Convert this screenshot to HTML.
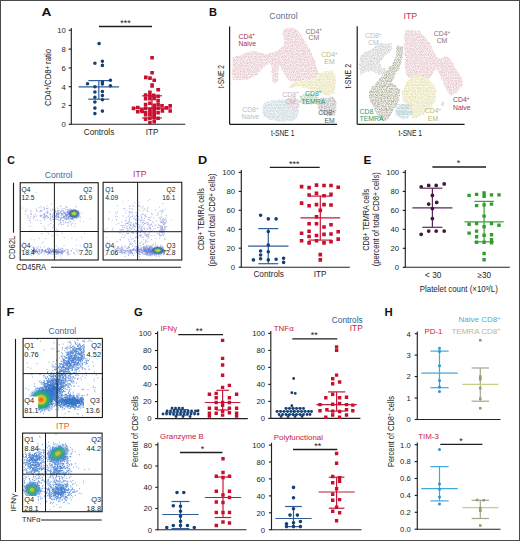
<!DOCTYPE html>
<html><head><meta charset="utf-8"><style>
html,body{margin:0;padding:0;background:#fff;}
svg{display:block;font-family:"Liberation Sans", sans-serif;}
</style></head><body>
<svg width="520" height="541" viewBox="0 0 520 541">
<defs><clipPath id="cc"><rect x="20.2" y="182.7" width="78.0" height="77.30000000000001"/></clipPath><filter id="bfcc" x="-5%" y="-5%" width="110%" height="110%"><feGaussianBlur stdDeviation="0.3"/></filter><radialGradient id="g2"><stop offset="0" stop-color="#e8b42c" stop-opacity="1"/><stop offset="0.25" stop-color="#c8c83e" stop-opacity="1"/><stop offset="0.45" stop-color="#2fa272" stop-opacity="1"/><stop offset="0.7" stop-color="#3a66b6" stop-opacity="0.85"/><stop offset="0.88" stop-color="#9a86dc" stop-opacity="0.5"/><stop offset="1" stop-color="#9a86dc" stop-opacity="0"/></radialGradient><clipPath id="ci"><rect x="103.1" y="182.3" width="78.70000000000002" height="77.69999999999999"/></clipPath><filter id="bfci" x="-5%" y="-5%" width="110%" height="110%"><feGaussianBlur stdDeviation="0.3"/></filter><radialGradient id="g5"><stop offset="0" stop-color="#e8b42c" stop-opacity="1"/><stop offset="0.25" stop-color="#c8c83e" stop-opacity="1"/><stop offset="0.45" stop-color="#2fa272" stop-opacity="1"/><stop offset="0.7" stop-color="#3a66b6" stop-opacity="0.85"/><stop offset="0.88" stop-color="#9a86dc" stop-opacity="0.5"/><stop offset="1" stop-color="#9a86dc" stop-opacity="0"/></radialGradient><clipPath id="fc"><rect x="23.1" y="338.4" width="79.30000000000001" height="79.10000000000002"/></clipPath><filter id="bffc" x="-5%" y="-5%" width="110%" height="110%"><feGaussianBlur stdDeviation="0.3"/></filter><radialGradient id="g8"><stop offset="0" stop-color="#e8581e" stop-opacity="1"/><stop offset="0.17" stop-color="#ee8a20" stop-opacity="1"/><stop offset="0.3" stop-color="#d9cf3e" stop-opacity="1"/><stop offset="0.46" stop-color="#3fb04a" stop-opacity="1"/><stop offset="0.66" stop-color="#1e9fa6" stop-opacity="0.85"/><stop offset="0.85" stop-color="#3a80c8" stop-opacity="0.35"/><stop offset="1" stop-color="#3a80c8" stop-opacity="0"/></radialGradient><clipPath id="fi"><rect x="22.6" y="433.1" width="79.5" height="78.59999999999997"/></clipPath><filter id="bffi" x="-5%" y="-5%" width="110%" height="110%"><feGaussianBlur stdDeviation="0.3"/></filter><radialGradient id="g11"><stop offset="0" stop-color="#e39a2c" stop-opacity="1"/><stop offset="0.12" stop-color="#d8c43c" stop-opacity="1"/><stop offset="0.28" stop-color="#5ab44a" stop-opacity="0.95"/><stop offset="0.5" stop-color="#2aa596" stop-opacity="0.8"/><stop offset="0.75" stop-color="#4a8ac8" stop-opacity="0.35"/><stop offset="1" stop-color="#4a86c8" stop-opacity="0"/></radialGradient><radialGradient id="g12"><stop offset="0" stop-color="#e39a2c" stop-opacity="1"/><stop offset="0.12" stop-color="#d8c43c" stop-opacity="1"/><stop offset="0.28" stop-color="#5ab44a" stop-opacity="0.95"/><stop offset="0.5" stop-color="#2aa596" stop-opacity="0.8"/><stop offset="0.75" stop-color="#4a8ac8" stop-opacity="0.35"/><stop offset="1" stop-color="#4a86c8" stop-opacity="0"/></radialGradient><pattern id="pk" width="2.0" height="2.0" patternUnits="userSpaceOnUse" patternTransform="rotate(30)"><rect width="2.0" height="2.0" fill="#f7eaec"/><circle cx="1.0" cy="1.0" r="0.55" fill="#dcb6bd"/></pattern><pattern id="yl" width="2.0" height="2.0" patternUnits="userSpaceOnUse" patternTransform="rotate(30)"><rect width="2.0" height="2.0" fill="#f7f5dc"/><circle cx="1.0" cy="1.0" r="0.55" fill="#ddd8a6"/></pattern><pattern id="gn" width="2.0" height="2.0" patternUnits="userSpaceOnUse" patternTransform="rotate(30)"><rect width="2.0" height="2.0" fill="#e9f1ea"/><circle cx="1.0" cy="1.0" r="0.55" fill="#a9c8b5"/></pattern><pattern id="gy" width="2.0" height="2.0" patternUnits="userSpaceOnUse" patternTransform="rotate(30)"><rect width="2.0" height="2.0" fill="#ececec"/><circle cx="1.0" cy="1.0" r="0.55" fill="#acacac"/></pattern><pattern id="bl" width="2.0" height="2.0" patternUnits="userSpaceOnUse" patternTransform="rotate(30)"><rect width="2.0" height="2.0" fill="#eaf1f3"/><circle cx="1.0" cy="1.0" r="0.55" fill="#bccfd4"/></pattern><pattern id="lv" width="2.0" height="2.0" patternUnits="userSpaceOnUse" patternTransform="rotate(30)"><rect width="2.0" height="2.0" fill="#f1eaef"/><circle cx="1.0" cy="1.0" r="0.55" fill="#cdb9c6"/></pattern><pattern id="ol" width="2.0" height="2.0" patternUnits="userSpaceOnUse" patternTransform="rotate(30)"><rect width="2.0" height="2.0" fill="#efefe9"/><circle cx="1.0" cy="1.0" r="0.55" fill="#a4a492"/></pattern><pattern id="lg" width="2.0" height="2.0" patternUnits="userSpaceOnUse" patternTransform="rotate(30)"><rect width="2.0" height="2.0" fill="#f2f2f2"/><circle cx="1.0" cy="1.0" r="0.55" fill="#c4c4c4"/></pattern></defs>
<rect x="0" y="0" width="520" height="541" fill="#fff"/>
<text x="41.5" y="16" font-size="10.8" fill="#111" font-weight="bold" textLength="9.9" lengthAdjust="spacingAndGlyphs" >A</text>
<text x="209.1" y="16.2" font-size="10.8" fill="#111" font-weight="bold" textLength="8.0" lengthAdjust="spacingAndGlyphs" >B</text>
<text x="7.2" y="164.4" font-size="10.8" fill="#111" font-weight="bold" textLength="7.6000000000000005" lengthAdjust="spacingAndGlyphs" >C</text>
<text x="197.9" y="164.1" font-size="10.8" fill="#111" font-weight="bold" textLength="9.200000000000001" lengthAdjust="spacingAndGlyphs" >D</text>
<text x="363.6" y="164.2" font-size="10.8" fill="#111" font-weight="bold" textLength="7.9" lengthAdjust="spacingAndGlyphs" >E</text>
<text x="6.5" y="316.3" font-size="10.8" fill="#111" font-weight="bold" textLength="7.9" lengthAdjust="spacingAndGlyphs" >F</text>
<text x="134" y="316.4" font-size="10.8" fill="#111" font-weight="bold" textLength="8.7" lengthAdjust="spacingAndGlyphs" >G</text>
<text x="384.4" y="315.6" font-size="10.8" fill="#111" font-weight="bold" textLength="8.2" lengthAdjust="spacingAndGlyphs" >H</text>
<line x1="71.3" y1="28" x2="71.3" y2="124.8" stroke="#222" stroke-width="1.15"/>
<line x1="68.7" y1="124.3" x2="71.3" y2="124.3" stroke="#222" stroke-width="1.15"/>
<text x="65.7" y="127.1" font-size="7.7" fill="#1e1e1e" text-anchor="end" >0</text>
<line x1="68.7" y1="105.5" x2="71.3" y2="105.5" stroke="#222" stroke-width="1.15"/>
<text x="65.7" y="108.3" font-size="7.7" fill="#1e1e1e" text-anchor="end" >2</text>
<line x1="68.7" y1="86.7" x2="71.3" y2="86.7" stroke="#222" stroke-width="1.15"/>
<text x="65.7" y="89.5" font-size="7.7" fill="#1e1e1e" text-anchor="end" >4</text>
<line x1="68.7" y1="67.9" x2="71.3" y2="67.9" stroke="#222" stroke-width="1.15"/>
<text x="65.7" y="70.7" font-size="7.7" fill="#1e1e1e" text-anchor="end" >6</text>
<line x1="68.7" y1="49.1" x2="71.3" y2="49.1" stroke="#222" stroke-width="1.15"/>
<text x="65.7" y="51.9" font-size="7.7" fill="#1e1e1e" text-anchor="end" >8</text>
<line x1="68.7" y1="30.3" x2="71.3" y2="30.3" stroke="#222" stroke-width="1.15"/>
<text x="65.7" y="33.1" font-size="7.7" fill="#1e1e1e" text-anchor="end" >10</text>
<line x1="71.3" y1="124.3" x2="185.2" y2="124.3" stroke="#222" stroke-width="1.1"/>
<text x="99" y="135" font-size="8.2" fill="#1e1e1e" text-anchor="middle" >Controls</text>
<text x="152" y="135" font-size="8.2" fill="#1e1e1e" text-anchor="middle" >ITP</text>
<text transform="translate(51.3,77.4) rotate(-90)" x="0" y="0" font-size="9.2" fill="#222" text-anchor="middle" textLength="57" lengthAdjust="spacingAndGlyphs" >CD4<tspan font-size="7" dy="-1.2">+</tspan><tspan dy="1.2">/CD8</tspan><tspan font-size="7" dy="-1.2">+</tspan><tspan dy="1.2"> ratio</tspan></text>
<line x1="99" y1="26.5" x2="152" y2="26.5" stroke="#1e1e1e" stroke-width="1.3"/>
<text x="125.5" y="25.9" font-size="9" fill="#222" text-anchor="middle" >***</text>
<line x1="88.3" y1="80.6" x2="109.3" y2="80.6" stroke="#2f5f97" stroke-width="1.2"/>
<line x1="88.3" y1="99.2" x2="109.3" y2="99.2" stroke="#2f5f97" stroke-width="1.2"/>
<line x1="98.8" y1="80.6" x2="98.8" y2="99.2" stroke="#2f5f97" stroke-width="1.2"/>
<line x1="78.6" y1="86.8" x2="119" y2="86.8" stroke="#2f5f97" stroke-width="1.2"/>
<path fill="#163f74" d="M97.3 43.6a1.8 1.8 0 1 0 3.6 0a1.8 1.8 0 1 0 -3.6 0M93.1 63.2a1.8 1.8 0 1 0 3.6 0a1.8 1.8 0 1 0 -3.6 0M100.6 61.2a1.8 1.8 0 1 0 3.6 0a1.8 1.8 0 1 0 -3.6 0M100.6 65.4a1.8 1.8 0 1 0 3.6 0a1.8 1.8 0 1 0 -3.6 0M85.7 83.7a1.8 1.8 0 1 0 3.6 0a1.8 1.8 0 1 0 -3.6 0M108.6 80.2a1.8 1.8 0 1 0 3.6 0a1.8 1.8 0 1 0 -3.6 0M108.6 85.7a1.8 1.8 0 1 0 3.6 0a1.8 1.8 0 1 0 -3.6 0M100.6 82a1.8 1.8 0 1 0 3.6 0a1.8 1.8 0 1 0 -3.6 0M100.6 84a1.8 1.8 0 1 0 3.6 0a1.8 1.8 0 1 0 -3.6 0M93.1 86.8a1.8 1.8 0 1 0 3.6 0a1.8 1.8 0 1 0 -3.6 0M93.1 92a1.8 1.8 0 1 0 3.6 0a1.8 1.8 0 1 0 -3.6 0M100.6 91.5a1.8 1.8 0 1 0 3.6 0a1.8 1.8 0 1 0 -3.6 0M100.6 95.6a1.8 1.8 0 1 0 3.6 0a1.8 1.8 0 1 0 -3.6 0M93.1 97.3a1.8 1.8 0 1 0 3.6 0a1.8 1.8 0 1 0 -3.6 0M93.1 102a1.8 1.8 0 1 0 3.6 0a1.8 1.8 0 1 0 -3.6 0M100.6 99.8a1.8 1.8 0 1 0 3.6 0a1.8 1.8 0 1 0 -3.6 0M93.1 108.1a1.8 1.8 0 1 0 3.6 0a1.8 1.8 0 1 0 -3.6 0M93.1 113.6a1.8 1.8 0 1 0 3.6 0a1.8 1.8 0 1 0 -3.6 0M100.6 111.1a1.8 1.8 0 1 0 3.6 0a1.8 1.8 0 1 0 -3.6 0"/>
<line x1="142" y1="95.8" x2="162" y2="95.8" stroke="#c41a3a" stroke-width="1.2"/>
<line x1="142" y1="118" x2="162" y2="118" stroke="#c41a3a" stroke-width="1.2"/>
<line x1="152" y1="95.8" x2="152" y2="118" stroke="#c41a3a" stroke-width="1.2"/>
<line x1="132.4" y1="108.2" x2="171.6" y2="108.2" stroke="#c41a3a" stroke-width="1.2"/>
<path fill="#c8102e" d="M150.3 55.9h3.6v3.6h-3.6zM150.3 71h3.6v3.6h-3.6zM144 75.6h3.6v3.6h-3.6zM148.2 76.3h3.6v3.6h-3.6zM152.4 78.4h3.6v3.6h-3.6zM150.3 83.3h3.6v3.6h-3.6zM156.5 88h3.6v3.6h-3.6zM150.3 84.1h3.6v3.6h-3.6zM156.3 88h3.6v3.6h-3.6zM148.1 90.6h3.6v3.6h-3.6zM143.8 93.2h3.6v3.6h-3.6zM148.1 94h3.6v3.6h-3.6zM152 93.6h3.6v3.6h-3.6zM156.3 94.4h3.6v3.6h-3.6zM143.8 97h3.6v3.6h-3.6zM148.1 97h3.6v3.6h-3.6zM152.4 96.6h3.6v3.6h-3.6zM156.3 98.8h3.6v3.6h-3.6zM143.8 102.7h3.6v3.6h-3.6zM148.1 101.4h3.6v3.6h-3.6zM152.4 103.5h3.6v3.6h-3.6zM156.3 102.7h3.6v3.6h-3.6zM160.2 104h3.6v3.6h-3.6zM168.4 104h3.6v3.6h-3.6zM131.7 106.6h3.6v3.6h-3.6zM136 105.7h3.6v3.6h-3.6zM139.9 108.3h3.6v3.6h-3.6zM143.8 106.6h3.6v3.6h-3.6zM148.1 107.4h3.6v3.6h-3.6zM152.4 107h3.6v3.6h-3.6zM156.3 106.6h3.6v3.6h-3.6zM160.6 108.3h3.6v3.6h-3.6zM164.5 106.1h3.6v3.6h-3.6zM168.4 109.2h3.6v3.6h-3.6zM136 110h3.6v3.6h-3.6zM140.3 109.6h3.6v3.6h-3.6zM143.8 110.9h3.6v3.6h-3.6zM148.1 110h3.6v3.6h-3.6zM152.4 110.5h3.6v3.6h-3.6zM156.3 110.9h3.6v3.6h-3.6zM160.6 109.2h3.6v3.6h-3.6zM143.8 113h3.6v3.6h-3.6zM148.1 112.6h3.6v3.6h-3.6zM152.4 113.5h3.6v3.6h-3.6zM143.8 117.4h3.6v3.6h-3.6zM148.1 116.5h3.6v3.6h-3.6zM152.4 116.1h3.6v3.6h-3.6zM156.3 116.5h3.6v3.6h-3.6zM148.1 120.8h3.6v3.6h-3.6zM152.4 120h3.6v3.6h-3.6z"/>
<line x1="241.3" y1="170.1" x2="241.3" y2="267.7" stroke="#222" stroke-width="1.15"/>
<line x1="238.7" y1="267.2" x2="241.3" y2="267.2" stroke="#222" stroke-width="1.15"/>
<text x="235.1" y="270" font-size="7.7" fill="#1e1e1e" text-anchor="end" >0</text>
<line x1="238.7" y1="248.2" x2="241.3" y2="248.2" stroke="#222" stroke-width="1.15"/>
<text x="235.1" y="251" font-size="7.7" fill="#1e1e1e" text-anchor="end" >20</text>
<line x1="238.7" y1="229.3" x2="241.3" y2="229.3" stroke="#222" stroke-width="1.15"/>
<text x="235.1" y="232.1" font-size="7.7" fill="#1e1e1e" text-anchor="end" >40</text>
<line x1="238.7" y1="210.3" x2="241.3" y2="210.3" stroke="#222" stroke-width="1.15"/>
<text x="235.1" y="213.1" font-size="7.7" fill="#1e1e1e" text-anchor="end" >60</text>
<line x1="238.7" y1="191.4" x2="241.3" y2="191.4" stroke="#222" stroke-width="1.15"/>
<text x="235.1" y="194.1" font-size="7.7" fill="#1e1e1e" text-anchor="end" >80</text>
<line x1="238.7" y1="172.4" x2="241.3" y2="172.4" stroke="#222" stroke-width="1.15"/>
<text x="235.1" y="175.2" font-size="7.7" fill="#1e1e1e" text-anchor="end" >100</text>
<line x1="241.3" y1="267.2" x2="349.8" y2="267.2" stroke="#222" stroke-width="1.1"/>
<text x="268.7" y="277.2" font-size="8.2" fill="#1e1e1e" text-anchor="middle" >Controls</text>
<text x="320" y="277.2" font-size="8.2" fill="#1e1e1e" text-anchor="middle" >ITP</text>
<text transform="translate(204.2,219.2) rotate(-90)" x="0" y="0" font-size="8.8" fill="#222" text-anchor="middle" textLength="62" lengthAdjust="spacingAndGlyphs" >CD8<tspan font-size="7.6" dy="-1">+</tspan><tspan dy="1"> TEMRA cells</tspan></text>
<text transform="translate(214.8,219.9) rotate(-90)" x="0" y="0" font-size="8.8" fill="#222" text-anchor="middle" textLength="93" lengthAdjust="spacingAndGlyphs" >(percent of total CD8<tspan font-size="7.6" dy="-1">+</tspan><tspan dy="1"> cells)</tspan></text>
<line x1="269.8" y1="167.4" x2="319.7" y2="167.4" stroke="#1e1e1e" stroke-width="1.3"/>
<text x="294.2" y="166.8" font-size="9" fill="#222" text-anchor="middle" >***</text>
<line x1="258.3" y1="228.6" x2="278.3" y2="228.6" stroke="#2f5f97" stroke-width="1.2"/>
<line x1="258.3" y1="263.7" x2="278.3" y2="263.7" stroke="#2f5f97" stroke-width="1.2"/>
<line x1="268.3" y1="228.6" x2="268.3" y2="263.7" stroke="#2f5f97" stroke-width="1.2"/>
<line x1="248.1" y1="246.1" x2="288.5" y2="246.1" stroke="#2f5f97" stroke-width="1.2"/>
<path fill="#163f74" d="M258.8 215.3a1.8 1.8 0 1 0 3.6 0a1.8 1.8 0 1 0 -3.6 0M266.5 218.9a1.8 1.8 0 1 0 3.6 0a1.8 1.8 0 1 0 -3.6 0M274.3 218.9a1.8 1.8 0 1 0 3.6 0a1.8 1.8 0 1 0 -3.6 0M266.5 231.6a1.8 1.8 0 1 0 3.6 0a1.8 1.8 0 1 0 -3.6 0M266.5 245a1.8 1.8 0 1 0 3.6 0a1.8 1.8 0 1 0 -3.6 0M258.8 251a1.8 1.8 0 1 0 3.6 0a1.8 1.8 0 1 0 -3.6 0M266.5 251.8a1.8 1.8 0 1 0 3.6 0a1.8 1.8 0 1 0 -3.6 0M258.8 255a1.8 1.8 0 1 0 3.6 0a1.8 1.8 0 1 0 -3.6 0M258.8 258.8a1.8 1.8 0 1 0 3.6 0a1.8 1.8 0 1 0 -3.6 0M251.6 259.9a1.8 1.8 0 1 0 3.6 0a1.8 1.8 0 1 0 -3.6 0M266.5 259.9a1.8 1.8 0 1 0 3.6 0a1.8 1.8 0 1 0 -3.6 0M274.3 259.3a1.8 1.8 0 1 0 3.6 0a1.8 1.8 0 1 0 -3.6 0M281.8 258.2a1.8 1.8 0 1 0 3.6 0a1.8 1.8 0 1 0 -3.6 0M281.8 262.4a1.8 1.8 0 1 0 3.6 0a1.8 1.8 0 1 0 -3.6 0"/>
<line x1="308.6" y1="196.1" x2="332" y2="196.1" stroke="#c41a3a" stroke-width="1.2"/>
<line x1="308.6" y1="240.1" x2="332" y2="240.1" stroke="#c41a3a" stroke-width="1.2"/>
<line x1="320.3" y1="196.1" x2="320.3" y2="240.1" stroke="#c41a3a" stroke-width="1.2"/>
<line x1="300.4" y1="217.8" x2="340.2" y2="217.8" stroke="#c41a3a" stroke-width="1.2"/>
<path fill="#c8102e" d="M299.8 184.8h3.6v3.6h-3.6zM307.3 185.8h3.6v3.6h-3.6zM314.7 183.3h3.6v3.6h-3.6zM322.2 183.7h3.6v3.6h-3.6zM329.2 183.7h3.6v3.6h-3.6zM336.4 185.4h3.6v3.6h-3.6zM307.3 193.2h3.6v3.6h-3.6zM314.7 191.6h3.6v3.6h-3.6zM322.2 193.9h3.6v3.6h-3.6zM329.2 192.6h3.6v3.6h-3.6zM299.8 201.3h3.6v3.6h-3.6zM307.3 203.9h3.6v3.6h-3.6zM314.7 202.8h3.6v3.6h-3.6zM322.2 202.8h3.6v3.6h-3.6zM329.2 203.2h3.6v3.6h-3.6zM318.5 208.6h3.6v3.6h-3.6zM314.7 214.9h3.6v3.6h-3.6zM307.3 222h3.6v3.6h-3.6zM314.7 222h3.6v3.6h-3.6zM322.2 225.2h3.6v3.6h-3.6zM329.2 223h3.6v3.6h-3.6zM299.8 231.5h3.6v3.6h-3.6zM307.3 229.4h3.6v3.6h-3.6zM307.3 234.7h3.6v3.6h-3.6zM314.7 233.7h3.6v3.6h-3.6zM322.2 232.6h3.6v3.6h-3.6zM329.2 232.2h3.6v3.6h-3.6zM336.4 230h3.6v3.6h-3.6zM299.8 239h3.6v3.6h-3.6zM307.3 241.1h3.6v3.6h-3.6zM314.7 239h3.6v3.6h-3.6zM322.2 241.1h3.6v3.6h-3.6zM329.2 240h3.6v3.6h-3.6zM336.4 237.3h3.6v3.6h-3.6zM318.5 252.8h3.6v3.6h-3.6zM318.5 258.1h3.6v3.6h-3.6z"/>
<line x1="405.3" y1="170.1" x2="405.3" y2="267.8" stroke="#222" stroke-width="1.15"/>
<line x1="402.7" y1="267.3" x2="405.3" y2="267.3" stroke="#222" stroke-width="1.15"/>
<text x="399" y="270.1" font-size="7.7" fill="#1e1e1e" text-anchor="end" >0</text>
<line x1="402.7" y1="248.3" x2="405.3" y2="248.3" stroke="#222" stroke-width="1.15"/>
<text x="399" y="251.1" font-size="7.7" fill="#1e1e1e" text-anchor="end" >20</text>
<line x1="402.7" y1="229.3" x2="405.3" y2="229.3" stroke="#222" stroke-width="1.15"/>
<text x="399" y="232.1" font-size="7.7" fill="#1e1e1e" text-anchor="end" >40</text>
<line x1="402.7" y1="210.4" x2="405.3" y2="210.4" stroke="#222" stroke-width="1.15"/>
<text x="399" y="213.1" font-size="7.7" fill="#1e1e1e" text-anchor="end" >60</text>
<line x1="402.7" y1="191.4" x2="405.3" y2="191.4" stroke="#222" stroke-width="1.15"/>
<text x="399" y="194.2" font-size="7.7" fill="#1e1e1e" text-anchor="end" >80</text>
<line x1="402.7" y1="172.4" x2="405.3" y2="172.4" stroke="#222" stroke-width="1.15"/>
<text x="399" y="175.2" font-size="7.7" fill="#1e1e1e" text-anchor="end" >100</text>
<line x1="405.3" y1="267.3" x2="509.8" y2="267.3" stroke="#222" stroke-width="1.1"/>
<text transform="translate(368.6,219.8) rotate(-90)" x="0" y="0" font-size="8.8" fill="#222" text-anchor="middle" textLength="62" lengthAdjust="spacingAndGlyphs" >CD8<tspan font-size="7.6" dy="-1">+</tspan><tspan dy="1"> TEMRA cells</tspan></text>
<text transform="translate(379.3,219.2) rotate(-90)" x="0" y="0" font-size="8.8" fill="#222" text-anchor="middle" textLength="94" lengthAdjust="spacingAndGlyphs" >(percent of total CD8<tspan font-size="7.6" dy="-1">+</tspan><tspan dy="1"> cells)</tspan></text>
<text x="433.2" y="277.6" font-size="8.2" fill="#1e1e1e" text-anchor="middle" >&lt; 30</text>
<text x="484.2" y="277.6" font-size="8.2" fill="#1e1e1e" text-anchor="middle" >&#8805;30</text>
<text x="458.8" y="292.4" font-size="8.4" fill="#1e1e1e" text-anchor="middle" textLength="78" lengthAdjust="spacingAndGlyphs" >Platelet count (&#215;10<tspan font-size="5.5" dy="-2.6">9</tspan><tspan dy="2.6">/L)</tspan></text>
<line x1="432.4" y1="167" x2="486" y2="167" stroke="#1e1e1e" stroke-width="1.3"/>
<text x="458.6" y="166.4" font-size="9" fill="#222" text-anchor="middle" >*</text>
<line x1="422.4" y1="188.2" x2="442.4" y2="188.2" stroke="#5b2a5c" stroke-width="1.2"/>
<line x1="422.4" y1="227.3" x2="442.4" y2="227.3" stroke="#5b2a5c" stroke-width="1.2"/>
<line x1="432.4" y1="188.2" x2="432.4" y2="227.3" stroke="#5b2a5c" stroke-width="1.2"/>
<line x1="412.4" y1="207.9" x2="452.4" y2="207.9" stroke="#5b2a5c" stroke-width="1.2"/>
<path fill="#40173f" d="M419.3 186.9a1.9 1.9 0 1 0 3.8 0a1.9 1.9 0 1 0 -3.8 0M426.8 185.4a1.9 1.9 0 1 0 3.8 0a1.9 1.9 0 1 0 -3.8 0M434.3 185.4a1.9 1.9 0 1 0 3.8 0a1.9 1.9 0 1 0 -3.8 0M442.3 183.9a1.9 1.9 0 1 0 3.8 0a1.9 1.9 0 1 0 -3.8 0M430.5 195.4a1.9 1.9 0 1 0 3.8 0a1.9 1.9 0 1 0 -3.8 0M426.8 204.1a1.9 1.9 0 1 0 3.8 0a1.9 1.9 0 1 0 -3.8 0M434.8 202.4a1.9 1.9 0 1 0 3.8 0a1.9 1.9 0 1 0 -3.8 0M430.5 208.6a1.9 1.9 0 1 0 3.8 0a1.9 1.9 0 1 0 -3.8 0M430.5 218.6a1.9 1.9 0 1 0 3.8 0a1.9 1.9 0 1 0 -3.8 0M419.3 234.3a1.9 1.9 0 1 0 3.8 0a1.9 1.9 0 1 0 -3.8 0M426.8 231.1a1.9 1.9 0 1 0 3.8 0a1.9 1.9 0 1 0 -3.8 0M434.3 231.1a1.9 1.9 0 1 0 3.8 0a1.9 1.9 0 1 0 -3.8 0M442.3 231.1a1.9 1.9 0 1 0 3.8 0a1.9 1.9 0 1 0 -3.8 0"/>
<line x1="474.3" y1="201.4" x2="493.9" y2="201.4" stroke="#3aa23a" stroke-width="1.2"/>
<line x1="474.3" y1="241.8" x2="493.9" y2="241.8" stroke="#3aa23a" stroke-width="1.2"/>
<line x1="484.1" y1="201.4" x2="484.1" y2="241.8" stroke="#3aa23a" stroke-width="1.2"/>
<line x1="464.5" y1="221.9" x2="503.7" y2="221.9" stroke="#3aa23a" stroke-width="1.2"/>
<path fill="#2f9e2f" d="M467.4 193.7h3.4v3.4h-3.4zM474.9 192.7h3.4v3.4h-3.4zM482.4 191.2h3.4v3.4h-3.4zM482.4 194.5h3.4v3.4h-3.4zM489.8 193.2h3.4v3.4h-3.4zM497.3 193.2h3.4v3.4h-3.4zM474.9 203.9h3.4v3.4h-3.4zM482.4 203.2h3.4v3.4h-3.4zM489.8 202.4h3.4v3.4h-3.4zM482.4 214.4h3.4v3.4h-3.4zM467.4 222.6h3.4v3.4h-3.4zM474.9 221.9h3.4v3.4h-3.4zM482.4 225.1h3.4v3.4h-3.4zM489.8 221.9h3.4v3.4h-3.4zM497.3 223.6h3.4v3.4h-3.4zM467.4 231.4h3.4v3.4h-3.4zM474.9 229.4h3.4v3.4h-3.4zM482.4 233.6h3.4v3.4h-3.4zM489.8 233.1h3.4v3.4h-3.4zM474.9 235.1h3.4v3.4h-3.4zM474.9 240.6h3.4v3.4h-3.4zM482.4 240.6h3.4v3.4h-3.4zM489.8 238.1h3.4v3.4h-3.4zM489.8 241.1h3.4v3.4h-3.4zM482.4 251.8h3.4v3.4h-3.4zM482.4 258.1h3.4v3.4h-3.4z"/>
<line x1="157.6" y1="331.2" x2="157.6" y2="419.1" stroke="#222" stroke-width="1.15"/>
<line x1="155" y1="418.6" x2="157.6" y2="418.6" stroke="#222" stroke-width="1.15"/>
<text x="151.5" y="421.4" font-size="7.7" fill="#1e1e1e" text-anchor="end" >0</text>
<line x1="155" y1="401.6" x2="157.6" y2="401.6" stroke="#222" stroke-width="1.15"/>
<text x="151.5" y="404.4" font-size="7.7" fill="#1e1e1e" text-anchor="end" >20</text>
<line x1="155" y1="384.6" x2="157.6" y2="384.6" stroke="#222" stroke-width="1.15"/>
<text x="151.5" y="387.3" font-size="7.7" fill="#1e1e1e" text-anchor="end" >40</text>
<line x1="155" y1="367.5" x2="157.6" y2="367.5" stroke="#222" stroke-width="1.15"/>
<text x="151.5" y="370.3" font-size="7.7" fill="#1e1e1e" text-anchor="end" >60</text>
<line x1="155" y1="350.5" x2="157.6" y2="350.5" stroke="#222" stroke-width="1.15"/>
<text x="151.5" y="353.3" font-size="7.7" fill="#1e1e1e" text-anchor="end" >80</text>
<line x1="155" y1="333.5" x2="157.6" y2="333.5" stroke="#222" stroke-width="1.15"/>
<text x="151.5" y="336.3" font-size="7.7" fill="#1e1e1e" text-anchor="end" >100</text>
<line x1="157.6" y1="418.6" x2="247.8" y2="418.6" stroke="#222" stroke-width="1.1"/>
<text x="160.6" y="330.6" font-size="7.9" fill="#c8203f" >IFN&#947;</text>
<line x1="178.3" y1="334.6" x2="223" y2="334.6" stroke="#1e1e1e" stroke-width="1.3"/>
<text x="199.2" y="334" font-size="9" fill="#222" text-anchor="middle" >**</text>
<line x1="172.5" y1="409.6" x2="188.5" y2="409.6" stroke="#2f5f97" stroke-width="1.0"/>
<line x1="172.5" y1="415.2" x2="188.5" y2="415.2" stroke="#2f5f97" stroke-width="1.0"/>
<line x1="180.5" y1="409.6" x2="180.5" y2="415.2" stroke="#2f5f97" stroke-width="1.0"/>
<line x1="165" y1="412.3" x2="196" y2="412.3" stroke="#2f5f97" stroke-width="1.0"/>
<path fill="#163f74" d="M170.6 408.3a1.45 1.45 0 1 0 2.9 0a1.45 1.45 0 1 0 -2.9 0M174.1 408.3a1.45 1.45 0 1 0 2.9 0a1.45 1.45 0 1 0 -2.9 0M177.6 408.3a1.45 1.45 0 1 0 2.9 0a1.45 1.45 0 1 0 -2.9 0M181.1 408.3a1.45 1.45 0 1 0 2.9 0a1.45 1.45 0 1 0 -2.9 0M165.6 411a1.45 1.45 0 1 0 2.9 0a1.45 1.45 0 1 0 -2.9 0M169.1 411a1.45 1.45 0 1 0 2.9 0a1.45 1.45 0 1 0 -2.9 0M172.6 411a1.45 1.45 0 1 0 2.9 0a1.45 1.45 0 1 0 -2.9 0M176.1 411a1.45 1.45 0 1 0 2.9 0a1.45 1.45 0 1 0 -2.9 0M179.6 411a1.45 1.45 0 1 0 2.9 0a1.45 1.45 0 1 0 -2.9 0M183.1 411a1.45 1.45 0 1 0 2.9 0a1.45 1.45 0 1 0 -2.9 0M186.6 411a1.45 1.45 0 1 0 2.9 0a1.45 1.45 0 1 0 -2.9 0M190.1 411a1.45 1.45 0 1 0 2.9 0a1.45 1.45 0 1 0 -2.9 0M194.1 411a1.45 1.45 0 1 0 2.9 0a1.45 1.45 0 1 0 -2.9 0M161.6 414a1.45 1.45 0 1 0 2.9 0a1.45 1.45 0 1 0 -2.9 0M165.1 414a1.45 1.45 0 1 0 2.9 0a1.45 1.45 0 1 0 -2.9 0M168.6 414a1.45 1.45 0 1 0 2.9 0a1.45 1.45 0 1 0 -2.9 0M172.1 414a1.45 1.45 0 1 0 2.9 0a1.45 1.45 0 1 0 -2.9 0M175.6 414a1.45 1.45 0 1 0 2.9 0a1.45 1.45 0 1 0 -2.9 0M179.1 414a1.45 1.45 0 1 0 2.9 0a1.45 1.45 0 1 0 -2.9 0M182.6 414a1.45 1.45 0 1 0 2.9 0a1.45 1.45 0 1 0 -2.9 0M186.1 414a1.45 1.45 0 1 0 2.9 0a1.45 1.45 0 1 0 -2.9 0M189.6 414a1.45 1.45 0 1 0 2.9 0a1.45 1.45 0 1 0 -2.9 0M193.1 414a1.45 1.45 0 1 0 2.9 0a1.45 1.45 0 1 0 -2.9 0M196.6 414a1.45 1.45 0 1 0 2.9 0a1.45 1.45 0 1 0 -2.9 0M174.6 416.6a1.45 1.45 0 1 0 2.9 0a1.45 1.45 0 1 0 -2.9 0M181.6 416.6a1.45 1.45 0 1 0 2.9 0a1.45 1.45 0 1 0 -2.9 0M188.6 416.6a1.45 1.45 0 1 0 2.9 0a1.45 1.45 0 1 0 -2.9 0M196.6 410.8a1.45 1.45 0 1 0 2.9 0a1.45 1.45 0 1 0 -2.9 0"/>
<line x1="216.3" y1="390.3" x2="228.9" y2="390.3" stroke="#c41a3a" stroke-width="1.2"/>
<line x1="216.3" y1="410" x2="228.9" y2="410" stroke="#c41a3a" stroke-width="1.2"/>
<line x1="222.6" y1="390.3" x2="222.6" y2="410" stroke="#c41a3a" stroke-width="1.2"/>
<line x1="204.8" y1="402.5" x2="240.4" y2="402.5" stroke="#c41a3a" stroke-width="1.2"/>
<path fill="#c8102e" d="M220.9 338.7h3.4v3.4h-3.4zM220.9 356.7h3.4v3.4h-3.4zM220.9 363.3h3.4v3.4h-3.4zM220.9 373.6h3.4v3.4h-3.4zM220.9 385.7h3.4v3.4h-3.4zM227.7 383.7h3.4v3.4h-3.4zM207.7 392.5h3.4v3.4h-3.4zM214.5 391.7h3.4v3.4h-3.4zM234.9 392.5h3.4v3.4h-3.4zM214.5 396h3.4v3.4h-3.4zM227.7 396h3.4v3.4h-3.4zM214.5 400.8h3.4v3.4h-3.4zM220.9 400.8h3.4v3.4h-3.4zM227.7 400.8h3.4v3.4h-3.4zM207.7 406.6h3.4v3.4h-3.4zM214.5 406.6h3.4v3.4h-3.4zM220.9 403.7h3.4v3.4h-3.4zM227.7 406.6h3.4v3.4h-3.4zM234.9 406.6h3.4v3.4h-3.4zM207.7 411.5h3.4v3.4h-3.4zM214.5 411.5h3.4v3.4h-3.4zM220.9 409.6h3.4v3.4h-3.4zM220.9 413.4h3.4v3.4h-3.4zM227.7 411.1h3.4v3.4h-3.4zM234.9 411.5h3.4v3.4h-3.4zM234.9 414.4h3.4v3.4h-3.4zM207.7 414.4h3.4v3.4h-3.4z"/>
<line x1="270.8" y1="331.1" x2="270.8" y2="418.9" stroke="#222" stroke-width="1.15"/>
<line x1="268.2" y1="418.4" x2="270.8" y2="418.4" stroke="#222" stroke-width="1.15"/>
<text x="265" y="421.2" font-size="7.7" fill="#1e1e1e" text-anchor="end" >0</text>
<line x1="268.2" y1="401.4" x2="270.8" y2="401.4" stroke="#222" stroke-width="1.15"/>
<text x="265" y="404.2" font-size="7.7" fill="#1e1e1e" text-anchor="end" >20</text>
<line x1="268.2" y1="384.4" x2="270.8" y2="384.4" stroke="#222" stroke-width="1.15"/>
<text x="265" y="387.2" font-size="7.7" fill="#1e1e1e" text-anchor="end" >40</text>
<line x1="268.2" y1="367.4" x2="270.8" y2="367.4" stroke="#222" stroke-width="1.15"/>
<text x="265" y="370.2" font-size="7.7" fill="#1e1e1e" text-anchor="end" >60</text>
<line x1="268.2" y1="350.4" x2="270.8" y2="350.4" stroke="#222" stroke-width="1.15"/>
<text x="265" y="353.2" font-size="7.7" fill="#1e1e1e" text-anchor="end" >80</text>
<line x1="268.2" y1="333.4" x2="270.8" y2="333.4" stroke="#222" stroke-width="1.15"/>
<text x="265" y="336.2" font-size="7.7" fill="#1e1e1e" text-anchor="end" >100</text>
<line x1="270.8" y1="418.4" x2="360.4" y2="418.4" stroke="#222" stroke-width="1.1"/>
<text x="273.8" y="330.8" font-size="7.9" fill="#c8203f" >TNF&#945;</text>
<text x="362.7" y="322.7" font-size="8.3" fill="#2a5a98" text-anchor="end" >Controls</text>
<text x="362.7" y="330.8" font-size="8.3" fill="#c8203f" text-anchor="end" >ITP</text>
<line x1="292.3" y1="338.8" x2="337.3" y2="338.8" stroke="#1e1e1e" stroke-width="1.3"/>
<text x="314.2" y="338.2" font-size="9" fill="#222" text-anchor="middle" >**</text>
<line x1="284.5" y1="408.2" x2="302.5" y2="408.2" stroke="#2f5f97" stroke-width="1.0"/>
<line x1="284.5" y1="414.6" x2="302.5" y2="414.6" stroke="#2f5f97" stroke-width="1.0"/>
<line x1="293.5" y1="408.2" x2="293.5" y2="414.6" stroke="#2f5f97" stroke-width="1.0"/>
<line x1="275.5" y1="411.3" x2="311.5" y2="411.3" stroke="#2f5f97" stroke-width="1.0"/>
<path fill="#163f74" d="M292.2 378.5a1.45 1.45 0 1 0 2.9 0a1.45 1.45 0 1 0 -2.9 0M290.4 392.8a1.45 1.45 0 1 0 2.9 0a1.45 1.45 0 1 0 -2.9 0M293.8 393.4a1.45 1.45 0 1 0 2.9 0a1.45 1.45 0 1 0 -2.9 0M290.4 405.8a1.45 1.45 0 1 0 2.9 0a1.45 1.45 0 1 0 -2.9 0M284.6 408.5a1.45 1.45 0 1 0 2.9 0a1.45 1.45 0 1 0 -2.9 0M288.1 408.5a1.45 1.45 0 1 0 2.9 0a1.45 1.45 0 1 0 -2.9 0M291.6 408.5a1.45 1.45 0 1 0 2.9 0a1.45 1.45 0 1 0 -2.9 0M295.1 408.5a1.45 1.45 0 1 0 2.9 0a1.45 1.45 0 1 0 -2.9 0M298.6 408.5a1.45 1.45 0 1 0 2.9 0a1.45 1.45 0 1 0 -2.9 0M302.1 408.5a1.45 1.45 0 1 0 2.9 0a1.45 1.45 0 1 0 -2.9 0M275.6 411.5a1.45 1.45 0 1 0 2.9 0a1.45 1.45 0 1 0 -2.9 0M279.1 411.5a1.45 1.45 0 1 0 2.9 0a1.45 1.45 0 1 0 -2.9 0M282.6 411.5a1.45 1.45 0 1 0 2.9 0a1.45 1.45 0 1 0 -2.9 0M286.1 411.5a1.45 1.45 0 1 0 2.9 0a1.45 1.45 0 1 0 -2.9 0M289.6 411.5a1.45 1.45 0 1 0 2.9 0a1.45 1.45 0 1 0 -2.9 0M293.1 411.5a1.45 1.45 0 1 0 2.9 0a1.45 1.45 0 1 0 -2.9 0M296.6 411.5a1.45 1.45 0 1 0 2.9 0a1.45 1.45 0 1 0 -2.9 0M300.1 411.5a1.45 1.45 0 1 0 2.9 0a1.45 1.45 0 1 0 -2.9 0M303.6 411.5a1.45 1.45 0 1 0 2.9 0a1.45 1.45 0 1 0 -2.9 0M307.1 411.5a1.45 1.45 0 1 0 2.9 0a1.45 1.45 0 1 0 -2.9 0M310.1 411.5a1.45 1.45 0 1 0 2.9 0a1.45 1.45 0 1 0 -2.9 0M277.6 414.5a1.45 1.45 0 1 0 2.9 0a1.45 1.45 0 1 0 -2.9 0M281.1 414.5a1.45 1.45 0 1 0 2.9 0a1.45 1.45 0 1 0 -2.9 0M284.6 414.5a1.45 1.45 0 1 0 2.9 0a1.45 1.45 0 1 0 -2.9 0M288.1 414.5a1.45 1.45 0 1 0 2.9 0a1.45 1.45 0 1 0 -2.9 0M291.6 414.5a1.45 1.45 0 1 0 2.9 0a1.45 1.45 0 1 0 -2.9 0M295.1 414.5a1.45 1.45 0 1 0 2.9 0a1.45 1.45 0 1 0 -2.9 0M298.6 414.5a1.45 1.45 0 1 0 2.9 0a1.45 1.45 0 1 0 -2.9 0M302.1 414.5a1.45 1.45 0 1 0 2.9 0a1.45 1.45 0 1 0 -2.9 0M305.6 414.5a1.45 1.45 0 1 0 2.9 0a1.45 1.45 0 1 0 -2.9 0M308.6 414.5a1.45 1.45 0 1 0 2.9 0a1.45 1.45 0 1 0 -2.9 0M279.6 416.6a1.45 1.45 0 1 0 2.9 0a1.45 1.45 0 1 0 -2.9 0M286.6 416.6a1.45 1.45 0 1 0 2.9 0a1.45 1.45 0 1 0 -2.9 0M293.6 416.6a1.45 1.45 0 1 0 2.9 0a1.45 1.45 0 1 0 -2.9 0M300.6 416.6a1.45 1.45 0 1 0 2.9 0a1.45 1.45 0 1 0 -2.9 0"/>
<line x1="327.9" y1="391.9" x2="345.3" y2="391.9" stroke="#c41a3a" stroke-width="1.2"/>
<line x1="327.9" y1="411.1" x2="345.3" y2="411.1" stroke="#c41a3a" stroke-width="1.2"/>
<line x1="336.6" y1="391.9" x2="336.6" y2="411.1" stroke="#c41a3a" stroke-width="1.2"/>
<line x1="316.4" y1="404.6" x2="356.8" y2="404.6" stroke="#c41a3a" stroke-width="1.2"/>
<path fill="#c8102e" d="M334.9 345.2h3.4v3.4h-3.4zM334.9 348.7h3.4v3.4h-3.4zM334.9 373.4h3.4v3.4h-3.4zM331 377.1h3.4v3.4h-3.4zM337.9 380.3h3.4v3.4h-3.4zM331 382.1h3.4v3.4h-3.4zM331 392.5h3.4v3.4h-3.4zM337.9 396h3.4v3.4h-3.4zM324.1 396h3.4v3.4h-3.4zM344.8 395.5h3.4v3.4h-3.4zM318.3 402.9h3.4v3.4h-3.4zM331 402.5h3.4v3.4h-3.4zM337.9 401.8h3.4v3.4h-3.4zM344.8 402.9h3.4v3.4h-3.4zM351.1 403.4h3.4v3.4h-3.4zM318.3 409.1h3.4v3.4h-3.4zM325.2 408h3.4v3.4h-3.4zM331 409.4h3.4v3.4h-3.4zM337.9 409.8h3.4v3.4h-3.4zM344.8 408h3.4v3.4h-3.4zM351.1 409.1h3.4v3.4h-3.4zM324.1 415.6h3.4v3.4h-3.4zM331 413.3h3.4v3.4h-3.4zM337.9 415.6h3.4v3.4h-3.4zM344.8 413.3h3.4v3.4h-3.4z"/>
<line x1="157.9" y1="442.5" x2="157.9" y2="530.2" stroke="#222" stroke-width="1.15"/>
<line x1="155.3" y1="529.7" x2="157.9" y2="529.7" stroke="#222" stroke-width="1.15"/>
<text x="152.1" y="532.5" font-size="7.7" fill="#1e1e1e" text-anchor="end" >0</text>
<line x1="155.3" y1="508.5" x2="157.9" y2="508.5" stroke="#222" stroke-width="1.15"/>
<text x="152.1" y="511.3" font-size="7.7" fill="#1e1e1e" text-anchor="end" >20</text>
<line x1="155.3" y1="487.3" x2="157.9" y2="487.3" stroke="#222" stroke-width="1.15"/>
<text x="152.1" y="490" font-size="7.7" fill="#1e1e1e" text-anchor="end" >40</text>
<line x1="155.3" y1="466" x2="157.9" y2="466" stroke="#222" stroke-width="1.15"/>
<text x="152.1" y="468.8" font-size="7.7" fill="#1e1e1e" text-anchor="end" >60</text>
<line x1="155.3" y1="444.8" x2="157.9" y2="444.8" stroke="#222" stroke-width="1.15"/>
<text x="152.1" y="447.6" font-size="7.7" fill="#1e1e1e" text-anchor="end" >80</text>
<line x1="157.9" y1="529.7" x2="246.5" y2="529.7" stroke="#222" stroke-width="1.1"/>
<text x="160" y="438.8" font-size="7.9" fill="#c8203f" >Granzyme B</text>
<line x1="180" y1="452.5" x2="222.5" y2="452.5" stroke="#1e1e1e" stroke-width="1.3"/>
<text x="202.5" y="451.9" font-size="9" fill="#222" text-anchor="middle" >*</text>
<line x1="171.5" y1="501.5" x2="189.5" y2="501.5" stroke="#2f5f97" stroke-width="1.2"/>
<line x1="171.5" y1="528.6" x2="189.5" y2="528.6" stroke="#2f5f97" stroke-width="1.2"/>
<line x1="180.5" y1="501.5" x2="180.5" y2="528.6" stroke="#2f5f97" stroke-width="1.2"/>
<line x1="162.3" y1="514.5" x2="198.7" y2="514.5" stroke="#2f5f97" stroke-width="1.2"/>
<path fill="#163f74" d="M175.2 492.5a1.8 1.8 0 1 0 3.6 0a1.8 1.8 0 1 0 -3.6 0M182 492.5a1.8 1.8 0 1 0 3.6 0a1.8 1.8 0 1 0 -3.6 0M171.5 505.8a1.8 1.8 0 1 0 3.6 0a1.8 1.8 0 1 0 -3.6 0M178.7 506.3a1.8 1.8 0 1 0 3.6 0a1.8 1.8 0 1 0 -3.6 0M178.7 511.3a1.8 1.8 0 1 0 3.6 0a1.8 1.8 0 1 0 -3.6 0M178.7 516.3a1.8 1.8 0 1 0 3.6 0a1.8 1.8 0 1 0 -3.6 0M178.7 521.3a1.8 1.8 0 1 0 3.6 0a1.8 1.8 0 1 0 -3.6 0M165 527.5a1.8 1.8 0 1 0 3.6 0a1.8 1.8 0 1 0 -3.6 0M171.5 525.5a1.8 1.8 0 1 0 3.6 0a1.8 1.8 0 1 0 -3.6 0M178.7 525.5a1.8 1.8 0 1 0 3.6 0a1.8 1.8 0 1 0 -3.6 0M185.7 525.5a1.8 1.8 0 1 0 3.6 0a1.8 1.8 0 1 0 -3.6 0M192.5 527.5a1.8 1.8 0 1 0 3.6 0a1.8 1.8 0 1 0 -3.6 0"/>
<line x1="214.8" y1="477" x2="231.2" y2="477" stroke="#c41a3a" stroke-width="1.2"/>
<line x1="214.8" y1="517.5" x2="231.2" y2="517.5" stroke="#c41a3a" stroke-width="1.2"/>
<line x1="223" y1="477" x2="223" y2="517.5" stroke="#c41a3a" stroke-width="1.2"/>
<line x1="204.8" y1="497.5" x2="241.2" y2="497.5" stroke="#c41a3a" stroke-width="1.2"/>
<path fill="#c8102e" d="M221.3 457.1h3.4v3.4h-3.4zM221.3 470.8h3.4v3.4h-3.4zM214.6 474.6h3.4v3.4h-3.4zM227.8 474.6h3.4v3.4h-3.4zM221.3 475.8h3.4v3.4h-3.4zM214.6 489.6h3.4v3.4h-3.4zM227.8 489.6h3.4v3.4h-3.4zM221.3 493.3h3.4v3.4h-3.4zM227.8 495.8h3.4v3.4h-3.4zM214.6 500.3h3.4v3.4h-3.4zM221.3 500.8h3.4v3.4h-3.4zM214.6 510.8h3.4v3.4h-3.4zM227.8 510.8h3.4v3.4h-3.4zM221.3 510.8h3.4v3.4h-3.4zM221.3 520.3h3.4v3.4h-3.4zM227.8 521.3h3.4v3.4h-3.4zM214.6 523.8h3.4v3.4h-3.4z"/>
<line x1="271.5" y1="442.8" x2="271.5" y2="530.2" stroke="#222" stroke-width="1.15"/>
<line x1="268.9" y1="529.7" x2="271.5" y2="529.7" stroke="#222" stroke-width="1.15"/>
<text x="265" y="532.5" font-size="7.7" fill="#1e1e1e" text-anchor="end" >0</text>
<line x1="268.9" y1="512.8" x2="271.5" y2="512.8" stroke="#222" stroke-width="1.15"/>
<text x="265" y="515.6" font-size="7.7" fill="#1e1e1e" text-anchor="end" >20</text>
<line x1="268.9" y1="495.9" x2="271.5" y2="495.9" stroke="#222" stroke-width="1.15"/>
<text x="265" y="498.6" font-size="7.7" fill="#1e1e1e" text-anchor="end" >40</text>
<line x1="268.9" y1="478.9" x2="271.5" y2="478.9" stroke="#222" stroke-width="1.15"/>
<text x="265" y="481.7" font-size="7.7" fill="#1e1e1e" text-anchor="end" >60</text>
<line x1="268.9" y1="462" x2="271.5" y2="462" stroke="#222" stroke-width="1.15"/>
<text x="265" y="464.8" font-size="7.7" fill="#1e1e1e" text-anchor="end" >80</text>
<line x1="268.9" y1="445.1" x2="271.5" y2="445.1" stroke="#222" stroke-width="1.15"/>
<text x="265" y="447.9" font-size="7.7" fill="#1e1e1e" text-anchor="end" >100</text>
<line x1="271.5" y1="529.7" x2="361.5" y2="529.7" stroke="#222" stroke-width="1.1"/>
<text x="273.8" y="439.6" font-size="7.9" fill="#c8203f" >Polyfunctional</text>
<line x1="293" y1="449.5" x2="337.3" y2="449.5" stroke="#1e1e1e" stroke-width="1.3"/>
<text x="317.7" y="448.9" font-size="9" fill="#222" text-anchor="middle" >**</text>
<line x1="285.1" y1="506.5" x2="301.9" y2="506.5" stroke="#2f5f97" stroke-width="1.2"/>
<line x1="285.1" y1="526.6" x2="301.9" y2="526.6" stroke="#2f5f97" stroke-width="1.2"/>
<line x1="293.5" y1="506.5" x2="293.5" y2="526.6" stroke="#2f5f97" stroke-width="1.2"/>
<line x1="275.4" y1="518.5" x2="311.6" y2="518.5" stroke="#2f5f97" stroke-width="1.2"/>
<path fill="#163f74" d="M291.7 487.4a1.8 1.8 0 1 0 3.6 0a1.8 1.8 0 1 0 -3.6 0M291.7 497.8a1.8 1.8 0 1 0 3.6 0a1.8 1.8 0 1 0 -3.6 0M291.7 508.8a1.8 1.8 0 1 0 3.6 0a1.8 1.8 0 1 0 -3.6 0M288.2 515.1a1.8 1.8 0 1 0 3.6 0a1.8 1.8 0 1 0 -3.6 0M295.6 515.1a1.8 1.8 0 1 0 3.6 0a1.8 1.8 0 1 0 -3.6 0M284.7 523.8a1.8 1.8 0 1 0 3.6 0a1.8 1.8 0 1 0 -3.6 0M291.7 522.7a1.8 1.8 0 1 0 3.6 0a1.8 1.8 0 1 0 -3.6 0M298.6 521.5a1.8 1.8 0 1 0 3.6 0a1.8 1.8 0 1 0 -3.6 0M284.7 526.6a1.8 1.8 0 1 0 3.6 0a1.8 1.8 0 1 0 -3.6 0M291.7 526.6a1.8 1.8 0 1 0 3.6 0a1.8 1.8 0 1 0 -3.6 0M298.6 526.6a1.8 1.8 0 1 0 3.6 0a1.8 1.8 0 1 0 -3.6 0"/>
<line x1="328.8" y1="477.2" x2="344.4" y2="477.2" stroke="#c41a3a" stroke-width="1.2"/>
<line x1="328.8" y1="508.2" x2="344.4" y2="508.2" stroke="#c41a3a" stroke-width="1.2"/>
<line x1="336.6" y1="477.2" x2="336.6" y2="508.2" stroke="#c41a3a" stroke-width="1.2"/>
<line x1="318.5" y1="492" x2="354.7" y2="492" stroke="#c41a3a" stroke-width="1.2"/>
<path fill="#c8102e" d="M334.9 451.8h3.4v3.4h-3.4zM334.9 461.5h3.4v3.4h-3.4zM331 474.8h3.4v3.4h-3.4zM337.9 476h3.4v3.4h-3.4zM331 481.1h3.4v3.4h-3.4zM337.9 479.5h3.4v3.4h-3.4zM334.9 487.1h3.4v3.4h-3.4zM331 492.6h3.4v3.4h-3.4zM331 498.6h3.4v3.4h-3.4zM337.9 497.9h3.4v3.4h-3.4zM334.9 505.5h3.4v3.4h-3.4zM331 509.5h3.4v3.4h-3.4zM337.9 511.1h3.4v3.4h-3.4zM334.9 519.1h3.4v3.4h-3.4z"/>
<text transform="translate(138,431.4) rotate(-90)" x="0" y="0" font-size="9.4" fill="#222" text-anchor="middle" textLength="71" lengthAdjust="spacingAndGlyphs" >Percent of CD8<tspan font-size="6.2" dy="-2.8">+</tspan><tspan dy="2.8"> cells</tspan></text>
<line x1="417.3" y1="331.4" x2="417.3" y2="420" stroke="#222" stroke-width="1.15"/>
<line x1="414.7" y1="419.5" x2="417.3" y2="419.5" stroke="#222" stroke-width="1.15"/>
<text x="410.7" y="422.3" font-size="7.7" fill="#1e1e1e" text-anchor="end" >0</text>
<line x1="414.7" y1="398.1" x2="417.3" y2="398.1" stroke="#222" stroke-width="1.15"/>
<text x="410.7" y="400.8" font-size="7.7" fill="#1e1e1e" text-anchor="end" >1</text>
<line x1="414.7" y1="376.6" x2="417.3" y2="376.6" stroke="#222" stroke-width="1.15"/>
<text x="410.7" y="379.4" font-size="7.7" fill="#1e1e1e" text-anchor="end" >2</text>
<line x1="414.7" y1="355.1" x2="417.3" y2="355.1" stroke="#222" stroke-width="1.15"/>
<text x="410.7" y="357.9" font-size="7.7" fill="#1e1e1e" text-anchor="end" >3</text>
<line x1="414.7" y1="333.7" x2="417.3" y2="333.7" stroke="#222" stroke-width="1.15"/>
<text x="410.7" y="336.5" font-size="7.7" fill="#1e1e1e" text-anchor="end" >4</text>
<line x1="417.3" y1="419.5" x2="500.5" y2="419.5" stroke="#222" stroke-width="1.1"/>
<text x="424.5" y="333.7" font-size="7.9" fill="#c8203f" >PD-1</text>
<text x="500.5" y="322.1" font-size="8.0" fill="#46aee0" text-anchor="end" >Naive CD8<tspan font-size="5.5" dy="-2.6">+</tspan></text>
<text x="500.5" y="333.7" font-size="8.0" fill="#b9b98a" text-anchor="end" >TEMRA CD8<tspan font-size="5.5" dy="-2.6">+</tspan></text>
<line x1="430.4" y1="351.1" x2="448.6" y2="351.1" stroke="#40a8df" stroke-width="1.2"/>
<line x1="430.4" y1="387.7" x2="448.6" y2="387.7" stroke="#40a8df" stroke-width="1.2"/>
<line x1="439.5" y1="351.1" x2="439.5" y2="387.7" stroke="#40a8df" stroke-width="1.2"/>
<line x1="421.3" y1="373.2" x2="457.7" y2="373.2" stroke="#40a8df" stroke-width="1.2"/>
<path fill="#2b93cf" d="M438 348.3a1.5 1.5 0 1 0 3 0a1.5 1.5 0 1 0 -3 0M438 351.4a1.5 1.5 0 1 0 3 0a1.5 1.5 0 1 0 -3 0M438 365.7a1.5 1.5 0 1 0 3 0a1.5 1.5 0 1 0 -3 0M438 380.5a1.5 1.5 0 1 0 3 0a1.5 1.5 0 1 0 -3 0M438 387a1.5 1.5 0 1 0 3 0a1.5 1.5 0 1 0 -3 0M438 391.4a1.5 1.5 0 1 0 3 0a1.5 1.5 0 1 0 -3 0"/>
<line x1="471.6" y1="368" x2="489" y2="368" stroke="#a6a68a" stroke-width="1.2"/>
<line x1="471.6" y1="401.2" x2="489" y2="401.2" stroke="#a6a68a" stroke-width="1.2"/>
<line x1="480.3" y1="368" x2="480.3" y2="401.2" stroke="#a6a68a" stroke-width="1.2"/>
<line x1="462.3" y1="384.4" x2="498.3" y2="384.4" stroke="#c6cd86" stroke-width="1.2"/>
<path fill="#979a76" d="M479 338.9h2.6v2.6h-2.6zM479 375.3h2.6v2.6h-2.6zM479 377.9h2.6v2.6h-2.6zM479 387h2.6v2.6h-2.6zM479 397.4h2.6v2.6h-2.6zM479 407h2.6v2.6h-2.6z"/>
<line x1="417.3" y1="442.4" x2="417.3" y2="529.7" stroke="#222" stroke-width="1.15"/>
<line x1="414.7" y1="529.2" x2="417.3" y2="529.2" stroke="#222" stroke-width="1.15"/>
<text x="410.8" y="532" font-size="7.7" fill="#1e1e1e" text-anchor="end" >0.0</text>
<line x1="414.7" y1="512.3" x2="417.3" y2="512.3" stroke="#222" stroke-width="1.15"/>
<text x="410.8" y="515.1" font-size="7.7" fill="#1e1e1e" text-anchor="end" >0.2</text>
<line x1="414.7" y1="495.4" x2="417.3" y2="495.4" stroke="#222" stroke-width="1.15"/>
<text x="410.8" y="498.2" font-size="7.7" fill="#1e1e1e" text-anchor="end" >0.4</text>
<line x1="414.7" y1="478.5" x2="417.3" y2="478.5" stroke="#222" stroke-width="1.15"/>
<text x="410.8" y="481.3" font-size="7.7" fill="#1e1e1e" text-anchor="end" >0.6</text>
<line x1="414.7" y1="461.6" x2="417.3" y2="461.6" stroke="#222" stroke-width="1.15"/>
<text x="410.8" y="464.4" font-size="7.7" fill="#1e1e1e" text-anchor="end" >0.8</text>
<line x1="414.7" y1="444.7" x2="417.3" y2="444.7" stroke="#222" stroke-width="1.15"/>
<text x="410.8" y="447.5" font-size="7.7" fill="#1e1e1e" text-anchor="end" >1.0</text>
<line x1="417.3" y1="529.2" x2="500.5" y2="529.2" stroke="#222" stroke-width="1.1"/>
<text x="418.2" y="438.6" font-size="7.9" fill="#c8203f" >TIM-3</text>
<line x1="440.3" y1="444.3" x2="482.4" y2="444.3" stroke="#1e1e1e" stroke-width="1.3"/>
<text x="461" y="443.7" font-size="9" fill="#222" text-anchor="middle" >*</text>
<line x1="430.4" y1="466.6" x2="448.6" y2="466.6" stroke="#40a8df" stroke-width="1.2"/>
<line x1="430.4" y1="500.9" x2="448.6" y2="500.9" stroke="#40a8df" stroke-width="1.2"/>
<line x1="439.5" y1="466.6" x2="439.5" y2="500.9" stroke="#40a8df" stroke-width="1.2"/>
<line x1="421.3" y1="488.7" x2="457.7" y2="488.7" stroke="#40a8df" stroke-width="1.2"/>
<path fill="#2b93cf" d="M438 449.5a1.5 1.5 0 1 0 3 0a1.5 1.5 0 1 0 -3 0M438 484a1.5 1.5 0 1 0 3 0a1.5 1.5 0 1 0 -3 0M438 489.2a1.5 1.5 0 1 0 3 0a1.5 1.5 0 1 0 -3 0M438 497a1.5 1.5 0 1 0 3 0a1.5 1.5 0 1 0 -3 0M438 504a1.5 1.5 0 1 0 3 0a1.5 1.5 0 1 0 -3 0"/>
<line x1="471.6" y1="500.3" x2="489" y2="500.3" stroke="#a6a68a" stroke-width="1.2"/>
<line x1="471.6" y1="518.5" x2="489" y2="518.5" stroke="#a6a68a" stroke-width="1.2"/>
<line x1="480.3" y1="500.3" x2="480.3" y2="518.5" stroke="#a6a68a" stroke-width="1.2"/>
<line x1="462.3" y1="507.6" x2="498.3" y2="507.6" stroke="#c6cd86" stroke-width="1.2"/>
<path fill="#979a76" d="M475.9 498.7h2.6v2.6h-2.6zM482.4 499h2.6v2.6h-2.6zM479 506.8h2.6v2.6h-2.6zM479 509.4h2.6v2.6h-2.6zM479 524.2h2.6v2.6h-2.6z"/>
<text transform="translate(394.2,431.6) rotate(-90)" x="0" y="0" font-size="9.4" fill="#222" text-anchor="middle" textLength="71" lengthAdjust="spacingAndGlyphs" >Percent of CD8<tspan font-size="6.2" dy="-2.8">+</tspan><tspan dy="2.8"> cells</tspan></text>
<g clip-path="url(#cc)" opacity="1.0">
<g filter="url(#bfcc)">
<path stroke="rgb(185, 192, 234)" stroke-width="1" d="M35.4 192.7h1M61.0 258.8h1M89.9 218.8h1M79.7 245.7h1M21.0 245.2h1M84.2 233.4h1M75.9 245.3h1M81.4 237.3h1M23.5 242.7h1M75.8 239.9h1M31.3 245.6h1M29.9 246.7h1M22.2 208.0h1M83.1 221.6h1M76.3 206.5h1M71.4 238.2h1M63.6 245.5h1M30.1 238.8h1M79.4 254.3h1M33.8 239.9h1M55.3 256.7h1M41.6 242.9h1M28.7 226.1h1M30.0 230.2h1M73.9 226.6h1M43.0 242.1h1M68.7 231.3h1M63.7 237.6h1M31.4 226.9h1M38.9 238.5h1"/>
<path stroke="rgb(175, 184, 231)" stroke-width="1" d="M21.3 250.9h1M51.2 204.1h1M74.8 207.1h1M38.2 246.7h1M31.1 255.4h1M55.8 246.1h1M44.8 238.4h1M61.6 233.0h1M74.7 254.7h1M41.5 233.6h1M56.9 234.9h1M51.5 235.7h1M54.2 234.9h1M26.4 209.3h1M29.8 222.6h1M57.4 230.5h1M55.9 231.9h1M48.2 233.8h1M55.2 230.8h1M47.3 232.1h1M44.7 228.7h1M44.7 228.7h1M79.8 221.0h1M55.9 229.0h1M71.0 225.3h1M74.9 223.9h1M25.0 210.8h1M67.2 226.1h1M43.7 226.6h1M78.3 249.6h1M52.3 227.6h1M40.1 247.1h1M59.8 256.0h1M25.3 211.4h1M53.5 227.3h1M28.8 220.7h1M40.5 206.2h1M29.5 220.5h1M68.0 225.2h1M75.7 249.1h1M43.6 247.0h1M65.0 206.6h1M79.0 250.7h1M46.6 205.9h1M53.5 226.1h1M25.0 214.2h1M47.7 225.2h1M59.7 206.2h1M81.2 213.0h1M77.4 253.0h1M78.8 251.7h1M40.6 223.5h1M60.4 206.4h1M70.7 224.0h1M28.1 249.5h1M72.3 248.7h1M67.3 255.0h1M66.9 207.3h1M65.9 207.2h1M30.3 210.3h1M27.9 217.5h1M27.0 216.1h1M53.2 224.9h1M72.3 223.3h1M27.2 252.8h1M29.5 218.5h1M38.7 207.7h1M33.4 246.8h1M27.5 215.1h1M36.0 247.7h1M61.3 224.7h1M80.4 218.0h1M58.3 224.7h1M43.3 207.4h1M30.5 211.4h1M50.1 223.8h1M77.0 251.0h1M63.0 224.3h1M40.9 207.9h1M35.8 209.1h1M34.5 220.0h1M60.6 224.2h1M75.6 250.3h1M30.2 216.7h1"/>
<path stroke="rgb(165, 176, 229)" stroke-width="1" d="M36.9 248.2h1M32.7 218.5h1M73.5 253.4h1M36.9 220.2h1M44.0 208.0h1M69.3 254.3h1M30.5 213.8h1M30.8 213.5h1M30.6 214.7h1M28.7 252.4h1M59.6 223.6h1M67.7 223.0h1M39.7 220.6h1M47.5 208.0h1M57.1 208.0h1M29.1 250.8h1M36.1 210.7h1M33.6 217.1h1M62.4 208.5h1M77.7 210.8h1M46.1 208.6h1M64.3 208.7h1M33.4 216.0h1M33.9 216.6h1M64.9 222.8h1M70.1 208.9h1M36.3 211.3h1M47.1 208.7h1M43.9 209.1h1M66.4 222.6h1M61.2 248.1h1M67.8 254.1h1M59.8 222.7h1M73.3 252.5h1M70.4 221.9h1M43.7 209.4h1M73.0 209.2h1M32.5 247.6h1M40.0 210.4h1M69.5 221.9h1M34.8 214.5h1M58.0 248.0h1M33.0 247.4h1M43.7 219.9h1M67.7 253.9h1M35.8 216.1h1M47.9 248.0h1M62.8 222.3h1M67.9 222.0h1M37.5 254.1h1M79.7 216.3h1M41.4 210.7h1M40.1 211.2h1M54.5 209.2h1M39.3 211.6h1M52.0 209.3h1M60.7 222.0h1M67.0 209.5h1M53.2 221.3h1M40.9 211.2h1M38.0 253.9h1M50.4 220.6h1M73.6 220.5h1M64.7 221.7h1M61.4 209.9h1M39.0 254.0h1M65.4 209.9h1M47.1 248.3h1"/>
<path stroke="rgb(155, 168, 226)" stroke-width="1" d="M52.5 209.9h1M44.4 218.8h1M61.9 248.7h1M39.7 215.9h1M42.5 217.7h1M69.5 209.6h1M70.7 250.5h1M50.2 210.3h1M40.3 216.2h1M40.5 216.2h1M71.1 250.9h1M31.0 249.6h1M40.3 215.8h1M47.3 210.8h1M78.7 217.3h1M40.4 215.7h1M58.2 210.3h1M43.3 217.6h1M40.3 215.1h1M38.2 249.3h1M47.3 254.5h1M74.3 210.0h1M49.7 219.4h1M41.3 215.7h1M51.4 248.4h1M44.6 217.6h1M62.9 210.6h1M54.5 210.6h1M59.5 220.8h1M43.9 217.3h1M57.4 210.6h1M48.9 248.5h1M67.6 249.8h1M60.6 210.7h1M57.8 210.8h1M38.4 249.4h1M46.7 218.0h1M62.7 220.7h1M61.7 210.8h1M61.9 254.0h1M46.1 212.1h1M43.6 216.2h1M62.4 249.0h1M54.4 210.9h1M42.9 214.1h1M66.6 249.7h1M52.5 219.4h1M47.4 212.0h1M67.8 210.3h1M43.7 215.8h1M57.9 220.2h1M52.9 219.4h1M67.8 252.9h1M45.1 216.6h1M44.2 213.8h1M59.8 220.3h1M44.1 213.9h1M50.3 218.6h1M44.5 216.0h1M44.4 215.9h1M56.9 211.2h1M62.2 220.4h1M44.3 214.4h1M36.5 253.1h1M48.0 217.6h1M46.5 212.9h1M50.0 218.3h1M66.4 253.1h1M66.7 249.9h1M47.7 217.3h1M68.3 210.3h1M47.1 212.8h1M69.8 210.1h1M55.1 211.5h1M47.3 212.9h1M71.0 210.0h1M58.2 254.1h1M52.8 254.3h1M46.3 216.0h1M46.9 216.4h1M57.5 211.6h1M46.0 215.4h1M53.9 219.0h1M40.5 249.4h1M53.8 211.9h1M69.4 220.1h1M68.9 210.3h1M60.4 211.7h1M56.2 219.2h1M33.8 248.0h1M36.1 249.6h1M55.0 219.0h1M54.8 212.0h1M60.3 211.8h1M78.8 215.7h1M57.1 219.2h1M56.5 254.1h1M67.4 210.8h1M60.2 219.5h1M63.3 211.7h1M69.4 210.3h1M50.2 217.1h1M56.4 212.2h1M39.1 249.8h1M61.6 253.7h1M55.2 254.1h1M49.8 213.6h1M60.5 253.8h1M43.8 253.8h1"/>
<path stroke="rgb(143, 159, 222)" stroke-width="1" d="M60.3 212.2h1M49.5 214.3h1M67.1 252.4h1M37.0 252.6h1M53.3 213.0h1M57.8 212.6h1M49.9 215.1h1M51.9 217.0h1M60.1 249.2h1M57.8 249.1h1M66.0 219.6h1M67.7 251.4h1M53.4 217.4h1M42.1 249.5h1M39.8 253.1h1M51.9 216.5h1M37.1 252.4h1M60.5 218.8h1M51.5 254.0h1M67.4 219.5h1M60.1 218.6h1M64.4 219.2h1M52.2 214.7h1M53.8 216.9h1M63.8 212.4h1M63.4 212.5h1M66.9 211.4h1M78.0 216.8h1M59.3 213.1h1M54.4 213.9h1M52.6 215.3h1M56.1 213.6h1M54.0 214.1h1M37.3 250.8h1M64.6 212.3h1M55.9 217.3h1M57.5 213.5h1M37.0 252.0h1M77.8 213.0h1M58.4 217.9h1M58.3 213.5h1M74.7 210.8h1M55.9 253.8h1M54.1 214.9h1M55.0 216.6h1M56.0 214.1h1M41.7 249.8h1M64.6 218.9h1M63.6 212.7h1M54.5 215.6h1M57.5 214.0h1M56.0 214.3h1M37.0 251.5h1M48.6 249.2h1M61.4 213.3h1M55.5 216.3h1M57.8 214.0h1M64.6 250.3h1M58.8 213.9h1M56.5 214.4h1M57.6 214.1h1M58.0 217.2h1M57.4 214.2h1M56.5 214.5h1M61.5 253.3h1M60.7 213.6h1M57.3 216.9h1M57.5 216.9h1M61.7 213.5h1M60.8 217.8h1M56.0 215.4h1M56.1 215.7h1M58.5 217.1h1M65.9 212.2h1M72.6 219.1h1M57.2 216.1h1M49.1 253.7h1M65.9 218.7h1M58.7 249.5h1M31.3 251.6h1M58.2 216.3h1M69.5 219.0h1M76.2 218.1h1M70.8 219.1h1M61.0 217.4h1M58.1 215.8h1M36.2 251.9h1M63.4 218.1h1M62.2 217.7h1M40.9 252.8h1M38.6 251.9h1M47.2 249.4h1M64.8 218.2h1M61.7 214.4h1M64.0 213.4h1M38.6 251.4h1M61.1 214.8h1M63.0 217.5h1M68.3 211.3h1M60.6 215.9h1M72.0 218.9h1M72.2 218.9h1M32.9 253.6h1M38.9 251.4h1M75.4 211.3h1M60.3 249.8h1M63.2 214.0h1M39.1 251.1h1M50.2 249.4h1M45.3 249.7h1M39.2 251.2h1M63.5 250.5h1M64.9 213.3h1M59.7 253.2h1M68.1 218.5h1M62.3 215.2h1M72.0 218.8h1M75.8 218.0h1M67.1 212.1h1M67.9 218.4h1M65.0 213.5h1M35.7 250.3h1M64.1 217.2h1M36.0 251.2h1"/>
<path stroke="rgb(129, 148, 218)" stroke-width="1" d="M64.3 251.3h1M67.2 218.2h1M49.4 249.5h1M71.0 210.8h1M63.4 216.3h1M56.1 249.6h1M63.5 216.3h1M63.6 216.4h1M41.9 250.4h1M77.6 216.4h1M52.3 249.5h1M71.0 210.8h1M33.4 248.6h1M56.8 253.3h1M47.9 253.3h1M68.0 218.2h1M65.8 217.5h1M63.8 216.2h1M55.4 249.6h1M41.2 250.7h1M71.2 218.6h1M71.2 218.6h1M64.5 216.4h1M61.3 252.6h1M40.9 251.9h1M63.4 251.6h1M71.4 218.6h1M67.0 212.7h1M57.5 253.1h1M76.7 217.2h1M62.6 252.0h1M67.3 212.5h1M45.2 250.1h1M44.2 250.2h1M77.3 213.1h1M53.4 249.7h1M72.9 210.9h1M61.6 250.7h1M65.5 214.3h1M70.6 218.4h1M65.5 214.5h1M33.5 248.7h1M49.1 253.2h1M62.2 251.9h1M60.2 252.6h1M65.3 215.2h1M68.2 212.0h1M50.1 253.2h1M72.4 218.5h1M65.8 214.4h1M57.6 252.9h1M61.4 252.2h1M65.5 215.6h1M65.7 216.0h1M69.1 211.6h1M57.0 253.0h1M65.6 215.0h1M35.6 251.5h1M70.4 218.3h1M60.0 252.5h1M75.8 217.6h1M56.2 250.0h1M42.4 251.8h1M61.6 251.8h1M61.1 251.0h1M42.6 251.1h1M72.3 211.0h1M69.9 218.1h1M53.8 250.0h1M44.7 250.5h1M47.7 252.9h1M61.2 251.2h1M61.2 251.2h1M66.3 216.1h1M70.6 211.2h1M56.7 250.2h1M67.3 216.9h1M66.3 215.7h1M66.3 215.1h1M49.9 250.1h1M66.4 215.4h1M67.8 217.1h1M46.2 252.6h1M66.5 215.6h1M34.8 252.7h1M35.4 250.7h1M55.8 252.8h1M58.4 252.4h1M58.8 252.3h1M60.3 251.3h1M35.4 251.5h1M67.9 212.7h1M54.3 252.8h1M67.3 213.3h1M43.7 251.6h1M35.4 251.5h1M48.2 252.7h1"/>
<path stroke="rgb(115, 137, 214)" stroke-width="1" d="M68.4 217.2h1M45.0 250.8h1M75.5 217.6h1M48.1 250.3h1M32.6 252.8h1M54.5 250.3h1M75.5 217.5h1M46.7 252.4h1M73.3 218.1h1M45.4 252.1h1M45.2 250.9h1M59.6 251.6h1M56.2 252.5h1M44.8 251.8h1M77.4 214.8h1M58.5 252.1h1M75.3 217.6h1M49.3 252.6h1M48.0 250.5h1M52.9 252.7h1M71.3 211.3h1M48.1 252.4h1M52.6 250.4h1M56.6 250.7h1M67.1 214.7h1M58.5 251.7h1M56.8 252.2h1M55.9 252.4h1M58.3 251.2h1M71.3 211.3h1M45.7 251.6h1M58.0 251.2h1M68.8 217.0h1M75.9 217.2h1M72.8 211.3h1M57.6 251.8h1M57.8 251.3h1M57.8 251.3h1M32.9 252.9h1M75.8 212.4h1M72.0 211.3h1M75.2 212.0h1M55.3 252.2h1M53.4 252.4h1M46.9 251.8h1M48.9 252.2h1M54.5 250.7h1M53.1 250.7h1M67.7 213.7h1M54.3 250.8h1M56.4 251.3h1M48.5 252.0h1M49.1 252.0h1M56.4 251.6h1M54.5 250.9h1M56.2 251.7h1M48.2 251.2h1M54.9 252.0h1M48.9 251.9h1M50.9 252.1h1M54.8 251.0h1M71.2 211.5h1M71.1 211.5h1M50.1 251.1h1M50.6 251.0h1M50.5 251.9h1M54.4 251.2h1M54.8 251.5h1M54.3 251.5h1M51.7 251.1h1M53.0 251.2h1M50.2 251.3h1M75.9 216.8h1M52.2 251.3h1M52.9 251.4h1M53.0 251.4h1M52.2 251.7h1M51.5 251.4h1M69.2 212.4h1M76.4 213.3h1M33.7 252.8h1M68.8 216.4h1M68.7 216.3h1"/>
<path stroke="rgb(101, 126, 210)" stroke-width="1" d="M76.4 216.2h1M33.3 249.5h1M71.9 217.6h1M76.7 214.0h1M68.7 213.2h1M69.7 216.7h1M69.5 216.6h1M34.5 252.1h1M34.8 250.9h1M34.2 249.8h1M32.4 250.4h1M76.7 215.0h1M73.8 211.9h1M68.5 213.9h1M32.4 250.7h1M33.2 252.4h1M73.4 211.9h1M75.1 217.0h1M68.8 213.5h1M33.3 249.7h1M71.1 211.9h1M34.7 251.1h1M68.5 214.7h1M33.5 249.7h1M71.6 211.9h1M73.0 217.4h1M33.3 249.7h1M75.3 212.7h1M72.2 217.3h1M73.0 211.9h1M75.9 216.1h1M69.4 216.0h1M75.9 213.4h1M71.3 212.1h1"/>
<path stroke="rgb(86, 119, 204)" stroke-width="1" d="M71.1 212.1h1M68.9 214.6h1M72.9 212.0h1M75.6 213.2h1M34.3 251.5h1M75.6 216.2h1M74.0 217.0h1M69.8 216.1h1M74.2 216.9h1M69.9 216.0h1M34.0 250.3h1M70.5 216.4h1M72.9 217.0h1M72.5 212.2h1M32.9 250.8h1M71.7 216.8h1M70.5 212.7h1M69.4 215.1h1M73.0 216.9h1M70.3 216.1h1M73.5 216.8h1M33.3 250.5h1M72.6 212.3h1M70.6 216.2h1M73.1 216.8h1M33.4 251.5h1M33.2 250.8h1M75.8 214.6h1"/>
<path stroke="rgb(72, 113, 198)" stroke-width="1" d="M71.6 216.6h1M74.1 216.6h1M75.5 213.9h1M73.8 212.7h1M75.7 214.7h1M73.3 216.7h1M72.7 212.5h1M71.2 216.3h1M72.0 212.5h1M73.9 212.8h1M74.7 216.2h1M74.4 213.0h1M70.3 213.4h1M73.5 212.7h1M75.1 213.8h1M75.4 215.1h1M75.0 213.7h1M70.4 213.6h1M75.2 213.9h1M75.3 214.9h1M75.2 215.1h1"/>
<path stroke="rgb(59, 118, 185)" stroke-width="1" d="M70.4 214.1h1M73.2 216.3h1M70.8 213.5h1M71.0 215.6h1M75.1 214.6h1M75.1 214.5h1M70.5 214.3h1M74.9 214.2h1M72.9 216.1h1M71.6 215.8h1M74.1 213.5h1M71.2 213.6h1M72.9 216.0h1M70.8 214.4h1M74.7 214.7h1M70.9 214.4h1M71.6 215.6h1M72.2 213.3h1M70.9 214.5h1M73.1 213.3h1M73.7 215.8h1M71.9 213.5h1"/>
<path stroke="rgb(49, 135, 166)" stroke-width="1" d="M72.7 213.4h1M74.2 215.3h1M74.3 215.1h1M73.6 213.6h1M73.4 215.6h1M71.4 214.9h1M72.9 215.6h1M72.3 215.5h1M73.8 213.9h1M71.6 214.9h1M73.2 215.4h1M72.6 213.7h1M72.5 213.7h1M71.8 214.1h1M72.0 214.0h1M71.7 214.6h1M72.1 214.0h1M72.0 214.9h1M72.1 214.9h1M72.3 215.0h1M72.2 214.1h1M72.5 215.1h1M72.9 214.1h1M72.8 214.2h1"/>
<path stroke="rgb(40, 150, 147)" stroke-width="1" d="M72.5 214.4h1"/>
</g>
<ellipse cx="74" cy="213.6" rx="6.5" ry="4.8" fill="url(#g2)" transform="rotate(0 74 213.6)"/>
</g>
<text x="21.5" y="192" font-size="6.7" fill="#1e1e1e" >Q4</text>
<text x="21.5" y="199.6" font-size="6.7" fill="#1e1e1e" >12.5</text>
<text x="92.2" y="192" font-size="6.7" fill="#1e1e1e" text-anchor="end" >Q2</text>
<text x="92.2" y="199.6" font-size="6.7" fill="#1e1e1e" text-anchor="end" >61.9</text>
<text x="21.5" y="248" font-size="6.7" fill="#1e1e1e" >Q4</text>
<text x="21.5" y="254.8" font-size="6.7" fill="#1e1e1e" >18.4</text>
<text x="92.2" y="248" font-size="6.7" fill="#1e1e1e" text-anchor="end" >Q3</text>
<text x="92.2" y="254.8" font-size="6.7" fill="#1e1e1e" text-anchor="end" >7.20</text>
<line x1="54.4" y1="182.7" x2="54.4" y2="260" stroke="#1a1a1a" stroke-width="1.0"/>
<line x1="20.2" y1="231.5" x2="98.2" y2="231.5" stroke="#1a1a1a" stroke-width="1.0"/>
<rect x="20.2" y="182.7" width="78" height="77.3" fill="none" stroke="#1a1a1a" stroke-width="1.1"/>
<text x="58.6" y="177.9" font-size="8.6" fill="#4a6a96" text-anchor="middle" >Control</text>
<g clip-path="url(#ci)" opacity="1.0">
<g filter="url(#bfci)">
<path stroke="rgb(185, 192, 234)" stroke-width="1" d="M174.2 244.1h1M168.8 255.8h1M139.6 258.6h1M107.1 242.4h1M104.8 255.3h1M171.0 219.7h1M149.2 199.7h1M106.1 237.2h1M104.1 229.9h1M109.2 241.1h1M122.5 201.8h1M127.7 200.3h1M109.5 212.3h1M147.2 200.9h1M117.0 205.8h1M110.6 245.0h1M108.0 218.4h1M106.6 228.6h1M124.6 256.5h1M108.6 219.4h1M138.9 202.3h1M134.3 202.7h1M168.4 251.1h1M159.0 256.8h1M115.7 241.7h1M115.2 212.6h1M165.2 209.1h1M116.5 241.3h1"/>
<path stroke="rgb(175, 184, 231)" stroke-width="1" d="M138.8 256.4h1M155.0 210.1h1M117.1 211.8h1M111.7 220.2h1M159.1 207.1h1M115.7 214.0h1M131.9 205.3h1M129.2 205.9h1M111.8 230.0h1M162.4 203.5h1M123.3 208.6h1M137.9 205.2h1M147.5 207.2h1M112.2 228.1h1M129.4 206.5h1M124.0 208.7h1M155.0 243.0h1M115.4 216.7h1M138.1 205.8h1M114.8 246.0h1M133.3 206.3h1M156.8 214.0h1M166.4 226.3h1M142.5 206.7h1M139.2 206.3h1M139.5 206.5h1M165.6 215.5h1M158.0 213.2h1M120.0 239.9h1M116.8 216.8h1M128.1 255.5h1M156.7 215.5h1M147.0 208.9h1M119.6 239.2h1M155.2 238.1h1M129.2 208.5h1M133.0 255.5h1M116.0 219.6h1M115.9 219.8h1M141.8 208.0h1M125.7 210.3h1M165.9 221.3h1M114.6 254.3h1M143.9 208.8h1M110.9 253.6h1M131.4 209.0h1M132.1 209.0h1M144.8 209.9h1M156.7 234.2h1M146.7 210.7h1M151.1 213.3h1M116.2 224.3h1M129.6 244.1h1M156.4 256.4h1M129.4 243.2h1M121.4 245.8h1M151.0 239.3h1M147.3 211.5h1M147.4 241.9h1M165.4 218.0h1M130.1 243.0h1M129.7 244.7h1M121.0 237.1h1M151.6 214.5h1M132.1 243.3h1M131.2 244.5h1M157.5 233.3h1M156.0 221.0h1M145.2 242.5h1M125.2 213.0h1M165.5 219.8h1M160.7 255.7h1M135.2 243.3h1M143.2 243.1h1M129.1 241.6h1M118.9 232.7h1M153.5 235.3h1M142.8 210.8h1M139.3 210.2h1M139.5 243.3h1M159.5 211.5h1M118.0 246.5h1M140.1 243.0h1M145.6 241.2h1M118.2 223.3h1M153.2 218.0h1M106.6 250.7h1M128.8 212.0h1M157.0 227.3h1M129.9 211.6h1M122.8 216.0h1M145.2 241.0h1M123.6 237.6h1M164.6 239.3h1M123.7 237.6h1M141.1 242.0h1M160.2 245.1h1M129.1 212.5h1M155.3 224.9h1M128.1 240.0h1M113.9 247.4h1M120.5 233.0h1M133.8 241.6h1M145.4 240.0h1M158.6 217.5h1M127.8 254.8h1M119.4 229.7h1M153.0 244.3h1M142.9 244.3h1M131.2 212.1h1M165.4 223.2h1M151.3 235.6h1M154.7 228.2h1M122.2 234.6h1M133.7 241.2h1M150.6 217.0h1M130.3 212.9h1M154.4 225.3h1M134.4 241.0h1M147.2 238.3h1M148.2 237.7h1M128.3 239.2h1M125.2 246.0h1M132.1 212.6h1M159.2 238.1h1M142.8 244.6h1M120.6 230.3h1M134.4 240.7h1M120.5 229.6h1M148.5 236.9h1M158.1 224.9h1M143.1 239.7h1M136.3 212.4h1M139.4 245.3h1M121.2 222.0h1M142.9 244.7h1M120.5 225.5h1M160.5 210.6h1M110.5 252.2h1M124.5 235.5h1M152.8 222.7h1M145.0 214.5h1M152.2 221.7h1M153.0 229.0h1M135.3 213.0h1M128.2 254.6h1M128.7 214.9h1M163.0 210.2h1M131.1 239.1h1M164.9 219.6h1"/>
<path stroke="rgb(165, 176, 229)" stroke-width="1" d="M142.3 213.9h1M149.1 217.9h1M121.9 230.1h1M158.3 227.4h1M148.2 235.8h1M164.2 238.8h1M131.9 245.9h1M121.7 229.1h1M159.0 235.5h1M142.5 214.2h1M147.2 236.3h1M165.2 227.4h1M128.6 246.1h1M160.4 245.9h1M121.7 225.9h1M158.9 234.1h1M151.5 230.7h1M148.2 217.7h1M158.4 225.1h1M146.3 236.7h1M127.7 216.3h1M132.4 238.7h1M148.5 234.8h1M152.0 226.3h1M117.3 247.4h1M126.0 217.9h1M150.7 231.5h1M155.2 245.2h1M144.2 215.5h1M122.2 227.2h1M145.3 216.2h1M138.8 254.7h1M140.4 245.6h1M149.7 220.5h1M146.7 235.7h1M157.2 245.6h1M149.3 220.0h1M110.5 251.5h1M140.4 214.7h1M162.2 210.2h1M165.6 251.3h1M151.0 224.1h1M132.2 215.1h1M145.4 216.8h1M149.0 233.0h1M152.4 244.8h1M144.8 216.5h1M123.3 229.5h1M142.8 237.4h1M129.8 236.7h1M147.5 234.5h1M124.7 220.8h1M127.9 254.3h1M145.7 235.6h1M161.8 246.4h1M149.7 256.1h1M150.6 224.5h1M124.5 231.4h1M147.3 234.2h1M123.3 225.6h1M141.5 237.4h1M136.9 238.0h1M136.2 215.0h1M159.0 233.4h1M146.6 234.5h1M147.7 219.6h1M126.4 233.4h1M137.6 237.7h1M130.5 216.7h1M125.8 220.5h1M135.0 237.6h1M150.0 228.7h1M123.9 227.6h1M149.7 229.7h1M129.3 217.4h1M115.1 252.8h1M141.5 236.9h1M135.6 237.5h1M136.5 215.5h1M125.5 231.5h1M127.4 233.8h1M149.9 227.4h1M149.8 228.0h1M145.6 234.5h1M140.9 216.2h1M144.7 235.1h1M131.9 216.6h1M149.7 225.5h1M135.9 215.8h1M164.7 231.4h1M149.4 225.1h1M135.9 246.3h1M122.1 247.1h1M134.4 216.3h1M125.0 225.1h1M125.5 223.3h1M149.0 227.9h1M137.8 216.3h1M128.9 219.0h1M128.1 233.3h1M164.8 229.0h1M164.7 222.5h1M144.0 218.4h1M125.7 223.4h1M164.8 226.7h1M139.7 236.2h1M148.6 228.1h1M141.0 217.1h1M137.7 216.6h1M135.9 236.3h1M125.8 228.8h1M147.9 223.4h1M160.4 246.4h1M144.5 233.7h1M145.9 245.1h1M148.2 226.2h1M127.5 231.5h1M113.4 249.0h1M139.9 235.6h1M141.2 235.2h1M117.0 248.0h1M144.7 233.2h1M147.1 222.5h1M164.6 222.4h1M127.0 230.5h1M129.1 220.0h1M154.4 255.7h1M140.0 254.5h1M139.0 235.5h1M147.6 224.5h1M141.4 218.2h1M126.9 223.3h1M162.1 211.9h1M123.7 247.1h1M161.5 212.1h1M128.5 221.1h1M127.0 223.5h1M126.4 227.1h1M159.2 231.3h1M127.2 223.1h1M147.2 224.4h1M112.0 250.7h1M147.0 229.0h1M126.9 228.8h1M126.6 226.4h1M133.8 218.2h1M143.6 233.1h1M125.4 253.8h1M133.3 218.5h1M121.0 247.5h1M127.9 222.9h1M127.9 246.8h1M128.0 230.0h1M118.2 247.9h1M162.8 247.4h1M136.2 218.2h1M139.8 234.4h1M131.1 233.0h1M159.2 230.4h1M129.1 221.8h1M143.6 220.5h1M145.6 222.7h1M146.2 228.8h1M139.4 218.7h1M144.8 231.1h1M138.2 246.5h1M135.8 246.6h1M132.7 233.4h1M142.3 220.2h1M117.2 248.2h1M159.7 218.9h1M116.0 248.5h1M159.2 225.8h1M159.5 232.1h1M159.8 235.0h1M136.4 233.9h1M137.3 219.1h1M143.5 231.4h1M135.3 219.3h1M129.6 230.2h1M128.7 224.5h1M144.6 223.3h1M129.6 223.0h1M132.5 232.6h1M141.0 220.2h1M134.8 219.7h1M132.2 232.2h1M121.6 253.3h1M144.5 223.6h1M146.4 255.4h1M129.1 228.2h1M159.7 219.7h1M132.5 232.1h1M144.1 223.4h1M136.2 233.2h1M160.9 214.2h1M130.8 222.5h1M129.2 226.2h1M135.3 220.0h1M141.8 231.7h1M140.4 220.6h1M139.9 232.5h1M142.5 222.1h1M132.1 231.3h1M137.0 220.2h1M143.8 228.9h1M139.5 220.6h1M129.7 227.4h1M142.6 222.5h1M143.6 229.1h1M134.5 246.9h1M136.2 220.5h1M136.7 220.5h1M130.2 224.8h1M160.1 246.6h1M130.1 225.3h1M142.0 230.6h1M130.4 228.2h1M143.6 227.9h1M141.2 231.0h1M131.1 229.2h1M130.5 225.2h1M140.7 231.1h1M137.4 232.0h1M136.7 232.0h1M141.0 230.7h1M141.9 223.1h1M119.6 248.1h1M142.8 224.6h1M137.2 231.7h1M131.5 228.8h1M140.3 222.2h1M164.4 227.2h1M141.2 230.0h1M151.4 245.4h1M141.1 229.9h1M122.2 253.2h1M149.9 255.5h1M140.2 230.4h1M136.4 231.0h1M132.9 223.8h1M142.1 227.2h1M132.0 253.8h1M114.3 249.9h1M164.3 228.3h1M128.3 247.2h1M141.7 225.8h1M140.5 229.3h1M132.2 226.8h1M132.9 224.4h1M135.3 222.7h1M135.6 230.3h1M132.7 224.9h1M134.0 229.5h1M163.9 233.2h1M137.9 230.3h1M132.7 227.7h1M140.9 228.3h1M115.1 249.5h1M140.4 228.7h1M119.8 252.8h1M133.0 225.3h1M136.6 223.1h1M135.3 223.5h1M135.2 223.5h1M133.5 225.2h1M130.5 253.7h1M124.1 253.3h1M140.8 226.8h1M135.1 223.8h1M133.5 225.6h1M136.3 223.7h1M136.7 223.6h1M139.8 225.1h1M136.2 223.8h1M132.1 253.7h1M134.2 226.6h1M134.2 226.4h1M138.3 224.5h1M160.4 235.8h1M139.4 226.5h1M138.3 227.8h1M136.5 225.0h1M135.2 227.0h1M138.7 227.0h1M164.1 223.4h1M136.8 227.0h1M149.1 255.4h1M164.0 231.2h1M135.7 247.1h1M160.5 217.4h1M137.9 253.7h1M164.1 223.9h1M163.7 219.8h1M118.9 252.3h1M116.0 251.3h1M131.6 253.5h1"/>
<path stroke="rgb(155, 168, 226)" stroke-width="1" d="M164.0 226.1h1M118.5 248.9h1M124.2 253.0h1M128.9 247.5h1M160.9 235.5h1M161.0 217.1h1M120.7 252.4h1M122.3 252.7h1M163.8 229.7h1M163.5 220.4h1M128.8 253.2h1M163.2 218.6h1M162.1 247.7h1M129.7 253.2h1M137.4 247.4h1M163.0 235.0h1M123.7 252.7h1M154.5 255.1h1M151.5 255.1h1M160.3 222.0h1M124.1 252.7h1M138.7 253.4h1M117.4 250.0h1M146.9 254.9h1M144.2 254.4h1M128.8 247.8h1M143.1 254.2h1M160.4 231.4h1M162.9 234.6h1M160.4 221.8h1M119.5 251.8h1M127.5 247.9h1M147.0 246.0h1M148.0 255.0h1M134.2 253.2h1M137.3 253.2h1M145.7 246.2h1M120.6 249.0h1M160.3 226.6h1M143.9 246.6h1M160.4 230.3h1M121.6 252.1h1M143.0 246.8h1M118.1 250.3h1M163.5 224.1h1M126.1 248.2h1M149.9 245.9h1M145.9 246.3h1M148.3 246.0h1M160.7 231.9h1M160.4 225.6h1M129.9 252.9h1M120.7 251.8h1M158.0 254.9h1M118.7 250.0h1M163.1 232.2h1M160.5 229.0h1M160.5 229.3h1M137.7 247.8h1M160.4 227.7h1M144.5 254.3h1M121.2 249.1h1M121.4 251.9h1M161.9 247.9h1M161.0 232.3h1M131.9 252.9h1M122.3 248.9h1M146.6 254.6h1M164.2 251.0h1M122.7 252.1h1M159.1 254.7h1M162.4 219.3h1M160.8 222.5h1M156.8 246.7h1M163.0 221.8h1M162.0 234.0h1M163.0 221.9h1M151.4 254.9h1M121.4 251.7h1M160.6 228.3h1M146.4 254.5h1M156.9 246.8h1M119.9 249.9h1M148.4 254.7h1M163.2 252.8h1M161.5 220.0h1M137.9 248.0h1M141.9 253.6h1M163.2 224.6h1M128.2 252.6h1M120.1 250.9h1M122.5 249.1h1M137.5 248.0h1M162.2 248.2h1M120.0 250.5h1M163.1 229.3h1M154.3 254.9h1M121.4 249.5h1M120.3 250.7h1M121.4 251.4h1M135.9 248.2h1M121.5 249.6h1M161.7 232.5h1M162.8 230.7h1M127.2 248.5h1M126.7 252.3h1M145.3 246.7h1M161.6 221.0h1M161.3 230.7h1M161.3 222.3h1M130.8 252.5h1M143.6 247.1h1M161.1 229.4h1M161.8 231.5h1M136.0 252.6h1M121.4 250.6h1M146.1 254.3h1M162.2 222.0h1M159.6 247.4h1M139.7 248.1h1M161.5 230.4h1M161.1 227.0h1M141.1 247.8h1M142.9 247.3h1M136.9 252.5h1M124.7 251.8h1M142.9 247.4h1M161.6 229.9h1M162.4 223.6h1"/>
<path stroke="rgb(143, 159, 222)" stroke-width="1" d="M130.7 252.3h1M155.9 254.8h1M141.6 247.8h1M162.2 229.2h1M149.7 254.5h1M161.7 228.2h1M149.2 246.5h1M161.7 227.7h1M161.8 227.8h1M136.1 248.6h1M123.1 250.4h1M161.8 227.8h1M162.2 226.3h1M162.0 227.7h1M136.0 252.2h1M129.4 252.0h1M125.5 251.6h1M152.3 254.5h1M133.2 248.8h1M154.4 246.8h1M123.8 250.5h1M125.0 251.2h1M133.4 248.9h1M160.1 254.2h1M147.0 254.2h1M139.0 252.3h1M124.8 250.2h1M145.9 253.9h1M137.6 248.9h1M157.8 247.2h1M128.1 251.6h1M145.3 253.8h1M133.4 249.0h1M130.5 251.8h1M143.2 247.7h1M156.8 247.1h1M151.1 254.3h1M149.8 254.3h1M141.4 252.7h1M146.2 253.9h1M132.5 249.3h1M148.7 254.2h1M142.0 252.8h1M126.3 250.5h1M160.0 247.7h1M127.1 250.8h1M126.8 250.5h1M130.9 251.5h1M129.4 249.7h1M130.4 251.4h1M140.2 252.2h1M162.9 252.3h1M129.8 251.2h1M151.5 246.9h1M160.0 247.8h1M128.4 250.1h1M141.6 252.5h1M130.4 249.8h1M128.6 250.8h1M160.7 253.8h1M138.9 251.7h1M138.3 251.6h1M160.6 248.0h1M134.4 249.7h1M132.2 249.8h1M149.5 254.1h1M138.8 249.3h1M139.5 249.1h1M129.7 250.8h1M136.6 249.6h1M130.0 250.8h1M150.2 246.9h1M135.7 251.1h1M151.4 254.1h1M131.6 250.9h1M132.6 249.9h1M133.3 250.0h1M130.9 250.5h1M158.1 254.3h1M135.1 250.0h1M136.6 249.9h1M137.6 249.8h1M150.9 247.0h1M137.4 249.8h1M132.6 250.5h1M163.2 250.5h1M136.0 250.8h1M136.1 250.8h1M134.7 250.6h1M135.1 250.3h1M137.3 250.9h1M136.4 250.2h1M139.7 249.4h1M163.2 250.4h1M141.1 248.9h1M136.8 250.4h1M137.6 250.8h1M138.2 251.0h1M137.9 250.8h1M153.9 254.2h1M138.8 250.0h1M162.6 252.4h1M144.7 247.8h1M145.0 253.2h1M139.6 251.2h1M146.7 247.4h1M144.5 253.0h1M144.5 247.9h1"/>
<path stroke="rgb(129, 148, 218)" stroke-width="1" d="M161.0 253.5h1M139.3 250.2h1M148.4 253.7h1M157.5 254.3h1M158.9 247.8h1M157.4 247.5h1M148.8 247.3h1M139.6 250.4h1M140.8 249.5h1M144.8 247.9h1M162.9 250.1h1M143.3 248.5h1M153.9 254.1h1M140.9 249.6h1M143.1 248.7h1M162.2 252.5h1M140.8 251.0h1M151.6 247.4h1M161.4 248.8h1M160.8 248.5h1M141.6 251.3h1M146.8 253.2h1M150.1 247.5h1M150.8 253.6h1M156.2 247.6h1M145.4 248.1h1M151.2 253.6h1M153.2 253.8h1M161.9 252.7h1M141.8 249.9h1M162.6 250.2h1M145.7 252.8h1M141.6 250.6h1M147.5 253.2h1M159.7 248.2h1M156.6 247.7h1M143.0 251.8h1M156.6 254.1h1M143.2 249.1h1M155.7 247.7h1M156.0 254.1h1M154.4 253.9h1M143.5 249.2h1M162.5 251.5h1M146.4 248.1h1M146.7 248.1h1M151.3 247.8h1M161.7 252.6h1M142.6 250.7h1M147.7 253.0h1M145.0 248.7h1M162.3 251.9h1M160.3 253.4h1M143.9 249.2h1M142.7 250.3h1M145.1 252.2h1M143.8 251.6h1M158.7 253.8h1"/>
<path stroke="rgb(115, 137, 214)" stroke-width="1" d="M143.5 251.3h1M144.0 249.3h1M147.9 248.1h1M161.2 249.1h1M154.8 247.9h1M143.4 251.0h1M145.0 249.0h1M162.0 252.1h1M158.4 253.8h1M149.3 248.1h1M144.0 251.3h1M145.1 252.0h1M152.1 253.3h1M151.2 253.1h1M147.2 252.6h1M148.9 252.8h1M152.9 253.4h1M149.2 248.2h1M145.0 249.2h1M143.8 250.7h1M144.9 251.7h1M144.2 251.2h1M159.4 253.5h1M160.1 253.3h1M153.5 253.5h1M149.5 252.8h1M144.0 250.6h1M144.1 250.3h1M157.3 248.1h1M149.6 248.3h1M144.7 249.8h1M151.1 252.9h1M149.2 252.6h1M159.2 248.5h1M150.4 252.7h1M146.2 251.9h1M158.9 253.5h1M155.9 253.7h1M147.7 248.7h1M147.0 252.1h1M149.3 248.5h1M147.1 248.9h1M146.1 249.3h1M161.8 251.7h1M145.3 251.2h1M147.0 252.0h1M145.0 250.6h1M145.4 251.2h1M146.7 251.9h1M156.2 248.2h1M151.5 252.8h1M146.1 251.5h1M161.5 249.9h1M159.1 248.5h1M148.2 252.2h1M145.6 250.0h1M148.1 248.9h1M161.9 251.0h1M160.2 252.9h1M145.7 250.1h1M145.6 250.5h1"/>
<path stroke="rgb(101, 126, 210)" stroke-width="1" d="M147.1 251.7h1M145.9 250.9h1M159.1 248.6h1M147.2 251.7h1M151.4 248.7h1M149.9 252.3h1M161.5 251.9h1M147.2 251.6h1M146.8 249.6h1M153.5 253.1h1M156.1 248.3h1M151.6 252.6h1M156.2 248.3h1M153.3 253.0h1M149.0 252.0h1M149.6 252.1h1M161.1 252.2h1M148.8 251.9h1M149.6 252.1h1M155.3 253.4h1M160.9 249.6h1M158.9 253.2h1M154.4 248.5h1M155.0 253.3h1M150.7 252.2h1M148.2 249.4h1M147.1 250.0h1M156.1 253.4h1M150.1 251.9h1M147.7 249.8h1M160.6 249.5h1M148.5 251.5h1M155.8 253.4h1M147.7 250.0h1M156.8 248.5h1M156.8 248.5h1M149.3 251.6h1M154.0 253.0h1M153.6 252.9h1M152.0 249.1h1M152.4 252.4h1M147.9 250.4h1M148.9 249.8h1M148.1 250.4h1M148.4 250.9h1M152.9 249.0h1M149.0 251.2h1M148.6 250.1h1M149.7 251.4h1M151.4 252.0h1M151.5 249.3h1M161.3 251.3h1M151.2 249.4h1M148.9 250.1h1M149.9 249.8h1M148.7 250.6h1M157.9 248.7h1M159.2 252.9h1M149.4 250.0h1M161.1 250.4h1M156.1 248.6h1M149.6 251.1h1M150.1 251.3h1M152.1 252.1h1M161.0 250.1h1M153.0 249.1h1M150.2 251.2h1M154.1 248.9h1M150.7 251.4h1"/>
<path stroke="rgb(86, 119, 204)" stroke-width="1" d="M151.1 251.6h1M160.9 250.1h1M154.1 248.9h1M150.7 250.0h1M159.9 249.4h1M159.5 249.2h1M150.8 250.1h1M155.1 253.0h1M151.9 251.8h1M150.6 250.8h1M158.6 248.9h1M152.3 249.5h1M161.0 250.8h1M151.3 251.3h1M150.8 250.4h1M150.9 250.5h1M156.4 248.8h1M152.7 249.6h1M152.3 251.8h1M151.4 250.8h1M151.5 250.9h1M155.3 249.0h1M159.1 249.3h1M152.2 250.1h1M159.0 252.6h1M159.2 249.4h1M153.6 252.2h1M155.7 249.0h1M160.7 250.7h1M155.7 249.0h1M160.4 251.7h1M156.1 249.0h1M152.4 250.5h1M159.6 249.6h1"/>
<path stroke="rgb(72, 113, 198)" stroke-width="1" d="M159.5 249.6h1M159.0 252.5h1M154.4 249.4h1M155.9 249.1h1M154.9 252.5h1M155.5 249.2h1M160.4 251.2h1M153.0 250.3h1M154.4 249.5h1M153.0 250.4h1M154.7 249.4h1M160.1 250.3h1M154.2 252.1h1M154.3 249.6h1M154.6 252.3h1M153.6 251.8h1M156.0 249.2h1M158.6 252.5h1M153.2 251.3h1M159.0 249.6h1M153.6 250.1h1M156.0 252.6h1M159.5 252.0h1M155.5 252.5h1M154.1 252.0h1M160.2 251.2h1M156.6 249.2h1M158.8 252.4h1M155.9 252.5h1M153.4 250.8h1M153.7 251.4h1M156.8 249.3h1M157.2 249.3h1M153.7 250.4h1M158.4 252.4h1M159.8 251.6h1M157.3 252.5h1M153.7 251.3h1M155.9 249.4h1M153.8 250.4h1M156.1 252.4h1"/>
<path stroke="rgb(59, 118, 185)" stroke-width="1" d="M153.8 250.6h1M154.7 249.9h1M158.5 249.7h1M155.7 252.3h1M153.9 251.2h1M154.0 251.2h1M154.9 252.0h1M157.9 252.3h1M156.6 252.4h1M155.0 249.8h1M157.7 252.3h1M154.1 251.3h1M154.9 249.9h1M154.0 250.8h1M158.7 249.9h1M156.8 249.5h1M159.5 251.4h1M158.5 249.8h1M159.5 251.5h1M159.6 251.0h1M156.0 252.2h1M157.8 249.6h1M154.6 250.3h1M156.2 252.2h1M159.4 251.1h1M155.2 250.0h1M159.1 251.5h1M155.1 251.7h1M159.3 250.9h1M155.2 251.7h1M158.0 249.9h1M159.0 251.6h1M159.0 250.4h1M155.1 250.2h1M157.6 249.8h1M155.5 251.8h1M158.2 250.0h1M155.8 251.9h1M155.6 251.8h1M156.9 249.8h1M156.6 252.1h1M158.5 250.1h1M158.9 250.4h1M155.7 251.8h1M155.6 251.8h1M154.9 250.6h1M156.8 249.9h1M157.1 249.9h1M154.9 250.7h1"/>
<path stroke="rgb(49, 135, 166)" stroke-width="1" d="M156.1 251.8h1M157.0 250.0h1M158.4 250.3h1M155.8 251.7h1M156.8 251.9h1M158.2 250.3h1M156.4 251.8h1M158.1 251.7h1M155.3 250.8h1M155.5 251.3h1M155.8 250.4h1M158.1 251.5h1M158.5 250.9h1M158.1 251.5h1M156.1 250.4h1M157.2 251.7h1M155.9 251.3h1M155.7 251.0h1M156.7 250.3h1M156.1 250.5h1M156.5 251.5h1M157.9 251.4h1M155.9 250.8h1M157.4 251.5h1M157.0 250.4h1M156.3 250.5h1M156.8 250.4h1M156.2 250.6h1M156.1 250.7h1M156.6 250.4h1M156.0 250.9h1M156.3 250.6h1M156.2 251.1h1M156.4 250.7h1M156.5 250.6h1M157.3 250.5h1M156.7 250.6h1M156.6 250.7h1M157.4 251.2h1M157.5 250.9h1M156.7 250.9h1"/>
<path stroke="rgb(40, 150, 147)" stroke-width="1" d="M157.1 250.8h1"/>
</g>
<ellipse cx="157.8" cy="250.4" rx="7.5" ry="4.2" fill="url(#g5)" transform="rotate(0 157.8 250.4)"/>
</g>
<text x="105.2" y="192" font-size="6.7" fill="#1e1e1e" >Q1</text>
<text x="105.2" y="199.5" font-size="6.7" fill="#1e1e1e" >4.09</text>
<text x="175.4" y="192" font-size="6.7" fill="#1e1e1e" text-anchor="end" >Q2</text>
<text x="175.4" y="199.5" font-size="6.7" fill="#1e1e1e" text-anchor="end" >16.1</text>
<text x="105.2" y="248.3" font-size="6.7" fill="#1e1e1e" >Q4</text>
<text x="105.2" y="255" font-size="6.7" fill="#1e1e1e" >7.06</text>
<text x="175.4" y="248.3" font-size="6.7" fill="#1e1e1e" text-anchor="end" >Q3</text>
<text x="175.4" y="255" font-size="6.7" fill="#1e1e1e" text-anchor="end" >72.8</text>
<line x1="137.6" y1="182.3" x2="137.6" y2="260" stroke="#1a1a1a" stroke-width="1.0"/>
<line x1="103.1" y1="231.7" x2="181.8" y2="231.7" stroke="#1a1a1a" stroke-width="1.0"/>
<rect x="103.1" y="182.3" width="78.7" height="77.7" fill="none" stroke="#1a1a1a" stroke-width="1.1"/>
<text x="139.7" y="177" font-size="8.6" fill="#c0314b" text-anchor="middle" >ITP</text>
<line x1="13.5" y1="182.7" x2="13.5" y2="232.7" stroke="#1a1a1a" stroke-width="1.1"/>
<text transform="translate(15.4,247.6) rotate(-90)" x="0" y="0" font-size="8.4" fill="#1e1e1e" text-anchor="middle" textLength="24" lengthAdjust="spacingAndGlyphs" >CD62L</text>
<text x="31.2" y="270.2" font-size="8.4" fill="#1e1e1e" text-anchor="middle" textLength="30" lengthAdjust="spacingAndGlyphs" >CD45RA</text>
<line x1="51" y1="267.3" x2="181" y2="267.3" stroke="#1a1a1a" stroke-width="1.1"/>
<g clip-path="url(#fc)" opacity="1.0">
<g filter="url(#bffc)">
<path stroke="rgb(131, 165, 223)" stroke-width="1" d="M37.2 339.6h1M34.1 342.3h1M40.0 341.2h1M24.7 354.4h1M29.2 350.1h1M88.2 414.4h1M82.0 415.8h1M32.7 351.1h1M35.2 349.4h1M53.7 342.9h1M99.9 356.5h1M26.5 363.0h1M77.9 414.1h1M30.4 358.5h1M101.1 379.1h1M43.5 349.9h1M76.6 413.5h1M27.5 367.6h1M64.7 413.8h1M97.4 377.9h1M51.2 348.8h1M25.5 388.3h1M30.4 368.2h1M95.8 375.0h1M94.4 391.7h1M94.1 389.9h1M94.8 387.8h1M101.2 400.4h1M53.3 348.9h1M93.8 371.9h1M58.7 344.6h1M92.9 387.4h1M93.7 378.9h1M36.4 363.7h1M93.6 380.9h1M31.3 374.4h1M92.6 386.2h1M100.4 401.3h1M31.9 377.0h1M69.1 411.8h1M93.0 366.0h1M67.9 411.6h1M96.4 345.5h1M87.5 389.5h1M27.9 389.7h1M98.5 399.1h1M95.6 342.8h1M99.1 401.5h1M83.3 389.4h1M95.7 350.0h1M31.4 414.5h1M48.6 362.1h1M81.8 389.1h1M81.6 389.6h1M39.0 373.9h1M62.7 344.1h1M84.7 378.0h1M95.1 351.0h1M85.7 375.3h1M88.8 369.2h1M56.6 351.6h1M92.4 362.2h1M39.7 374.4h1M88.5 369.4h1M25.6 404.5h1M58.2 409.9h1M85.6 372.7h1M35.4 414.6h1M29.8 412.2h1M25.9 403.8h1M84.8 373.6h1M29.6 411.8h1M97.2 402.0h1M96.6 403.4h1M78.1 386.3h1M58.2 351.3h1M34.0 383.8h1M58.5 351.0h1M36.0 414.3h1M80.8 379.8h1M87.1 394.3h1M69.3 341.2h1M46.7 369.6h1M52.9 361.7h1M26.4 401.6h1M67.7 342.3h1M51.7 363.9h1M55.4 409.5h1M82.1 376.1h1M42.9 413.7h1M32.7 413.1h1M27.8 408.4h1M26.7 405.0h1M62.0 347.5h1M87.8 366.5h1M93.3 346.8h1M95.7 403.3h1M82.8 373.6h1M61.7 409.6h1M80.3 377.8h1M85.2 369.4h1M69.5 342.4h1M70.1 342.1h1M51.5 366.2h1M76.5 339.6h1M91.3 341.4h1"/>
<path stroke="rgb(115, 155, 220)" stroke-width="1" d="M84.3 408.4h1M77.5 409.5h1M92.0 343.6h1M91.9 354.8h1M72.7 392.2h1M62.0 349.3h1M43.2 375.7h1M43.5 375.4h1M34.1 386.3h1M89.8 340.4h1M92.1 351.6h1M91.7 354.4h1M47.3 371.6h1M75.9 383.2h1M52.5 365.7h1M91.0 342.2h1M69.9 342.9h1M74.2 386.1h1M56.0 360.3h1M56.0 360.3h1M91.6 344.4h1M91.2 355.7h1M84.2 339.2h1M84.1 368.6h1M47.0 372.5h1M77.6 378.5h1M88.2 340.1h1M51.3 409.4h1M74.1 341.3h1M48.5 410.6h1M48.3 410.7h1M77.3 378.5h1M74.1 409.4h1M31.8 410.4h1M77.0 379.3h1M86.4 395.4h1M39.5 380.7h1M28.3 402.9h1M77.3 340.5h1M91.3 351.3h1M63.7 409.0h1M49.3 410.1h1M73.2 386.3h1M78.2 375.6h1M28.7 399.1h1M61.2 352.3h1M77.5 393.8h1M38.7 381.9h1M78.7 393.9h1M40.1 412.4h1M86.7 363.6h1M90.9 346.3h1M82.2 369.3h1M54.9 364.0h1M43.7 376.8h1M89.0 358.9h1M88.0 360.8h1M44.3 411.6h1M86.0 363.9h1M28.9 402.1h1M67.2 346.3h1M74.9 409.0h1M31.8 392.4h1M87.9 360.5h1M57.8 408.0h1M70.0 393.0h1M70.4 389.2h1M93.4 402.2h1M64.3 408.7h1M88.2 342.1h1M65.4 348.3h1M65.2 348.6h1M82.2 368.1h1M82.3 340.7h1M66.0 347.8h1M52.8 367.7h1M70.8 344.2h1M35.3 387.3h1M74.9 342.3h1M89.4 344.2h1M69.1 391.3h1M87.3 360.9h1M53.5 367.0h1M82.4 367.6h1M59.1 358.0h1M76.7 374.8h1M89.5 354.6h1M34.2 410.5h1M66.6 347.7h1M30.1 397.4h1M84.9 364.0h1M61.9 353.6h1M73.6 381.8h1M83.8 341.3h1M76.6 374.1h1M54.4 366.4h1M86.9 342.2h1M82.7 341.3h1M86.0 362.1h1M85.8 362.4h1M92.8 401.7h1M32.0 408.5h1M78.6 371.0h1M88.1 406.0h1M89.5 352.0h1M68.5 391.0h1M74.7 378.1h1M83.5 395.5h1M72.6 383.3h1M40.5 411.4h1M31.5 407.7h1M30.1 404.9h1M64.2 350.8h1M87.3 406.2h1M83.5 407.4h1M50.4 408.4h1M67.9 392.3h1M69.6 345.9h1M45.4 376.8h1M89.2 352.4h1M69.8 345.8h1M80.0 408.0h1M86.8 360.0h1M75.3 375.5h1M31.2 406.9h1M68.9 389.8h1M83.6 407.3h1M70.9 386.0h1M47.5 409.6h1M82.9 407.4h1M80.8 367.8h1M92.3 401.1h1M60.9 356.5h1M88.1 356.3h1M83.9 342.0h1M61.2 356.1h1M73.8 378.9h1M85.3 342.4h1M31.0 396.4h1M75.0 375.1h1M75.2 343.4h1M86.0 360.8h1M30.3 399.0h1M68.8 408.5h1M72.8 381.1h1M72.6 394.2h1M50.7 408.0h1M67.9 393.4h1M74.8 343.6h1M35.7 388.4h1M77.2 342.9h1M67.7 393.4h1M68.4 393.7h1M40.3 382.7h1M87.5 344.4h1M88.8 349.4h1M40.9 382.1h1M67.6 348.2h1M44.9 378.0h1M84.6 362.3h1M72.5 380.9h1M30.5 399.5h1M30.8 405.0h1M88.6 350.2h1M50.8 372.2h1M62.2 407.9h1M75.9 372.0h1M73.4 377.7h1M81.5 365.8h1M81.3 395.4h1M86.7 358.0h1M86.9 357.4h1M52.3 370.7h1M66.6 349.7h1M52.1 407.1h1M78.4 368.7h1M42.1 410.6h1M82.1 364.9h1M74.7 373.0h1M48.4 375.1h1M71.5 382.3h1M86.1 358.7h1M88.1 348.2h1M75.9 371.1h1M69.3 394.3h1M69.1 387.4h1M87.7 346.6h1M87.5 354.3h1M80.3 366.4h1M82.1 364.6h1M35.4 389.7h1M60.0 407.3h1M91.0 402.4h1M80.2 366.4h1M79.2 367.4h1M76.9 369.5h1M31.7 405.8h1M89.9 399.2h1M74.1 408.1h1M83.7 362.3h1M78.0 368.4h1M90.2 403.4h1M53.4 406.6h1M72.7 376.5h1M54.0 369.4h1M81.9 395.8h1M47.0 376.9h1M70.0 347.4h1M47.7 408.8h1M46.9 377.0h1M71.4 381.0h1M55.1 367.9h1M62.5 355.9h1M72.4 377.2h1M87.3 354.0h1M69.2 348.0h1M71.9 379.1h1M35.5 409.4h1M73.8 372.7h1M84.8 360.2h1M86.6 356.1h1M75.5 344.5h1M77.4 368.6h1M78.1 367.9h1M73.7 372.8h1M62.0 357.1h1M32.9 394.3h1M71.1 381.3h1M31.0 402.0h1M79.2 343.6h1M86.7 345.9h1M72.8 345.9h1M73.4 373.0h1M76.0 369.6h1M70.0 384.0h1"/>
<path stroke="rgb(98, 145, 216)" stroke-width="1" d="M70.7 382.1h1M31.1 400.1h1M34.2 408.3h1M82.1 363.5h1M45.8 378.6h1M86.7 397.5h1M45.9 378.5h1M72.9 373.3h1M69.5 384.7h1M54.3 369.6h1M86.3 346.0h1M51.4 373.0h1M75.5 407.9h1M37.2 388.1h1M62.2 407.4h1M50.8 373.7h1M76.3 395.1h1M69.7 348.2h1M69.6 394.7h1M43.7 380.7h1M32.8 406.7h1M74.3 370.8h1M49.2 407.8h1M78.2 407.5h1M75.6 369.4h1M70.1 408.0h1M84.3 406.2h1M33.8 407.8h1M85.1 358.5h1M80.2 365.1h1M70.8 347.5h1M78.4 407.5h1M31.5 399.2h1M84.9 345.0h1M69.3 384.7h1M44.4 409.6h1M31.4 402.8h1M70.6 380.9h1M75.3 369.4h1M81.6 406.9h1M71.3 377.2h1M78.8 344.3h1M61.6 407.2h1M50.5 374.4h1M76.9 367.8h1M50.9 406.8h1M85.9 346.4h1M74.6 369.9h1M40.8 384.1h1M72.7 346.6h1M72.0 347.0h1M65.7 352.6h1M61.9 407.2h1M66.6 389.6h1M68.0 386.9h1M87.3 404.8h1M66.5 351.8h1M84.0 406.1h1M83.5 344.7h1M89.7 402.5h1M58.8 363.9h1M61.7 358.9h1M42.5 382.5h1M69.9 394.9h1M42.9 382.1h1M70.3 380.3h1M71.3 374.4h1M78.7 344.6h1M76.4 367.9h1M66.0 394.6h1M59.6 406.7h1M76.8 345.1h1M32.9 406.2h1M67.2 407.7h1M85.9 397.6h1M84.9 357.5h1M49.4 376.0h1M86.0 354.0h1M85.8 354.7h1M70.4 378.6h1M84.7 345.8h1M49.6 375.8h1M32.7 396.3h1M46.2 408.7h1M77.6 407.4h1M78.6 395.7h1M31.7 402.5h1M74.8 368.9h1M74.3 407.7h1M64.9 394.2h1M85.8 397.6h1M85.5 397.5h1M70.0 380.1h1M68.1 385.8h1M37.5 388.5h1M89.4 400.5h1M82.1 361.9h1M65.0 394.4h1M49.6 375.9h1M43.4 381.9h1M68.9 383.7h1M32.3 397.5h1M55.0 370.0h1M80.6 363.5h1M56.0 405.9h1M89.2 400.2h1M36.0 408.6h1M43.2 382.3h1M54.0 405.7h1M70.3 407.7h1M85.9 352.7h1M35.4 408.2h1M59.7 406.5h1M77.3 345.4h1M39.0 409.5h1M32.4 404.6h1M60.9 361.3h1M77.8 365.9h1M70.0 376.9h1M85.3 347.6h1M79.8 345.1h1M79.0 364.8h1M34.6 393.1h1M34.6 407.4h1M32.5 397.5h1M32.4 397.8h1M60.9 361.5h1M64.5 394.5h1M56.6 405.8h1M67.1 387.1h1M73.8 347.0h1M44.0 409.1h1M56.1 369.2h1M70.0 374.0h1M69.4 380.0h1M59.6 363.7h1M69.8 376.0h1M69.7 377.2h1M32.4 398.2h1M43.1 382.8h1M43.9 381.9h1M85.4 353.5h1M79.2 364.3h1M85.5 397.8h1M76.0 367.0h1M33.4 395.5h1M85.4 353.0h1M60.5 406.5h1M67.7 385.4h1M82.8 345.8h1M83.6 358.4h1M70.0 373.0h1M42.2 383.8h1M69.6 374.5h1M64.4 356.1h1M72.0 370.1h1M85.5 397.9h1M85.0 348.1h1M78.3 345.7h1M82.2 345.7h1M35.3 407.8h1M83.8 357.7h1M69.7 373.4h1M83.6 346.4h1M35.4 407.9h1M64.5 391.5h1M85.1 353.7h1M37.5 408.8h1M64.2 356.6h1M71.9 370.0h1M60.1 406.4h1M68.9 380.5h1M34.1 394.5h1M69.2 375.2h1M82.8 359.3h1M69.6 373.0h1M82.0 345.8h1M61.3 361.5h1M71.8 369.9h1M48.0 378.4h1M79.6 345.7h1M62.7 359.1h1M71.9 369.8h1M88.3 400.1h1M73.3 395.5h1M43.5 382.7h1M68.5 351.3h1M85.2 350.3h1M32.4 399.1h1M74.1 367.9h1M33.8 395.1h1M74.4 407.3h1M81.9 360.5h1M77.4 407.0h1M57.9 367.4h1M69.8 350.2h1M70.6 395.5h1M84.7 354.2h1M59.4 365.0h1M67.6 395.4h1M58.0 367.3h1M77.2 395.9h1M66.6 407.2h1M68.7 378.6h1M54.7 405.2h1M68.9 395.4h1M76.3 395.8h1M33.9 406.2h1M68.2 395.4h1M35.1 393.0h1M68.8 373.8h1M67.4 352.7h1M84.4 355.0h1M68.7 375.9h1M84.0 347.6h1M38.5 388.5h1M66.5 353.8h1M72.9 407.3h1M53.8 373.1h1M62.8 359.4h1M77.4 365.0h1M63.9 391.7h1M58.5 366.7h1M80.3 362.2h1M72.8 348.3h1M59.0 365.9h1M77.1 346.5h1M83.7 356.8h1M57.3 368.6h1M65.4 395.3h1M59.9 406.2h1M74.0 347.7h1M46.3 380.3h1M84.2 397.7h1M70.7 370.2h1M69.2 371.9h1M67.5 383.7h1M73.5 395.7h1M84.2 355.0h1M67.4 353.0h1M72.6 348.6h1M83.2 405.6h1M67.4 384.0h1M84.3 354.4h1M74.9 366.7h1M36.7 391.0h1M33.1 397.5h1M51.6 375.7h1M77.3 364.7h1M69.8 407.3h1M33.8 395.8h1M68.1 378.6h1M77.9 346.6h1M87.6 403.1h1M60.4 406.2h1M80.8 346.5h1M68.6 372.3h1M58.4 367.5h1M80.1 346.4h1M60.6 363.7h1M60.4 364.2h1M77.1 364.8h1M39.8 387.3h1M78.5 363.4h1M87.4 403.2h1M65.1 388.9h1M48.8 406.6h1M82.4 358.5h1M80.4 361.4h1M60.7 363.7h1M66.0 355.1h1M53.1 374.5h1M67.7 375.5h1M77.7 406.8h1M46.2 380.8h1M60.9 363.5h1M67.8 377.7h1M66.6 354.4h1M39.6 387.6h1M68.3 352.4h1M58.0 405.5h1M38.9 388.5h1M68.8 371.4h1M32.7 401.4h1M83.2 405.5h1M71.8 368.6h1M67.6 376.3h1M76.6 406.9h1M81.8 397.1h1M63.5 359.2h1M32.8 399.6h1M78.7 406.6h1M76.6 364.8h1M32.8 402.7h1M51.3 376.4h1M42.7 384.4h1M72.3 349.3h1M68.9 352.0h1M71.5 407.2h1M51.4 376.3h1M67.7 372.8h1M82.7 347.7h1M67.6 380.4h1M67.4 373.7h1M36.1 392.2h1M62.8 360.5h1M64.5 395.6h1M80.0 361.5h1M81.7 359.1h1M84.1 351.1h1M70.2 395.7h1M67.3 395.7h1M71.5 395.8h1M67.4 353.7h1M68.3 352.7h1M72.7 349.1h1M67.0 354.2h1M59.6 405.8h1M67.4 381.1h1M76.3 364.9h1M76.3 364.9h1M62.9 360.4h1M77.3 364.0h1M33.9 396.2h1M51.3 376.6h1M51.0 376.9h1M33.0 398.8h1M83.8 349.9h1M55.1 404.8h1M71.3 368.5h1M66.2 385.5h1M75.8 365.1h1M83.4 354.9h1M72.7 367.4h1M37.8 390.3h1M74.5 348.3h1M51.0 377.0h1M83.1 348.7h1M77.8 363.4h1M75.4 347.9h1M51.8 405.1h1M47.6 407.0h1M82.7 356.7h1M67.2 406.9h1M35.0 394.2h1M47.0 380.5h1M49.9 378.0h1M63.0 360.6h1M40.9 408.7h1M69.6 395.8h1M76.5 364.4h1M47.5 407.0h1M72.7 349.5h1M69.5 395.8h1M59.5 366.9h1M64.7 357.8h1M66.7 373.2h1M51.5 376.7h1M65.9 395.8h1M69.1 395.9h1M70.3 351.2h1M82.6 348.5h1M81.2 359.2h1M77.7 363.3h1M58.9 405.5h1M56.3 372.1h1M64.8 357.8h1M77.4 363.5h1M64.5 388.9h1M77.6 363.3h1M67.4 371.6h1M80.7 359.8h1M39.6 388.3h1M66.2 384.6h1M72.9 366.9h1M67.9 353.7h1M77.6 363.2h1M36.2 392.6h1M67.1 371.8h1M74.2 406.9h1M77.3 363.5h1M83.2 354.2h1M60.0 366.4h1M84.0 404.9h1M44.0 383.6h1M62.3 395.3h1M80.5 360.0h1M79.5 347.5h1M46.0 407.5h1M62.5 395.5h1M81.7 358.0h1M83.1 350.0h1M80.9 359.2h1M70.9 368.1h1M52.2 404.7h1M81.8 348.3h1M87.3 401.7h1M72.1 367.2h1M81.9 357.5h1M80.4 347.7h1M57.7 405.0h1M67.8 370.6h1M65.9 373.8h1M65.0 406.6h1M81.2 358.7h1M66.5 378.0h1M37.2 407.7h1M79.5 347.7h1M79.5 361.0h1M62.8 391.5h1M83.3 352.7h1"/>
<path stroke="rgb(84, 136, 212)" stroke-width="1" d="M83.0 350.0h1M76.7 396.4h1M71.7 350.5h1M51.6 404.9h1M66.4 396.0h1M63.9 359.8h1M48.2 379.9h1M61.5 364.2h1M66.4 371.9h1M83.2 351.7h1M74.0 365.8h1M67.8 354.3h1M65.7 373.4h1M33.2 401.3h1M70.4 406.9h1M35.6 406.6h1M52.7 376.2h1M66.4 382.0h1M48.2 380.0h1M39.0 389.3h1M62.7 362.0h1M56.9 372.3h1M66.3 371.7h1M80.1 359.9h1M82.1 356.5h1M74.3 349.1h1M71.7 367.2h1M61.5 394.1h1M69.7 368.6h1M66.3 371.6h1M49.4 379.1h1M52.2 376.8h1M66.4 371.5h1M63.6 360.7h1M53.2 376.0h1M59.1 369.0h1M59.0 405.3h1M53.4 375.8h1M77.8 362.4h1M63.5 360.8h1M83.0 352.7h1M65.5 385.2h1M62.1 392.4h1M44.4 383.6h1M61.3 394.5h1M56.6 372.8h1M68.1 369.7h1M79.9 405.9h1M68.4 369.4h1M67.2 355.2h1M76.8 363.3h1M65.8 377.4h1M65.1 375.0h1M86.3 399.9h1M72.8 406.8h1M65.3 376.1h1M69.7 396.1h1M60.2 367.1h1M78.5 348.1h1M77.7 362.4h1M68.4 353.9h1M38.2 407.8h1M72.3 366.5h1M65.1 375.4h1M65.0 374.9h1M75.8 348.7h1M67.6 369.9h1M61.4 395.3h1M81.8 356.6h1M73.8 396.2h1M70.1 352.2h1M69.3 353.0h1M34.3 396.6h1M79.6 360.3h1M63.0 390.6h1M70.1 352.3h1M61.6 364.6h1M66.0 380.1h1M72.4 406.8h1M75.7 364.0h1M56.6 373.2h1M33.4 400.3h1M73.5 349.9h1M79.8 359.9h1M71.2 351.4h1M33.4 401.7h1M67.8 369.5h1M56.3 404.4h1M37.2 391.9h1M78.1 348.3h1M86.0 403.1h1M65.6 357.8h1M76.7 363.1h1M79.0 360.8h1M75.2 349.1h1M67.6 355.1h1M33.6 398.8h1M64.9 376.3h1M64.5 375.0h1M61.2 393.9h1M74.4 364.8h1M78.2 361.6h1M65.4 384.6h1M45.0 383.4h1M59.1 370.2h1M74.7 364.6h1M65.1 377.1h1M68.7 406.7h1M57.3 372.8h1M63.1 362.3h1M80.6 358.3h1M58.3 404.9h1M78.7 348.5h1M75.2 364.1h1M43.5 384.9h1M80.1 348.7h1M60.9 394.8h1M34.4 404.7h1M70.9 367.1h1M75.6 406.5h1M64.2 373.2h1M82.4 352.6h1M44.6 383.9h1M66.9 369.8h1M76.8 348.8h1M82.4 351.9h1M77.3 348.7h1M61.8 396.0h1M38.2 390.8h1M71.0 351.9h1M76.2 349.0h1M73.1 350.4h1M81.7 355.8h1M46.1 407.1h1M40.8 408.1h1M68.4 354.4h1M64.2 375.6h1M47.6 381.2h1M77.6 348.7h1M65.0 371.4h1M64.3 372.3h1M77.2 362.3h1M80.1 358.9h1M42.4 386.2h1M61.2 395.8h1M64.5 386.7h1M77.5 348.7h1M63.8 361.4h1M83.4 404.6h1M81.2 356.9h1M80.8 349.3h1M60.9 367.4h1M82.8 398.1h1M54.5 375.8h1M58.5 372.0h1M64.7 371.5h1M86.1 400.4h1M62.0 391.7h1M84.0 398.7h1M73.1 365.4h1M81.7 355.4h1M64.6 386.2h1M66.2 357.5h1M58.7 371.8h1M60.7 395.1h1M80.6 357.8h1M65.2 384.0h1M53.3 376.7h1M59.9 369.8h1M63.5 374.0h1M76.8 349.0h1M65.7 358.3h1M78.5 348.8h1M36.6 406.7h1M61.7 392.2h1M67.8 368.8h1M73.7 364.9h1M75.8 349.4h1M56.4 374.5h1M64.9 378.5h1M78.0 348.9h1M59.2 371.5h1M60.7 395.5h1M85.1 403.5h1M65.1 370.7h1M80.5 357.9h1M39.6 407.9h1M69.8 353.3h1M59.2 371.6h1M63.6 372.3h1M68.4 368.2h1M60.1 370.0h1M71.6 366.2h1M63.4 372.7h1M57.3 373.8h1M44.5 407.5h1M58.9 372.3h1M63.3 405.9h1M54.8 375.9h1M85.3 403.3h1M41.1 387.8h1M55.1 375.6h1M59.1 372.2h1M34.3 397.4h1M68.8 367.9h1M69.1 367.7h1M65.5 406.3h1M81.5 350.7h1M71.0 352.3h1M84.0 404.1h1M61.2 367.8h1M79.0 349.1h1M79.4 359.3h1M63.7 371.5h1M62.8 374.2h1M47.9 381.3h1M63.2 372.1h1M58.2 373.3h1M68.7 396.4h1M67.7 368.5h1M41.2 408.0h1M65.1 381.4h1M65.1 380.8h1M44.3 384.5h1M75.8 406.3h1M73.7 364.6h1M62.4 365.0h1M59.6 372.1h1M60.4 405.2h1M81.0 356.2h1M60.6 370.0h1M52.2 404.0h1M64.9 380.1h1M64.6 370.5h1M80.4 349.8h1M67.4 396.4h1M62.3 405.7h1M65.9 369.5h1M47.0 382.1h1M72.1 351.6h1M64.5 385.3h1M39.7 407.8h1M56.1 403.9h1M73.3 364.8h1M75.9 362.8h1M79.3 349.4h1M73.7 350.6h1M62.0 366.3h1M58.0 373.9h1M67.2 368.6h1M61.2 368.8h1M62.7 371.8h1M62.5 375.1h1M62.9 371.5h1M61.3 368.7h1M64.4 378.8h1M34.9 396.2h1M81.9 398.0h1M81.4 354.6h1M63.3 376.7h1M60.5 371.7h1M46.8 382.4h1M45.8 383.3h1M72.3 396.4h1M60.8 371.1h1M63.3 371.1h1M52.7 403.8h1M60.6 371.8h1M61.8 373.8h1M61.0 370.6h1M61.7 373.4h1M61.7 367.6h1M61.7 373.8h1M64.8 380.4h1M64.5 379.4h1M70.4 406.5h1M46.9 382.3h1M51.5 378.7h1M80.3 350.0h1M61.2 370.9h1M44.9 384.1h1M55.0 376.3h1M61.3 370.8h1M80.3 357.3h1M49.7 380.1h1M81.9 404.9h1M61.7 370.9h1M33.9 402.2h1M80.8 356.1h1M36.0 406.0h1M69.5 367.0h1M81.1 397.8h1M81.4 353.3h1M61.6 374.4h1M46.8 406.5h1M59.2 373.7h1M61.1 373.7h1M62.1 370.8h1M61.7 370.1h1M64.8 369.6h1M85.8 402.2h1M65.0 360.4h1M61.9 375.2h1M63.2 363.9h1M60.1 373.6h1M63.2 364.0h1M64.5 380.1h1M60.4 373.6h1M68.7 355.0h1M38.0 391.7h1M80.8 397.8h1M53.0 377.8h1M62.2 366.8h1M81.3 352.9h1M47.5 382.0h1M60.3 373.9h1M81.3 353.4h1M63.2 370.2h1M78.0 360.4h1M63.3 388.1h1M67.8 356.2h1M61.3 374.7h1M41.0 388.4h1M85.6 402.3h1M62.4 376.2h1M67.6 367.9h1M62.0 375.8h1M72.2 406.4h1M81.1 352.0h1M64.6 382.0h1M79.2 349.9h1M63.0 377.2h1M78.0 405.8h1M66.2 368.6h1M74.0 363.9h1M62.9 365.2h1M73.8 364.0h1M63.9 362.8h1M54.7 403.4h1M63.1 369.8h1M38.9 390.7h1M77.6 360.6h1M80.0 350.4h1M59.0 374.6h1M60.7 374.8h1M52.5 378.3h1M63.6 369.5h1M80.7 355.6h1M79.8 357.5h1M55.2 376.6h1M63.0 377.6h1M62.4 367.9h1M63.3 378.0h1M63.0 377.5h1M62.8 366.0h1M76.6 396.9h1M73.2 396.6h1M81.2 405.0h1M85.2 400.3h1M63.0 365.3h1M76.1 406.1h1M79.8 397.5h1M56.8 375.7h1M77.8 397.1h1M62.6 367.4h1M61.4 375.8h1M62.7 366.4h1M38.2 391.6h1M62.6 367.2h1M78.7 359.2h1M38.5 407.3h1M83.3 404.1h1M71.9 352.4h1M75.0 350.6h1M71.7 365.2h1M64.1 362.8h1M56.3 403.6h1M42.1 407.7h1M69.8 366.3h1M63.1 378.2h1M80.8 354.3h1M78.5 350.1h1M80.8 352.2h1M66.4 368.1h1M64.2 362.6h1M71.2 353.0h1M71.0 406.4h1M49.7 380.5h1M60.0 393.9h1M74.1 363.4h1M42.6 407.6h1M70.6 396.6h1M57.0 403.8h1M68.6 366.8h1M59.8 375.4h1M63.0 367.3h1M63.4 387.0h1M65.0 368.5h1M35.7 405.4h1M50.9 404.1h1M49.7 404.7h1M62.9 388.1h1M85.3 402.2h1M73.6 351.4h1M60.1 375.6h1M44.9 407.0h1M80.5 351.8h1M35.0 396.7h1M53.5 403.2h1M78.5 359.0h1M65.2 368.3h1M58.1 375.7h1M85.1 402.5h1M43.9 385.7h1M51.5 379.3h1M63.7 368.1h1M64.6 396.8h1M58.9 375.6h1M64.1 382.7h1M69.8 366.0h1M78.9 405.5h1M51.3 403.9h1M59.3 375.8h1M75.8 350.6h1M66.8 358.4h1M41.5 388.2h1M77.9 359.7h1M70.8 365.4h1M60.3 404.8h1M80.2 355.6h1M57.6 376.1h1M34.2 399.9h1M68.1 366.8h1M36.0 394.8h1M83.2 404.0h1M74.5 362.9h1M75.0 362.5h1M68.6 366.5h1M80.5 353.6h1M84.4 399.8h1M71.2 353.3h1M44.7 385.0h1M55.7 403.2h1M64.6 367.8h1M70.7 365.3h1M66.4 367.5h1M64.6 362.7h1M63.6 366.0h1M39.6 390.4h1M40.4 407.5h1M62.2 378.1h1M51.4 379.6h1M41.7 388.1h1M68.5 356.2h1M46.1 383.8h1M67.9 366.7h1M61.2 397.0h1M49.4 381.1h1M77.1 397.2h1M68.2 356.6h1M64.2 367.3h1M62.0 377.9h1M81.4 398.2h1M63.8 383.7h1M50.4 404.2h1M78.4 358.6h1M64.6 367.4h1M65.6 360.8h1M71.2 353.5h1M72.7 364.0h1M60.3 396.9h1M75.7 350.9h1M75.3 362.0h1M38.7 391.4h1M68.8 366.2h1M67.1 406.1h1M63.7 382.3h1M78.9 357.7h1M84.0 403.3h1M59.4 376.5h1M48.3 382.0h1M44.1 407.1h1M57.2 376.7h1M78.7 358.0h1M52.8 378.9h1M59.1 376.5h1M59.6 376.6h1M49.3 381.3h1M63.9 405.6h1M63.2 386.3h1M69.3 365.8h1M70.0 354.7h1M75.1 351.2h1M74.0 351.7h1M34.5 398.5h1M64.2 365.2h1M66.7 366.9h1M74.1 351.7h1M59.0 395.3h1M42.2 387.8h1M38.4 391.9h1M62.4 405.3h1M68.0 366.4h1M60.6 377.2h1M38.2 406.9h1M36.1 405.4h1M41.8 388.2h1M68.0 406.1h1M61.5 378.0h1M34.3 401.2h1M70.1 354.8h1M60.2 392.6h1M64.0 405.6h1M75.6 351.2h1M48.9 381.7h1M69.0 396.8h1M64.8 363.5h1M60.4 392.2h1M70.3 365.1h1M59.1 376.9h1M47.1 405.9h1M63.2 385.9h1M36.5 394.5h1M61.8 389.5h1M35.5 404.7h1M51.1 380.2h1M84.7 400.6h1M78.5 358.0h1M62.8 379.9h1M47.7 382.7h1M69.5 365.5h1M84.5 400.3h1M74.9 351.6h1M67.8 357.8h1M77.2 351.1h1M42.3 407.4h1M37.7 406.6h1M63.4 381.8h1M64.6 364.9h1M57.3 377.1h1M59.5 397.0h1M63.4 382.7h1M79.7 352.9h1M62.9 380.4h1M58.7 377.1h1M73.5 362.9h1M56.7 377.3h1M63.2 385.4h1M67.9 357.8h1M56.9 377.3h1M79.7 353.8h1M38.3 392.1h1M43.6 407.1h1M56.6 377.4h1M49.4 381.6h1M60.0 397.2h1M51.8 379.9h1M47.8 405.4h1M72.8 352.8h1M72.8 352.8h1M60.2 404.5h1M55.6 377.9h1M62.9 386.1h1M79.6 354.5h1M57.9 403.7h1M82.8 403.9h1M76.5 360.2h1M46.7 383.7h1M39.4 391.1h1M69.8 355.5h1M65.1 364.0h1M60.8 391.0h1M54.1 378.7h1M63.0 385.5h1M75.2 351.7h1M66.1 361.2h1M73.9 362.4h1M66.3 366.0h1M73.9 362.4h1M77.5 351.5h1M54.2 378.7h1M35.2 397.2h1M60.1 378.0h1M78.3 357.5h1M72.1 353.5h1M68.2 406.0h1M70.3 364.6h1M68.6 365.4h1M50.8 380.7h1M65.8 362.0h1M34.9 398.1h1M84.6 401.9h1M65.5 365.3h1M49.2 404.6h1M66.3 365.8h1M75.4 361.1h1M65.9 362.0h1M65.3 364.4h1M62.1 379.9h1M70.2 364.6h1M78.5 352.2h1M59.5 377.9h1M76.2 351.7h1M63.0 383.0h1M43.4 387.0h1M66.1 365.5h1M67.1 365.6h1M59.2 397.3h1M77.4 358.8h1M80.5 404.7h1M45.2 385.3h1M67.3 405.9h1M62.3 380.5h1M79.1 355.1h1M82.9 399.3h1M74.7 361.5h1M75.7 360.6h1M47.1 383.7h1M77.4 358.7h1M73.2 353.0h1M64.7 397.2h1M45.0 385.6h1M66.6 365.4h1M75.0 405.8h1M52.7 379.7h1M73.7 362.2h1M40.6 390.0h1M76.2 351.9h1M34.6 401.5h1M62.1 387.5h1M34.7 401.9h1M82.2 399.0h1M66.2 364.9h1M36.4 405.3h1M62.7 382.0h1M59.0 403.9h1M69.6 356.3h1M68.7 357.5h1M59.0 393.6h1M50.5 403.7h1M44.4 386.2h1M76.7 359.2h1M69.9 364.4h1M78.9 354.1h1M67.1 405.8h1M59.4 393.0h1M62.1 380.6h1M78.6 405.2h1M47.4 405.5h1M62.6 382.3h1M77.9 352.4h1M47.6 383.4h1M60.5 391.1h1M61.8 380.3h1M78.8 354.4h1M35.7 396.3h1M59.0 378.3h1M76.0 359.9h1"/>
<path stroke="rgb(74, 128, 208)" stroke-width="1" d="M74.6 405.8h1M36.2 395.5h1M69.4 397.0h1M78.7 354.3h1M66.6 364.7h1M66.2 363.3h1M66.7 361.3h1M69.7 397.0h1M56.6 402.7h1M84.3 401.9h1M34.7 401.9h1M66.3 397.2h1M59.1 378.5h1M49.8 381.8h1M39.0 391.8h1M62.6 382.8h1M61.1 389.7h1M66.7 364.4h1M66.3 363.8h1M46.2 406.0h1M61.6 397.7h1M84.1 400.8h1M64.3 405.3h1M75.4 352.5h1M78.6 354.2h1M59.1 378.6h1M78.4 353.7h1M62.5 384.9h1M57.9 396.5h1M68.9 357.7h1M51.6 380.7h1M78.2 353.3h1M75.6 360.1h1M66.5 363.0h1M73.0 362.2h1M36.4 405.2h1M69.8 356.5h1M78.0 356.6h1M82.6 403.6h1M67.1 364.3h1M67.4 360.3h1M68.6 364.4h1M72.6 405.9h1M58.4 397.6h1M44.2 386.7h1M36.5 395.1h1M70.9 355.4h1M44.0 406.7h1M68.0 359.1h1M77.1 358.2h1M77.9 356.6h1M66.8 362.1h1M77.0 358.2h1M60.3 379.4h1M69.0 357.6h1M61.7 387.7h1M72.5 362.4h1M36.8 394.7h1M83.1 399.8h1M55.4 379.0h1M57.8 395.9h1M62.3 385.5h1M51.8 380.7h1M59.1 378.9h1M70.9 363.3h1M57.3 402.8h1M66.8 363.4h1M58.4 394.3h1M62.4 383.4h1M64.1 397.5h1M75.8 405.6h1M58.1 397.6h1M55.8 402.1h1M80.6 398.5h1M39.5 391.4h1M54.2 379.5h1M69.1 364.0h1M74.9 352.9h1M60.7 379.9h1M56.3 378.9h1M36.4 405.0h1M67.0 362.1h1M70.7 355.8h1M61.5 380.9h1M35.2 398.0h1M72.1 362.6h1M51.0 403.2h1M82.2 399.3h1M57.6 396.9h1M57.3 378.8h1M62.3 384.3h1M49.2 382.5h1M61.1 404.4h1M67.5 363.8h1M68.9 363.9h1M47.2 384.1h1M48.6 404.5h1M39.3 406.7h1M54.7 379.5h1M61.6 387.5h1M70.3 356.4h1M43.8 387.2h1M60.9 380.3h1M70.3 363.4h1M54.8 401.8h1M44.7 406.5h1M67.1 397.3h1M63.2 405.0h1M52.2 380.7h1M40.5 407.0h1M70.2 363.4h1M58.8 379.1h1M59.7 391.6h1M36.1 404.6h1M59.2 403.6h1M35.9 404.3h1M83.4 400.2h1M73.0 405.8h1M58.0 379.0h1M61.7 387.0h1M56.9 402.4h1M68.7 358.7h1M56.9 402.4h1M55.1 379.4h1M53.4 380.1h1M69.0 358.2h1M44.3 386.8h1M55.7 401.8h1M58.8 379.3h1M82.4 399.5h1M68.1 363.5h1M68.2 359.7h1M75.7 353.2h1M69.4 357.7h1M47.4 384.1h1M55.0 379.5h1M34.9 399.8h1M72.4 354.7h1M77.3 353.9h1M61.7 386.6h1M43.5 387.7h1M69.2 363.3h1M55.2 379.5h1M72.3 362.0h1M67.7 362.8h1M63.9 397.6h1M53.5 380.2h1M44.8 386.4h1M40.1 391.0h1M57.7 402.7h1M76.8 353.6h1M51.1 402.9h1M70.9 356.1h1M57.7 402.7h1M67.8 361.3h1M42.2 389.0h1M40.5 390.7h1M52.7 380.7h1M57.3 395.8h1M77.4 354.8h1M68.3 362.9h1M83.3 402.5h1M39.6 391.7h1M68.2 360.4h1M55.9 379.5h1M68.4 362.8h1M58.2 393.9h1M79.4 398.3h1M36.3 395.9h1M68.1 361.1h1M50.4 382.1h1M71.5 355.8h1M56.4 379.5h1M55.9 379.6h1M47.9 404.8h1M61.0 381.4h1M46.4 405.6h1M61.2 381.8h1M68.4 362.4h1M34.9 401.1h1M76.5 357.2h1M58.2 379.7h1M71.3 362.1h1M72.9 361.2h1M68.3 405.6h1M60.2 390.1h1M71.4 356.0h1M82.7 403.0h1M67.1 397.4h1M57.5 402.4h1M73.4 405.6h1M61.6 383.3h1M68.4 361.3h1M74.8 359.5h1M57.2 398.2h1M58.6 393.0h1M69.2 362.5h1M56.2 401.5h1M73.9 397.4h1M56.4 379.7h1M36.7 395.3h1M69.3 358.9h1M57.9 379.7h1M50.3 382.3h1M72.8 361.1h1M75.3 358.8h1M69.3 405.6h1M75.0 354.1h1M68.6 361.7h1M72.6 397.3h1M42.4 389.0h1M69.0 359.7h1M60.0 380.7h1M69.0 362.2h1M40.8 390.6h1M73.5 360.5h1M59.4 391.4h1M50.9 382.0h1M46.9 384.8h1M69.5 397.3h1M55.0 401.1h1M56.9 396.3h1M47.8 404.8h1M75.2 405.4h1M71.9 405.6h1M55.1 380.1h1M71.5 361.7h1M59.8 380.7h1M75.2 354.3h1M50.6 382.2h1M61.3 386.3h1M59.0 380.3h1M75.9 357.5h1M75.0 358.9h1M76.5 356.0h1M55.7 401.0h1M57.5 398.8h1M52.3 381.2h1M69.8 358.6h1M71.1 361.7h1M61.1 382.6h1M80.7 398.9h1M35.0 400.9h1M73.0 360.6h1M61.0 387.5h1M80.0 398.7h1M59.1 403.2h1M56.5 397.7h1M42.5 389.1h1M57.9 402.4h1M72.8 360.6h1M75.0 354.6h1M55.3 400.8h1M42.4 389.2h1M70.5 357.8h1M57.0 380.0h1M56.7 398.6h1M55.6 400.8h1M58.2 398.9h1M46.7 385.2h1M39.2 392.4h1M75.7 357.5h1M53.2 381.0h1M67.8 405.5h1M56.4 380.1h1M80.4 404.1h1M75.8 355.1h1M47.6 384.5h1M56.1 380.1h1M73.7 397.5h1M67.7 405.4h1M80.2 404.2h1M63.2 404.7h1M52.1 381.5h1M74.5 354.9h1M72.5 355.9h1M61.0 382.9h1M75.7 357.1h1M75.7 357.1h1M36.3 404.4h1M73.4 355.4h1M70.1 358.6h1M63.3 398.0h1M46.7 385.3h1M74.6 355.0h1M65.2 397.7h1M71.5 356.9h1M60.8 398.5h1M69.6 360.6h1M75.4 355.2h1M72.8 360.3h1M55.1 400.5h1M71.7 360.9h1M56.3 397.3h1M70.2 361.1h1M57.3 401.6h1M63.2 404.7h1M75.3 357.5h1M59.8 381.3h1M56.6 396.1h1M56.2 398.4h1M54.3 380.7h1M56.8 395.5h1M73.6 359.5h1M69.9 360.1h1M57.2 401.4h1M55.6 400.2h1M56.3 399.6h1M35.5 402.6h1M56.1 399.3h1M56.5 396.1h1M71.0 357.9h1M58.8 391.9h1M66.1 397.7h1M54.3 380.8h1M71.2 357.6h1M58.4 380.6h1M52.5 401.6h1M59.3 398.9h1M55.9 399.7h1M38.6 393.2h1M56.0 398.9h1M47.7 404.7h1M70.9 360.7h1M60.4 388.6h1M74.7 358.0h1M55.9 399.0h1M72.0 360.4h1M71.3 357.7h1M45.3 386.7h1M47.2 385.0h1M55.9 398.6h1M74.1 358.6h1M74.9 355.9h1M74.0 355.8h1M37.5 394.5h1M48.1 384.4h1M44.1 406.3h1M56.0 380.5h1M58.7 380.9h1M60.2 388.8h1M60.3 388.6h1M74.3 355.9h1M57.7 401.7h1M56.2 396.8h1M72.9 359.6h1M75.5 397.8h1M56.5 395.9h1M71.3 358.0h1M70.8 360.1h1M61.0 384.8h1M73.6 359.0h1M74.4 358.0h1M82.1 403.0h1M71.2 360.1h1M72.2 397.5h1M60.8 386.4h1M69.2 405.4h1M55.0 400.0h1M49.9 383.2h1M38.2 405.8h1M72.5 359.5h1M54.2 400.5h1M74.6 356.8h1M57.7 380.7h1M47.6 404.6h1M48.3 404.2h1M72.7 359.3h1M55.3 399.4h1M65.4 397.8h1M41.8 406.6h1M60.0 389.1h1M73.1 358.9h1M51.4 402.1h1M60.3 382.7h1M56.1 380.7h1M72.7 359.1h1M51.0 402.4h1M48.0 384.6h1M60.9 398.7h1M60.5 383.2h1M74.0 357.2h1M59.6 399.1h1M73.8 357.0h1M73.1 358.6h1M73.8 357.6h1M71.8 358.7h1M58.1 401.9h1M58.7 391.6h1M60.7 386.5h1M74.1 397.7h1M41.9 390.0h1M72.2 358.8h1M58.5 402.3h1M73.5 357.8h1M57.7 400.2h1M59.6 389.9h1M60.2 383.0h1M72.9 357.7h1M60.7 386.0h1M55.2 380.9h1M55.3 398.6h1M82.5 402.4h1M46.4 385.9h1M55.4 398.4h1M40.4 391.5h1M58.4 381.3h1M44.6 387.6h1M60.7 385.1h1M55.3 381.0h1M57.8 401.1h1M60.2 388.1h1M61.3 398.7h1M48.4 384.4h1M75.0 405.2h1M80.3 399.1h1M55.6 397.6h1M62.0 398.5h1M74.3 405.3h1M38.5 405.8h1M42.1 390.0h1M41.7 390.3h1M66.5 405.1h1M45.5 405.6h1M57.7 381.1h1M42.8 389.3h1M58.7 402.2h1M38.5 393.6h1M55.6 397.2h1M67.3 397.7h1M80.7 403.7h1M60.5 385.9h1M65.9 405.0h1M72.7 405.3h1M58.2 401.5h1M36.8 395.8h1M59.9 388.5h1M58.5 391.6h1M56.1 381.1h1M62.6 398.4h1M38.1 405.6h1M81.8 400.1h1M58.7 391.2h1M54.6 399.4h1M55.6 397.0h1M59.7 382.8h1M40.8 391.3h1M53.0 381.9h1M54.3 399.7h1M60.2 383.9h1M58.1 400.7h1M39.8 406.3h1M46.7 405.0h1M55.7 381.2h1M55.9 396.1h1M71.6 405.3h1M54.0 399.9h1M53.4 381.8h1M45.2 405.7h1M55.2 397.8h1M58.2 400.6h1M67.3 397.8h1M55.3 381.3h1M59.8 388.5h1M58.1 381.6h1M36.4 396.7h1M70.8 405.3h1M54.8 398.7h1M59.6 399.5h1M68.2 405.2h1M58.3 381.8h1M59.6 389.1h1M41.2 391.0h1M64.8 398.1h1M59.1 399.8h1M55.9 395.9h1M58.6 401.8h1M55.2 397.4h1M80.3 399.3h1M46.1 386.6h1M47.7 385.3h1M80.6 399.4h1M46.1 405.2h1M60.8 403.4h1M45.1 387.5h1M82.4 401.6h1M59.4 402.5h1M53.2 382.0h1M59.8 383.6h1M50.3 383.5h1M61.6 398.9h1M38.4 405.6h1M58.2 382.0h1M61.7 403.8h1M54.3 399.1h1M60.1 385.0h1M59.1 389.8h1M57.6 381.8h1M75.9 404.9h1M45.2 387.5h1M59.4 389.0h1M54.7 398.3h1M76.5 398.2h1M50.7 402.2h1M55.5 396.4h1M51.0 401.9h1M59.7 387.9h1M82.2 401.5h1M59.8 387.7h1M65.5 398.1h1M59.1 389.7h1M59.9 386.7h1M59.4 402.3h1M48.3 385.0h1M59.8 384.4h1M58.7 382.6h1M59.9 386.4h1M56.0 381.7h1M82.1 401.9h1M61.3 399.0h1M35.7 399.0h1M52.5 382.6h1M37.5 404.9h1M57.3 393.0h1M55.3 396.4h1M48.9 384.7h1M59.0 383.2h1M57.9 382.3h1M35.5 400.4h1M55.8 381.9h1M54.7 397.6h1M51.8 383.0h1M59.0 400.9h1M59.2 401.7h1M58.5 390.5h1M55.4 396.0h1M55.9 382.0h1M53.2 382.5h1M39.3 393.2h1M56.7 393.7h1M60.4 399.6h1M37.1 395.8h1M56.8 382.1h1M62.2 403.8h1M41.1 391.4h1M49.0 384.8h1M60.2 399.7h1M59.2 400.6h1M52.2 400.8h1M46.6 386.6h1M52.8 382.7h1M51.1 401.7h1M60.6 399.5h1M59.6 386.6h1M55.3 382.1h1M75.0 404.9h1M56.6 382.2h1M77.9 398.7h1M53.8 398.9h1M55.1 396.3h1M56.9 393.2h1M57.4 392.3h1M64.7 404.5h1M71.8 397.9h1M81.6 402.2h1M54.7 397.2h1M43.2 389.7h1M61.8 399.2h1M62.2 399.0h1M58.6 389.7h1M51.3 383.6h1M49.6 402.7h1M47.0 386.5h1M47.4 404.2h1M63.8 404.2h1M52.2 383.2h1M59.2 387.7h1M74.4 404.9h1M59.9 400.3h1M61.1 399.5h1M49.9 384.5h1M64.7 404.4h1M57.5 382.9h1M44.6 405.6h1M79.7 399.4h1M81.6 401.8h1M55.3 395.6h1M42.8 390.2h1M56.0 394.3h1M39.2 405.7h1M58.5 389.7h1M35.7 399.8h1M57.1 392.5h1M58.8 384.3h1M43.3 389.8h1M75.6 404.7h1M80.9 400.3h1"/>
<path stroke="rgb(64, 121, 203)" stroke-width="1" d="M47.2 386.5h1M56.8 393.0h1M51.9 400.7h1M81.3 400.7h1M80.3 403.2h1M74.8 398.2h1M59.8 401.6h1M58.9 388.1h1M48.5 385.5h1M55.7 394.7h1M80.4 399.9h1M53.4 398.8h1M75.0 404.7h1M46.8 386.9h1M79.7 403.4h1M81.4 400.9h1M53.3 383.1h1M56.2 393.9h1M62.2 399.2h1M81.4 401.1h1M56.7 392.9h1M71.6 398.0h1M48.9 385.3h1M61.2 399.6h1M58.7 388.6h1M59.9 400.7h1M57.1 392.2h1M41.1 391.8h1M50.0 384.6h1M73.0 398.1h1M55.9 394.1h1M39.2 405.7h1M67.4 398.2h1M64.0 404.1h1M58.4 384.3h1M54.0 397.7h1M46.1 387.5h1M55.0 382.8h1M60.0 400.7h1M53.1 399.1h1M36.8 396.7h1M67.6 398.2h1M61.0 402.8h1M49.5 385.0h1M54.3 397.0h1M81.0 400.6h1M73.8 398.2h1M57.9 383.9h1M65.0 404.3h1M50.1 384.7h1M68.5 404.8h1M43.4 389.9h1M36.0 398.8h1M60.1 401.6h1M58.2 389.6h1M58.8 387.3h1M78.7 403.8h1M36.2 402.6h1M55.4 394.9h1M57.8 390.5h1M61.9 399.4h1M51.5 384.0h1M54.9 395.7h1M60.4 400.4h1M56.1 393.7h1M61.1 402.7h1M50.7 401.5h1M41.2 391.9h1M50.2 401.9h1M60.4 400.5h1M53.7 397.8h1M51.5 400.7h1M51.6 400.7h1M51.9 400.4h1M35.9 401.2h1M80.4 402.8h1M81.0 402.1h1M60.2 401.2h1M56.0 383.2h1M53.6 397.9h1M48.4 386.0h1M54.5 383.2h1M55.6 394.2h1M53.6 383.4h1M49.3 385.4h1M57.1 383.7h1M58.0 389.6h1M54.9 395.4h1M61.5 402.9h1M58.5 386.2h1M53.3 398.4h1M57.2 383.9h1M52.0 384.0h1M55.4 383.3h1M72.7 404.8h1M39.1 405.5h1M60.4 400.9h1M52.2 399.8h1M63.5 403.8h1M61.3 402.7h1M55.9 383.4h1M60.4 401.0h1M44.7 389.0h1M52.6 399.3h1M69.2 398.2h1M51.7 384.2h1M72.5 404.8h1M73.3 404.7h1M46.2 387.9h1M57.7 390.1h1M36.7 403.3h1M38.1 395.2h1M71.5 398.2h1M72.7 398.2h1M56.7 392.2h1M49.4 385.5h1M57.6 384.5h1M41.9 406.0h1M56.8 383.9h1M79.1 403.4h1M39.9 405.7h1M57.9 389.1h1M39.1 394.0h1M55.9 383.7h1M52.2 384.1h1M74.8 398.4h1M56.5 392.4h1M61.7 402.8h1M51.5 384.5h1M38.4 405.0h1M56.7 391.9h1M46.3 387.9h1M51.1 400.9h1M45.0 388.9h1M52.0 399.9h1M80.8 401.3h1M42.8 390.7h1M55.4 383.7h1M39.6 393.6h1M57.9 385.4h1M58.0 388.4h1M80.5 400.7h1M50.3 385.2h1M78.9 399.6h1M67.5 398.4h1M53.6 383.9h1M75.1 404.5h1M56.1 383.9h1M70.1 398.2h1M57.4 384.8h1M54.1 396.3h1M61.7 400.0h1M79.3 403.2h1M80.7 401.4h1M52.9 398.4h1M36.4 402.6h1M62.6 399.5h1M43.8 405.6h1M54.7 383.8h1M45.6 388.6h1M74.2 404.5h1M41.0 392.4h1M61.1 402.1h1M73.2 404.6h1M42.4 391.2h1M54.4 384.0h1M49.2 386.0h1M55.8 393.0h1M52.4 384.4h1M61.0 401.3h1M49.3 386.0h1M55.4 384.1h1M64.5 403.9h1M64.8 398.9h1M36.5 402.8h1M69.0 398.4h1M61.3 400.6h1M57.2 385.2h1M49.1 386.1h1M36.1 400.3h1M57.4 385.5h1M56.3 392.0h1M57.5 385.9h1M55.3 393.8h1M42.1 405.8h1M44.0 390.1h1M49.1 386.2h1M74.8 398.6h1M61.3 402.0h1M37.1 403.6h1M37.6 404.2h1M61.7 400.3h1M64.3 403.7h1M61.4 402.2h1M63.5 399.4h1M44.0 390.1h1M52.1 399.3h1M49.2 386.2h1M41.2 405.8h1M73.9 398.5h1M41.8 391.9h1M57.2 385.8h1M77.8 403.6h1M39.5 405.4h1M56.0 392.3h1M55.3 384.4h1M63.8 403.5h1M79.7 400.4h1M55.9 384.6h1M57.5 387.8h1M76.6 399.0h1M52.3 384.8h1M37.3 403.9h1M39.9 393.6h1M57.2 385.9h1M40.3 405.6h1M56.7 390.7h1M51.1 385.3h1M73.4 398.5h1M55.3 384.5h1M56.9 390.0h1M44.9 389.6h1M71.4 398.4h1M57.2 389.3h1M45.0 405.0h1M48.1 387.1h1M50.5 385.6h1M55.8 384.8h1M54.5 394.7h1M51.7 385.1h1M39.6 393.9h1M52.4 398.5h1M63.0 399.7h1M50.7 400.7h1M50.7 385.6h1M61.9 400.4h1M57.3 386.9h1M55.3 393.3h1M53.7 396.1h1M57.0 386.2h1M57.2 387.0h1M50.9 385.5h1M63.3 403.2h1M42.9 391.1h1M56.6 385.5h1M48.1 387.2h1M56.5 390.9h1M49.6 401.8h1M55.8 392.3h1M57.2 387.6h1M78.7 399.9h1M79.8 400.8h1M57.0 386.4h1M72.2 404.5h1M43.6 390.7h1M77.1 399.3h1M39.2 405.2h1M56.8 389.8h1M53.5 384.8h1M74.9 404.2h1M46.4 404.2h1M45.2 389.5h1M39.6 394.1h1M41.6 405.7h1M54.5 394.3h1M62.0 400.6h1M52.6 385.1h1M56.5 385.9h1M61.8 401.9h1M37.0 403.2h1M76.3 403.9h1M55.6 385.2h1M49.9 401.3h1M43.9 390.5h1M71.4 404.5h1M78.9 402.8h1M78.8 402.9h1M37.1 397.2h1M53.2 385.1h1M77.4 399.5h1M74.3 398.8h1M54.4 394.3h1M70.6 398.5h1M56.3 390.5h1M79.8 401.3h1M66.1 403.9h1M51.0 400.1h1M50.2 386.2h1M72.5 404.4h1M44.7 390.0h1M53.5 395.9h1M74.9 404.1h1M62.7 402.6h1M62.3 400.6h1M36.4 399.4h1M56.6 386.9h1M55.5 392.2h1M56.6 386.8h1M36.3 399.7h1M66.7 398.9h1M51.9 398.8h1M44.0 390.6h1M54.5 393.8h1M53.5 395.7h1M72.7 398.7h1M53.3 385.3h1M48.4 387.4h1M77.3 403.5h1M46.7 403.8h1M46.0 389.2h1M38.3 395.6h1M47.8 387.9h1M77.4 399.6h1M78.3 403.0h1M72.9 398.7h1M51.1 386.0h1M47.4 403.3h1M42.7 391.7h1M66.6 403.9h1M78.9 402.6h1M51.4 399.3h1M54.6 393.5h1M52.7 397.0h1M55.7 391.2h1M42.8 391.6h1M48.3 387.7h1M49.8 401.2h1M62.7 400.5h1M55.3 392.1h1M37.5 396.8h1M77.9 403.1h1M54.0 385.5h1M46.1 389.2h1M70.5 404.3h1M51.2 399.5h1M76.3 403.7h1M51.9 385.9h1M68.5 398.8h1M55.4 391.7h1M55.8 390.7h1M79.4 401.8h1M53.6 385.6h1M56.4 388.0h1M78.5 402.8h1M44.1 390.7h1M45.6 389.7h1M36.4 400.3h1M37.7 396.5h1M45.6 404.4h1M56.3 388.2h1M72.7 404.2h1M52.5 397.2h1M56.3 389.0h1M56.0 390.0h1M50.8 399.9h1M52.9 385.7h1M56.3 388.0h1M65.7 403.7h1M50.4 386.6h1M64.6 399.6h1M51.9 398.3h1M75.2 403.9h1M53.8 385.7h1M66.0 403.7h1M54.2 393.8h1M65.0 399.5h1M38.7 395.2h1M56.2 388.6h1M39.2 405.0h1M66.1 403.8h1M45.8 404.3h1M55.4 391.4h1M66.2 403.8h1M52.0 386.0h1M66.0 403.7h1M78.9 400.7h1M70.6 404.3h1M72.4 404.2h1M62.5 401.2h1M64.6 399.6h1M56.1 387.9h1M36.6 398.9h1M66.1 399.2h1M65.4 403.5h1M79.2 401.7h1M52.1 386.1h1M56.0 387.5h1M52.4 386.0h1M52.0 386.1h1M74.6 404.0h1M70.7 404.2h1M50.7 386.6h1M79.0 401.0h1M42.4 392.1h1M76.9 399.6h1M74.8 403.9h1M45.7 404.3h1M53.8 394.4h1M44.2 390.8h1M53.9 386.0h1M55.7 390.2h1M69.3 404.2h1M49.6 401.2h1M46.0 389.6h1M72.8 404.1h1M72.3 404.2h1M36.7 398.6h1M38.0 396.2h1M50.5 400.1h1M55.3 386.7h1M49.0 387.7h1M74.9 403.8h1M74.9 399.1h1M48.0 402.6h1M64.0 399.9h1M66.9 399.1h1M55.9 388.3h1M55.9 388.7h1M55.8 388.3h1M49.3 387.5h1M74.5 399.1h1M54.0 386.2h1M55.6 387.5h1M50.0 400.6h1M62.7 401.6h1M36.6 401.8h1M63.5 400.3h1M55.0 386.7h1M53.9 393.8h1M76.3 399.5h1M78.3 400.5h1M53.1 395.4h1M54.0 386.3h1M50.6 399.9h1M51.3 398.9h1M42.5 392.2h1M43.5 405.2h1M77.1 403.2h1M52.5 396.5h1M63.3 402.4h1M49.2 387.7h1M53.7 394.2h1M73.7 404.0h1M78.7 401.0h1M47.7 388.6h1M55.5 390.0h1M54.0 386.4h1M48.1 388.3h1M53.4 386.4h1M36.5 400.0h1M52.9 395.7h1M37.1 402.9h1M42.0 392.6h1M40.9 393.5h1M53.9 393.7h1M55.4 390.2h1M38.4 395.9h1M54.9 386.9h1M52.9 395.5h1M37.1 402.9h1M40.9 405.4h1M65.9 399.4h1M78.6 400.9h1M63.1 401.1h1M53.7 393.9h1M71.9 404.1h1M54.4 392.4h1M51.6 398.0h1M43.0 391.9h1M54.8 387.2h1M78.1 402.5h1M52.4 386.6h1M38.8 404.6h1M78.5 400.9h1M54.3 386.9h1M67.2 403.7h1M51.4 386.9h1M65.7 399.5h1M47.2 403.1h1M46.2 389.8h1M74.4 399.2h1M37.6 403.5h1M71.1 404.0h1M40.1 405.2h1M54.4 387.1h1M55.2 388.2h1M63.6 402.3h1"/>
<path stroke="rgb(54, 115, 199)" stroke-width="1" d="M54.6 387.3h1M53.4 386.8h1M63.9 400.4h1M49.6 400.8h1M54.4 387.2h1M47.6 389.0h1M47.9 388.8h1M47.9 388.8h1M39.2 404.8h1M52.0 386.9h1M47.6 402.7h1M45.3 390.5h1M64.4 402.8h1M48.1 388.7h1M77.8 400.5h1M69.3 399.0h1M38.3 396.1h1M51.8 397.3h1M51.1 387.3h1M53.7 387.1h1M65.2 399.8h1M71.5 399.0h1M52.3 396.4h1M63.3 401.4h1M54.5 387.7h1M54.6 387.8h1M75.3 403.5h1M53.8 387.2h1M54.4 391.6h1M54.6 390.9h1M54.9 390.0h1M54.9 388.7h1M54.2 387.6h1M49.9 387.9h1M42.0 405.3h1M77.0 402.9h1M48.3 402.0h1M45.9 390.2h1M44.8 404.5h1M50.5 399.5h1M39.5 394.9h1M37.0 398.4h1M54.0 392.3h1M47.3 402.8h1M41.5 393.2h1M52.5 395.5h1M42.6 405.3h1M71.9 399.1h1M53.9 392.4h1M54.7 389.1h1M54.3 387.9h1M53.6 387.4h1M78.2 401.5h1M69.7 399.1h1M48.1 389.0h1M48.9 388.6h1M77.4 400.4h1M66.2 399.6h1M54.6 388.8h1M49.2 401.0h1M43.2 392.1h1M69.0 403.8h1M63.6 401.6h1M54.2 388.1h1M48.8 388.7h1M52.7 394.9h1M46.2 390.2h1M66.7 399.5h1M54.0 388.0h1M71.9 399.1h1M67.8 403.6h1M75.5 399.7h1M54.4 388.6h1M53.5 387.6h1M37.1 398.2h1M77.6 402.3h1M53.8 392.4h1M52.9 394.4h1M76.7 400.1h1M38.2 396.4h1M47.6 389.4h1M52.2 387.5h1M47.9 389.2h1M45.1 391.0h1M76.0 399.8h1M52.4 395.5h1M67.6 403.6h1M70.5 403.8h1M39.4 395.1h1M73.8 399.4h1M65.3 400.0h1M70.8 403.8h1M52.3 387.6h1M43.6 405.0h1M63.8 401.5h1M53.3 387.8h1M52.3 395.5h1M65.6 399.9h1M53.0 387.7h1M47.9 389.3h1M52.2 395.8h1M69.5 403.8h1M63.9 401.5h1M42.2 405.2h1M64.3 400.6h1M54.0 388.4h1M64.5 400.5h1M52.9 394.2h1M53.4 388.0h1M47.7 389.5h1M47.4 389.7h1M69.7 403.8h1M48.9 401.2h1M37.8 397.0h1M54.2 389.4h1M64.8 400.3h1M76.8 400.3h1M54.2 389.8h1M70.4 399.2h1M53.5 388.1h1M64.0 401.5h1M52.0 396.1h1M53.6 388.3h1M77.7 401.1h1M49.8 400.1h1M54.1 389.7h1M43.7 391.9h1M51.8 396.5h1M52.0 387.9h1M67.4 399.5h1M50.4 399.1h1M53.4 388.3h1M53.1 388.2h1M52.8 388.1h1M53.3 388.3h1M52.2 395.4h1M70.4 399.3h1M66.9 403.3h1M53.9 389.7h1M53.4 392.4h1M48.7 401.2h1M53.5 388.7h1M53.5 388.7h1M53.9 390.0h1M51.2 388.2h1M74.6 403.4h1M51.1 388.2h1M77.4 402.1h1M74.6 403.4h1M52.3 388.2h1M52.4 394.6h1M74.0 403.5h1M47.3 402.6h1M51.1 388.4h1M48.2 401.7h1M41.1 393.8h1M47.9 389.7h1M51.3 397.2h1M52.5 388.4h1M53.6 389.7h1M76.7 402.5h1M65.1 402.5h1M69.4 399.4h1M49.5 400.3h1M50.4 398.9h1M53.5 391.3h1M48.9 401.0h1M64.4 401.6h1M74.0 403.4h1M51.7 388.4h1M71.1 399.3h1M49.3 389.1h1M71.9 399.4h1M50.5 388.7h1M76.1 402.8h1M69.0 399.4h1M52.3 394.6h1M74.3 403.3h1M72.5 403.6h1M65.3 402.5h1M64.5 401.3h1M77.4 401.6h1M43.7 392.1h1M66.3 403.0h1M44.4 404.5h1M51.1 388.6h1M49.6 389.0h1M49.2 389.2h1M41.0 405.1h1M48.5 389.5h1M37.9 397.1h1M53.4 389.8h1M51.5 388.6h1M46.5 403.1h1M51.3 396.8h1M52.7 393.3h1M75.9 400.2h1M43.3 392.5h1M52.5 388.8h1M77.3 401.5h1M64.8 400.9h1M43.3 392.5h1M51.2 388.7h1M76.5 400.5h1M67.5 403.2h1M72.9 403.5h1M76.4 400.5h1M64.7 401.7h1M53.2 391.0h1M73.2 399.6h1M52.1 388.9h1M70.6 403.5h1M70.7 403.5h1M67.8 403.2h1M50.8 388.9h1M74.1 403.3h1M36.9 401.0h1M41.4 393.8h1M49.9 389.2h1M53.1 390.4h1M52.9 392.3h1M66.5 402.9h1M73.0 399.6h1M46.5 390.7h1M64.8 401.5h1M36.9 400.6h1M77.0 401.5h1M65.9 400.3h1M72.1 403.5h1M52.6 389.4h1M66.3 400.2h1M52.2 389.2h1M53.0 390.8h1M50.8 397.7h1M52.6 389.6h1M38.0 397.0h1M68.5 399.7h1M69.6 403.4h1M38.3 396.6h1M52.3 389.4h1M73.5 399.7h1M51.9 394.8h1M76.7 401.0h1M50.4 389.3h1M52.8 391.1h1M47.3 390.5h1M50.4 398.4h1M76.7 401.9h1M51.5 395.7h1M44.2 392.1h1M52.7 391.8h1M51.9 389.5h1M52.6 392.0h1M50.2 398.7h1M47.0 390.7h1M52.6 390.5h1M52.0 389.6h1M50.3 398.4h1M51.8 389.6h1M76.4 400.9h1M46.3 403.2h1M49.7 389.6h1M52.5 392.4h1M52.4 390.1h1M68.4 399.8h1M76.3 402.2h1M73.2 403.2h1M74.8 402.9h1M51.5 395.4h1M52.3 390.3h1M42.3 393.4h1M74.8 400.1h1M66.7 402.7h1M72.7 403.3h1M76.3 402.1h1M51.2 396.1h1M67.5 400.0h1M43.8 392.4h1M45.9 391.4h1M74.2 403.0h1M65.5 401.9h1M50.0 389.8h1M46.5 391.1h1M51.7 394.7h1M67.8 399.9h1M52.2 390.5h1M52.2 392.6h1M66.9 400.2h1M75.7 400.6h1M67.9 399.9h1M41.1 394.2h1M50.7 389.8h1M50.0 398.9h1M71.0 403.3h1M52.2 392.3h1M70.5 403.3h1M65.5 401.2h1M47.9 390.5h1M65.6 401.9h1M73.3 399.8h1M51.9 393.5h1M69.0 399.8h1M44.6 404.2h1M52.2 391.0h1M51.6 390.1h1M66.2 400.6h1M65.5 401.1h1M37.0 400.3h1M49.2 400.0h1M50.0 389.9h1M46.6 391.1h1M52.1 392.8h1M66.7 402.6h1M38.2 396.9h1M76.3 401.4h1M73.1 403.1h1M37.2 401.8h1M43.7 392.7h1M52.1 391.7h1M51.5 390.3h1M73.6 400.0h1M47.7 390.7h1M73.4 399.9h1M68.4 399.9h1M51.2 395.6h1M50.7 390.1h1M51.3 395.3h1M43.0 393.1h1M67.0 400.3h1M48.7 400.6h1M51.7 390.6h1M37.8 403.0h1M38.0 403.2h1M71.6 399.8h1M49.5 399.4h1M75.3 400.5h1M51.7 393.7h1M51.4 390.5h1M49.8 390.2h1M72.6 399.9h1M47.7 401.7h1M48.9 390.4h1M72.9 403.1h1M38.6 396.5h1M71.5 403.2h1M50.1 398.3h1M72.2 403.1h1M68.0 402.9h1M37.7 397.8h1M49.9 390.4h1M72.4 403.1h1M65.9 401.6h1M45.9 391.6h1M37.2 399.2h1M67.3 400.3h1M48.6 400.6h1M74.4 400.3h1M51.6 391.3h1M65.9 401.7h1M51.7 392.5h1M66.5 402.2h1M50.6 390.5h1M37.1 400.5h1M66.5 402.2h1M47.5 391.1h1M48.0 390.9h1M68.1 400.1h1M45.9 391.7h1M47.9 390.9h1M73.5 400.1h1M49.3 390.6h1M51.5 393.5h1M75.0 400.6h1M50.2 397.9h1M66.0 401.4h1M69.0 400.0h1M44.2 392.6h1M75.8 401.7h1M66.7 402.3h1M46.3 391.6h1M66.1 401.7h1M66.4 400.9h1M49.9 390.7h1M50.9 391.0h1M73.6 400.2h1M66.3 401.7h1M75.6 401.2h1M51.2 391.5h1M75.6 401.6h1M43.3 393.1h1M66.7 402.1h1M51.3 392.3h1M66.4 401.7h1M50.5 391.0h1M42.3 404.8h1M75.0 402.2h1M74.6 400.6h1M70.7 400.0h1M48.3 391.1h1M50.6 391.2h1M49.7 390.9h1M42.3 393.7h1M51.1 391.8h1M50.9 395.1h1M67.0 402.2h1M73.4 402.7h1M40.1 395.3h1M51.1 394.3h1M51.0 394.7h1M72.3 400.1h1M50.7 391.5h1M70.8 403.0h1M75.4 401.6h1M45.5 392.1h1M50.5 391.3h1M66.9 400.9h1M47.8 401.2h1M43.9 392.9h1M69.4 402.8h1M72.8 400.2h1M51.0 392.5h1M67.0 400.9h1M46.5 402.6h1M74.0 402.5h1M37.2 401.3h1M69.4 402.8h1M40.4 395.1h1M49.9 398.0h1M68.1 400.5h1M69.7 400.1h1M38.5 396.9h1M50.8 395.0h1M46.5 391.8h1M74.1 402.4h1M50.6 391.8h1M48.7 391.3h1M38.9 403.9h1M51.0 393.7h1M44.9 403.8h1M42.2 393.9h1M50.0 397.8h1M67.3 402.1h1M49.2 391.3h1M50.7 392.2h1M50.2 397.0h1M69.2 400.3h1M50.6 392.3h1M50.9 393.3h1M42.7 404.7h1M69.4 402.7h1M45.1 403.7h1M67.5 402.1h1M49.6 391.6h1M50.7 394.7h1M68.0 402.3h1M50.0 391.8h1M48.7 391.6h1M49.1 391.6h1M71.2 400.2h1M37.8 402.6h1M48.9 399.6h1M49.7 398.1h1M69.1 400.4h1M71.1 402.7h1M37.5 402.0h1M69.5 402.6h1M70.0 400.3h1M71.0 400.3h1M45.8 392.3h1M74.4 401.1h1M72.0 400.3h1M50.5 395.1h1M68.8 400.5h1M48.8 391.7h1M45.7 392.4h1M46.7 392.0h1M73.4 402.3h1M73.9 402.2h1M47.0 392.0h1M50.4 395.5h1M44.4 392.9h1M50.5 394.8h1"/>
<path stroke="rgb(50, 122, 195)" stroke-width="1" d="M68.2 400.8h1M68.9 400.6h1M69.4 400.5h1M40.8 404.6h1M45.5 392.5h1M73.8 400.9h1M49.2 391.9h1M69.7 400.5h1M73.7 402.1h1M38.1 397.5h1M69.2 400.6h1M50.4 394.5h1M72.6 402.4h1M74.0 401.1h1M39.7 404.3h1M46.9 402.0h1M50.1 396.2h1M49.6 398.0h1M70.8 400.4h1M50.3 393.5h1M37.3 399.7h1M45.2 392.7h1M49.8 397.4h1M50.2 395.7h1M38.0 402.7h1M49.9 397.1h1M45.2 403.5h1M50.3 393.6h1M74.0 401.4h1M74.1 401.5h1M49.2 392.1h1M71.0 402.5h1M72.7 400.7h1M49.9 392.8h1M68.0 401.4h1M70.7 402.5h1M50.0 396.3h1M71.2 402.5h1M73.4 402.0h1M69.6 402.3h1M48.1 400.5h1M72.7 400.7h1M50.1 395.6h1M68.2 401.3h1M44.6 393.0h1M73.3 402.0h1M68.5 402.0h1M47.4 392.2h1M38.8 403.7h1M50.2 394.3h1M69.4 402.2h1M48.7 392.2h1M46.3 392.5h1M68.3 401.3h1M49.4 398.1h1M73.5 401.8h1M47.7 400.9h1M70.0 402.3h1M50.0 393.7h1M69.3 402.2h1M72.6 400.8h1M69.8 400.7h1M69.9 400.7h1M39.6 396.0h1M49.9 393.3h1M46.6 402.1h1M72.3 402.2h1M42.4 394.2h1M49.2 398.6h1M47.0 401.8h1M70.9 400.7h1M71.4 402.3h1M37.8 402.3h1M50.0 395.2h1M71.2 402.2h1M50.0 394.6h1M70.8 402.2h1M49.9 396.2h1M49.8 396.5h1M45.5 403.2h1M68.8 401.5h1M71.7 402.2h1M69.4 401.0h1M47.5 401.1h1M73.0 401.3h1M69.4 401.1h1M70.5 402.1h1M49.0 398.7h1M71.7 402.1h1M47.3 392.5h1M69.9 401.0h1M71.0 400.9h1M47.8 392.5h1M48.7 399.3h1M70.6 400.9h1M38.0 397.9h1M44.3 403.9h1M40.3 395.6h1M69.8 401.9h1M37.4 400.7h1M49.8 395.3h1M72.5 401.5h1M48.2 392.6h1M48.2 392.6h1M72.4 401.4h1M45.9 402.8h1M69.8 401.2h1M37.4 400.9h1M72.4 401.5h1M72.3 401.5h1M71.5 401.1h1M37.5 401.2h1M43.8 393.6h1M71.4 401.1h1M49.3 393.3h1M70.3 401.7h1M38.8 396.9h1M47.4 401.0h1M71.7 401.6h1M37.5 399.5h1M43.3 404.3h1M47.0 401.5h1M49.7 395.0h1M42.4 394.4h1M49.0 398.2h1M49.3 393.9h1M48.3 393.0h1M48.7 393.2h1M42.6 394.4h1M44.3 393.6h1M47.1 401.3h1M49.4 396.5h1M49.0 393.7h1M37.7 399.1h1M48.2 393.2h1M49.2 394.3h1M49.3 395.6h1M49.3 395.2h1M47.9 393.3h1M49.1 397.0h1M49.0 397.4h1M40.5 404.3h1M41.4 404.5h1M47.3 400.8h1M38.5 397.5h1M38.6 397.4h1M49.1 394.8h1M42.0 394.8h1M47.5 393.3h1M46.5 393.3h1M39.5 403.9h1M48.9 397.4h1M49.0 396.9h1M38.1 402.5h1M38.2 398.1h1M48.6 394.0h1M42.5 394.6h1M49.0 394.8h1M48.4 393.9h1M49.0 396.2h1M46.6 401.6h1M47.4 400.6h1M45.1 403.1h1M40.5 395.8h1M44.4 393.9h1M45.1 393.7h1M46.9 401.2h1M48.7 394.6h1M47.5 393.7h1M39.2 403.6h1M45.2 403.0h1M42.1 394.9h1M45.4 402.8h1M47.8 393.8h1M42.4 394.8h1M44.0 394.1h1M46.7 393.6h1M47.9 399.6h1M45.1 393.8h1M39.0 397.0h1M40.8 404.3h1M47.8 394.0h1M41.0 395.5h1M42.7 394.7h1M43.7 394.3h1M45.4 393.8h1M44.0 394.2h1M39.3 403.6h1M43.0 394.6h1M48.7 396.8h1M48.7 396.2h1M45.5 402.7h1M48.7 396.0h1M44.0 403.8h1M45.9 393.8h1M48.6 397.4h1M48.6 395.8h1M44.4 403.5h1M47.7 394.2h1M46.1 393.9h1M39.4 396.8h1M46.1 402.0h1M48.6 396.5h1M48.4 398.0h1M48.3 395.0h1M41.3 404.3h1M46.6 393.9h1M48.4 397.7h1M42.2 395.0h1M45.8 394.0h1M47.1 400.5h1M46.0 402.1h1M42.3 404.3h1M46.4 394.0h1M48.5 396.9h1M41.5 395.4h1M39.8 396.4h1M44.4 403.4h1M45.8 394.1h1M45.3 394.1h1M44.9 403.1h1M41.5 395.4h1M48.0 398.5h1M47.7 399.4h1M46.0 394.1h1M45.9 402.1h1M48.3 395.8h1M48.4 396.7h1M47.4 400.0h1M44.0 394.5h1M44.2 403.5h1M48.1 395.5h1M47.2 394.4h1M40.9 404.2h1M45.8 394.2h1M37.8 401.2h1M47.3 400.0h1M43.2 394.8h1M47.7 394.8h1M45.6 402.4h1M39.4 396.9h1M48.1 395.7h1M42.0 395.3h1M47.7 395.0h1M45.5 394.3h1M48.1 397.6h1M47.1 394.6h1M40.9 395.9h1M38.0 401.5h1M48.1 396.8h1M47.5 399.5h1M45.6 394.4h1M42.5 395.2h1M47.7 395.4h1M46.8 394.6h1M42.3 395.3h1M47.6 399.0h1M41.8 395.4h1M46.9 394.7h1M37.8 400.6h1M48.0 396.8h1M45.1 402.8h1M47.8 398.2h1M39.2 403.3h1M47.4 399.4h1M47.6 395.5h1M47.9 396.0h1"/>
<path stroke="rgb(46, 129, 191)" stroke-width="1" d="M47.9 396.1h1M43.8 394.8h1M38.7 397.9h1M46.9 394.9h1M46.4 394.7h1M47.2 395.1h1M45.9 401.9h1M45.5 402.4h1M45.6 402.2h1M44.7 394.7h1M41.1 395.9h1M40.4 396.3h1M39.3 397.2h1M40.7 404.0h1M45.5 394.7h1M43.2 403.8h1M45.6 402.2h1M39.7 403.6h1M47.1 395.3h1M44.9 394.8h1M40.6 396.1h1M44.9 402.8h1M45.9 394.8h1M47.4 399.1h1M47.5 396.0h1M47.7 397.9h1M43.9 403.5h1M47.5 398.4h1M43.2 395.2h1M38.2 401.7h1M40.6 403.9h1M41.6 404.1h1M40.7 396.1h1M43.0 395.2h1M47.5 396.4h1M47.3 399.1h1M45.2 394.9h1M46.5 395.2h1M47.6 397.7h1M44.7 394.9h1M47.1 395.7h1M47.1 395.7h1M41.6 395.7h1M44.4 395.0h1M45.6 395.0h1M41.9 395.7h1M47.1 399.4h1M44.9 395.0h1M44.5 395.0h1M47.5 396.7h1M47.4 398.4h1M46.6 400.6h1M46.9 395.6h1M39.6 396.9h1M44.1 395.1h1M45.9 401.6h1M47.3 398.8h1M45.9 395.1h1M41.1 396.0h1M47.3 398.5h1M47.4 396.9h1M45.8 395.2h1M47.1 396.1h1M46.2 395.4h1M43.0 403.8h1M41.8 404.0h1M41.5 395.9h1M45.9 401.5h1M46.8 395.9h1M44.9 402.6h1M42.0 395.8h1M46.4 400.6h1M38.9 402.7h1M46.5 400.3h1M46.4 400.6h1M44.8 395.3h1M45.4 402.1h1M42.0 403.9h1M38.5 402.1h1M45.4 395.4h1M40.3 403.7h1M47.1 397.5h1M46.6 400.1h1M46.8 399.6h1M38.2 401.5h1M43.8 403.3h1M46.9 396.6h1M38.2 399.3h1M46.0 395.8h1M46.4 400.2h1M45.2 395.6h1M42.1 395.9h1M47.0 397.8h1M45.3 395.6h1M42.3 403.8h1M46.9 397.8h1M45.4 395.7h1M39.4 403.0h1M40.4 396.7h1M46.8 397.5h1M46.7 397.3h1M46.5 399.7h1M39.7 403.2h1M39.9 397.1h1M41.2 396.3h1M46.6 399.3h1M38.8 398.4h1M42.1 403.8h1M46.5 399.4h1M46.5 397.2h1M41.7 396.2h1M43.0 403.6h1M38.7 398.5h1M41.0 396.5h1M42.7 403.6h1M41.5 396.3h1M46.1 396.8h1M44.8 402.3h1M46.4 397.5h1M38.7 402.1h1M44.5 395.9h1M46.2 397.0h1M39.5 397.5h1M46.5 398.5h1M46.4 397.5h1M43.9 395.9h1M39.7 397.4h1M46.5 398.5h1M39.8 403.2h1M42.4 396.1h1M46.4 398.1h1M38.5 399.2h1M46.3 397.5h1M46.2 399.7h1M43.9 396.0h1M39.1 398.0h1M42.9 403.5h1M40.1 397.1h1M41.2 396.5h1M46.2 397.3h1M46.3 397.9h1M43.9 403.0h1M46.0 400.4h1M45.9 397.0h1M45.8 396.9h1M45.6 396.7h1M44.6 402.4h1M41.2 403.6h1M40.8 396.7h1M38.4 399.8h1M45.2 396.6h1M38.4 400.3h1M38.5 401.1h1M43.1 403.3h1M46.1 397.8h1M42.1 396.3h1M46.0 397.4h1"/>
<path stroke="rgb(42, 136, 187)" stroke-width="1" d="M45.8 400.2h1M44.8 396.6h1M44.3 402.5h1M45.2 396.8h1M45.4 401.2h1M45.4 401.2h1M39.4 398.0h1M45.9 398.0h1M46.0 398.7h1M39.1 398.4h1M40.9 403.4h1M43.4 403.1h1M45.9 399.8h1M40.1 397.3h1M45.5 397.3h1M45.1 401.6h1M43.5 396.4h1M38.5 400.3h1M40.9 403.4h1M44.2 396.5h1M42.9 403.3h1M45.5 397.5h1M45.9 398.7h1M45.5 397.5h1M43.0 403.2h1M45.1 401.4h1M45.7 398.0h1M42.9 396.5h1M44.5 402.2h1M39.2 402.2h1M38.7 399.5h1M39.1 398.6h1M45.4 400.7h1M44.1 402.5h1M38.9 401.7h1M45.7 399.4h1M44.1 396.7h1M38.6 400.5h1M41.9 396.7h1M44.5 397.0h1M45.7 399.3h1M43.6 402.8h1M45.5 398.2h1M41.1 397.0h1M43.7 402.7h1M45.6 399.2h1M40.0 397.7h1M44.6 401.9h1M40.2 397.5h1M44.4 402.1h1M45.5 400.0h1M45.6 399.5h1M42.6 396.7h1M45.4 398.1h1M45.6 399.3h1M43.1 403.0h1M39.0 399.0h1M44.4 402.1h1M45.0 397.6h1M45.1 397.7h1M45.5 398.8h1M45.0 401.3h1M43.2 396.8h1M42.7 396.8h1M38.8 399.8h1M42.8 396.8h1M40.0 402.7h1M39.4 398.5h1M38.9 399.4h1M45.0 401.0h1M40.9 397.2h1M39.9 397.9h1M44.4 401.9h1M39.0 401.5h1M42.5 396.9h1M39.7 398.1h1M44.8 397.8h1M38.9 399.6h1M45.1 400.6h1M44.5 397.6h1M43.4 397.0h1M40.5 402.9h1M40.6 403.0h1M42.6 396.9h1M43.5 402.6h1M44.3 402.0h1M44.7 397.9h1M39.8 398.1h1M43.1 402.8h1M41.4 397.2h1M39.1 401.5h1M39.7 402.4h1M44.1 397.4h1M43.5 402.6h1M44.6 397.8h1M44.4 397.6h1M44.8 398.1h1M44.8 401.1h1M39.0 399.5h1M39.2 399.1h1M40.3 397.8h1"/>
<path stroke="rgb(37, 144, 175)" stroke-width="1" d="M43.8 402.3h1M44.9 398.4h1M40.2 397.9h1M43.7 397.3h1M45.1 400.1h1M44.9 400.7h1M39.0 399.6h1M39.0 399.8h1M39.5 398.6h1M40.4 402.8h1M42.8 397.1h1M43.7 402.3h1M39.2 401.4h1M43.2 402.7h1M39.1 399.5h1M39.4 401.9h1M42.6 397.2h1M42.4 402.9h1M40.8 397.6h1M44.3 401.6h1M39.9 398.3h1M39.0 400.3h1M39.3 399.3h1M39.0 400.5h1M39.5 401.8h1M40.1 402.5h1M39.3 399.2h1M39.5 401.9h1M42.7 397.3h1M44.7 400.8h1M41.7 397.3h1M39.8 398.4h1M41.7 403.0h1M44.9 399.3h1M44.9 399.8h1M44.2 398.0h1M44.6 400.9h1M44.5 401.0h1M43.7 397.6h1M44.6 400.9h1M39.1 400.0h1M44.8 399.3h1M44.8 399.6h1M39.2 400.6h1M39.2 400.9h1M43.1 402.5h1M42.7 402.7h1M42.5 402.8h1M40.2 402.4h1M43.0 402.5h1M42.8 397.5h1M44.3 398.3h1M44.3 401.3h1M39.2 399.9h1M41.3 402.8h1M44.7 400.2h1M39.2 400.3h1M40.4 398.1h1M40.9 402.7h1M40.1 398.3h1M44.5 400.6h1M39.3 400.0h1M43.5 402.1h1M44.7 399.9h1M40.4 402.4h1M44.3 398.5h1M44.5 400.7h1M39.2 400.4h1M44.5 398.9h1M39.6 401.6h1M42.9 397.6h1M39.3 400.0h1M42.9 397.6h1M40.6 402.5h1M42.5 397.6h1M44.6 399.6h1M40.4 398.2h1M44.5 399.2h1M41.6 402.7h1M39.3 400.7h1M44.0 398.4h1M40.0 398.7h1M42.8 397.7h1M44.5 399.3h1M39.3 400.5h1M40.8 398.0h1M41.9 402.7h1M39.6 401.3h1M40.2 398.5h1M39.8 399.0h1M43.0 402.3h1M39.5 399.6h1M43.1 402.2h1M43.4 398.0h1M43.9 398.4h1M40.7 398.2h1M40.2 398.5h1M40.9 398.1h1M41.6 402.6h1M40.8 402.4h1M39.8 401.5h1M41.3 398.0h1"/>
<path stroke="rgb(33, 152, 156)" stroke-width="1" d="M43.1 398.0h1M39.7 401.2h1M44.3 399.6h1M42.5 402.4h1M41.2 402.5h1M39.9 399.0h1M40.8 398.2h1M43.6 398.4h1M41.6 397.9h1M41.0 402.3h1M40.0 399.1h1M44.1 399.5h1M43.5 401.6h1M40.6 402.1h1M43.4 401.7h1M43.7 398.7h1M40.6 398.5h1M43.2 398.3h1M42.3 402.3h1M43.4 398.4h1M39.9 401.4h1M43.0 401.9h1M43.0 402.0h1M43.9 399.2h1M41.9 398.1h1M40.7 402.1h1M41.7 402.3h1M43.7 398.8h1M39.7 400.5h1M42.2 402.3h1M42.0 398.1h1M42.5 402.2h1M43.9 400.7h1M41.2 402.2h1M43.4 398.7h1M41.7 398.2h1M40.1 401.4h1M40.4 401.8h1M41.3 398.3h1M42.2 398.2h1M39.9 399.7h1M39.8 400.1h1M40.7 398.6h1M41.1 398.4h1M42.8 401.9h1M43.5 401.2h1M41.1 402.1h1M40.7 398.7h1M39.9 400.1h1M43.4 401.2h1M39.9 400.7h1M43.1 401.6h1M42.5 398.4h1M42.2 402.1h1M41.1 398.5h1M43.8 399.9h1M42.2 402.1h1M43.6 400.9h1M39.9 400.6h1M43.4 401.1h1M43.0 401.6h1M43.4 399.1h1M43.5 400.9h1M41.7 402.1h1M40.0 400.0h1M41.7 402.1h1M40.2 401.1h1M43.7 400.4h1M42.0 402.0h1M43.3 401.2h1M40.9 401.8h1M43.0 401.5h1M43.0 401.5h1M43.4 400.9h1M41.7 402.0h1M42.6 398.6h1M42.6 398.6h1M42.2 398.5h1M40.8 401.7h1M43.2 399.0h1M43.4 400.9h1M40.3 401.1h1M43.0 401.4h1M43.5 400.2h1M41.9 398.5h1"/>
<path stroke="rgb(30, 160, 137)" stroke-width="1" d="M41.5 401.9h1M43.5 400.2h1M40.6 401.5h1M42.1 398.6h1M40.3 399.6h1M43.4 400.5h1M41.4 398.7h1M41.0 398.9h1M40.5 399.4h1M41.9 398.6h1M40.6 401.4h1M41.4 398.7h1M42.4 398.7h1M41.5 401.8h1M40.4 399.5h1M41.2 401.8h1M42.4 398.7h1M40.9 399.0h1M41.6 401.8h1M43.4 400.1h1M40.3 400.0h1M43.3 399.7h1M41.5 401.8h1M43.2 399.6h1M40.7 399.3h1M42.9 401.3h1M40.4 400.9h1M40.4 401.0h1M43.1 399.4h1M42.9 399.1h1M40.6 399.5h1M42.5 401.5h1M43.2 399.6h1M41.3 398.9h1M43.2 400.5h1M43.3 400.2h1M40.4 400.0h1M43.1 400.9h1M40.6 399.4h1M41.7 398.8h1M42.4 401.5h1M40.9 401.5h1M40.5 401.0h1M42.7 401.3h1M43.2 399.9h1M43.2 399.8h1M43.1 399.6h1M41.6 398.9h1M43.2 399.9h1M41.7 401.6h1M40.5 400.8h1M42.0 401.6h1M42.0 398.9h1M42.7 399.2h1M42.4 399.0h1M42.9 401.0h1M41.0 399.2h1M41.8 401.6h1M42.0 401.5h1M40.8 401.1h1M42.1 399.0h1M42.4 399.1h1M42.0 399.0h1M42.8 399.5h1M40.9 401.2h1M43.0 400.0h1M43.0 400.2h1M41.0 399.4h1M43.0 400.1h1M41.5 399.1h1M42.9 399.7h1M40.6 400.1h1M42.9 400.3h1M42.9 399.8h1M40.9 399.6h1M42.0 399.2h1M41.2 401.2h1M42.9 400.4h1M41.8 399.2h1M40.7 400.3h1M42.9 400.2h1M41.6 399.2h1M42.8 400.0h1M40.8 400.7h1M42.6 399.6h1M41.6 399.3h1M42.1 399.3h1M42.1 401.2h1M41.0 399.7h1M41.2 399.5h1M41.2 401.2h1M42.7 400.5h1M42.1 399.3h1M41.5 401.2h1M41.2 401.1h1M42.7 400.4h1M40.9 400.8h1M41.9 401.2h1M42.7 400.1h1M42.6 399.9h1M42.2 401.0h1M42.5 399.7h1M42.6 400.1h1M41.5 399.5h1M41.2 400.9h1M42.6 400.2h1M41.7 399.5h1M41.0 400.6h1M41.0 400.5h1M42.5 400.1h1M41.2 400.8h1M41.1 400.5h1M42.0 399.6h1M42.1 400.9h1"/>
<path stroke="rgb(39, 166, 107)" stroke-width="1" d="M42.2 400.8h1M41.1 400.2h1M42.2 399.7h1M41.3 400.8h1M42.1 400.8h1M41.3 399.8h1M42.2 399.8h1M41.3 399.9h1M41.2 400.5h1M42.3 400.4h1M42.3 400.2h1M41.9 400.8h1M41.3 400.2h1M41.9 399.8h1M41.3 400.3h1M41.4 400.5h1M41.4 400.1h1M41.9 400.6h1M42.0 400.5h1M41.7 400.1h1"/>
</g>
<ellipse cx="41" cy="399.7" rx="13.5" ry="12.5" fill="url(#g8)" transform="rotate(0 41 399.7)"/>
</g>
<rect x="23.6" y="342" width="14.5" height="16.5" fill="#fff"/>
<rect x="23.6" y="396.5" width="14.5" height="20.5" fill="#fff"/>
<rect x="85" y="342" width="16.8" height="16.5" fill="#fff"/>
<rect x="84" y="396.5" width="17.8" height="20.5" fill="#fff"/>
<text x="24.3" y="403.2" font-size="7.4" fill="#1e1e1e" >Q4</text>
<text x="24.3" y="412.9" font-size="7.4" fill="#1e1e1e" >81.1</text>
<text x="24.3" y="347.7" font-size="7.4" fill="#1e1e1e" >Q1</text>
<text x="24.3" y="357.4" font-size="7.4" fill="#1e1e1e" >0.76</text>
<text x="101" y="347.7" font-size="7.4" fill="#1e1e1e" text-anchor="end" >Q2</text>
<text x="101" y="357.4" font-size="7.4" fill="#1e1e1e" text-anchor="end" >4.52</text>
<text x="99.8" y="403.2" font-size="7.4" fill="#1e1e1e" text-anchor="end" >Q3</text>
<text x="99.8" y="412.9" font-size="7.4" fill="#1e1e1e" text-anchor="end" >13.6</text>
<line x1="57.1" y1="338.4" x2="57.1" y2="417.5" stroke="#1a1a1a" stroke-width="1.0"/>
<line x1="23.1" y1="373.6" x2="102.4" y2="373.6" stroke="#1a1a1a" stroke-width="1.0"/>
<rect x="23.1" y="338.4" width="79.3" height="79.1" fill="none" stroke="#1a1a1a" stroke-width="1.1"/>
<text x="62.4" y="334.3" font-size="8.6" fill="#3f66a3" text-anchor="middle" >Control</text>
<g clip-path="url(#fi)" opacity="1.0">
<g filter="url(#bffi)">
<path stroke="rgb(131, 165, 223)" stroke-width="1" d="M88.5 469.1h1M84.1 469.5h1M55.5 434.2h1M83.2 480.8h1M83.1 482.8h1M23.3 439.6h1M79.0 454.6h1M39.1 436.4h1M34.7 436.5h1M39.6 437.2h1M78.3 468.1h1M49.5 509.7h1M25.7 503.3h1M37.2 506.6h1M80.5 493.7h1M76.1 466.7h1M59.1 507.5h1M74.8 451.9h1M60.7 506.8h1M75.0 463.7h1M48.0 442.2h1M40.2 503.9h1M79.0 488.7h1M53.4 506.6h1M37.4 503.0h1M78.6 493.2h1M35.3 503.2h1M68.8 503.8h1M45.7 444.1h1M75.2 483.0h1M76.1 485.3h1M65.2 443.3h1M72.4 480.5h1M73.2 467.2h1M42.0 444.5h1M52.8 442.6h1M72.1 449.9h1M56.4 504.9h1M45.7 502.1h1M71.4 449.2h1M26.6 445.5h1M25.5 446.7h1M24.6 498.8h1M67.3 502.9h1M49.6 503.3h1M23.7 478.8h1M76.8 491.0h1M37.4 443.3h1M69.8 447.5h1M34.3 443.0h1M52.1 503.7h1M34.9 501.2h1M70.3 476.6h1M73.1 483.7h1M45.6 446.5h1M37.4 443.8h1M38.1 500.1h1M24.5 476.3h1M59.1 442.8h1M46.3 501.1h1M50.3 502.7h1M71.7 451.5h1M71.3 464.2h1M40.1 499.1h1M71.1 482.0h1"/>
<path stroke="rgb(115, 155, 220)" stroke-width="1" d="M71.2 471.5h1M75.9 491.1h1M48.3 445.6h1M70.4 474.2h1M37.4 499.9h1M25.1 478.9h1M74.7 495.5h1M23.8 481.1h1M30.4 444.8h1M69.0 477.7h1M25.5 477.3h1M41.6 498.4h1M70.7 499.9h1M64.9 444.7h1M69.6 481.0h1M24.1 480.9h1M50.4 502.3h1M65.9 445.3h1M22.7 470.5h1M70.7 463.7h1M70.8 465.1h1M25.9 477.3h1M40.5 498.0h1M37.5 445.2h1M54.5 443.8h1M72.1 484.4h1M37.6 499.1h1M48.7 446.2h1M53.2 502.5h1M62.4 444.2h1M71.3 453.2h1M63.4 502.5h1M65.6 445.6h1M23.0 454.8h1M74.8 491.9h1M67.0 446.7h1M46.8 447.8h1M53.3 444.4h1M32.9 499.9h1M69.7 471.0h1M43.9 497.0h1M63.9 502.0h1M69.3 472.3h1M26.5 449.5h1M53.4 444.6h1M23.0 456.7h1M37.4 446.3h1M62.4 444.7h1M43.5 449.8h1M69.7 460.8h1M24.3 482.6h1M24.9 452.1h1M56.5 444.2h1M71.8 497.0h1M27.8 476.2h1M66.4 446.8h1M66.1 478.3h1M25.8 451.0h1M73.7 489.5h1M69.4 468.8h1M24.1 469.9h1M69.3 469.8h1M69.2 465.9h1M24.6 453.1h1M24.1 483.3h1M66.9 481.4h1M42.4 449.9h1M73.7 491.4h1M70.5 454.0h1M43.3 480.8h1M30.1 499.2h1M68.9 464.5h1M35.2 499.0h1M43.4 450.4h1M42.3 480.0h1M44.1 481.7h1M44.8 480.9h1M42.0 479.8h1M73.6 491.0h1M41.8 480.0h1M67.4 482.1h1M44.1 495.8h1M44.6 450.6h1M73.5 492.5h1M44.6 496.2h1M41.3 480.3h1M70.3 456.4h1M70.3 454.1h1M28.9 478.5h1M26.9 497.7h1M33.6 446.6h1M24.6 469.8h1M62.9 445.3h1M65.9 481.1h1M46.6 480.0h1M66.1 500.5h1M42.1 477.7h1M70.1 456.9h1M45.3 496.5h1M26.1 472.5h1M23.1 463.0h1M46.1 482.1h1M67.9 473.0h1M26.6 473.1h1M33.0 446.8h1M45.3 477.2h1M65.8 500.5h1M39.7 496.3h1M23.8 467.1h1M47.6 480.2h1M69.7 498.1h1M68.6 468.6h1M49.8 447.1h1M26.7 473.1h1M41.2 477.2h1M47.5 481.2h1M48.0 479.8h1M39.5 478.4h1M29.1 479.1h1M58.5 501.7h1M32.5 499.0h1M48.3 479.8h1M26.1 472.0h1M68.3 470.4h1M72.9 492.0h1M64.8 480.9h1M46.7 483.0h1M43.3 475.4h1M47.8 481.9h1M25.7 470.9h1M68.1 470.9h1M38.4 478.2h1M40.8 482.7h1M43.7 452.0h1M44.9 475.1h1M65.8 500.1h1M68.7 450.6h1M45.2 485.0h1M38.0 478.0h1M35.1 498.3h1M64.2 480.8h1M42.5 475.1h1M71.9 488.1h1M43.2 452.1h1M48.6 477.7h1M39.2 449.1h1M65.2 500.2h1M42.4 485.3h1M70.2 485.7h1M41.4 450.8h1M37.3 478.8h1M40.7 483.3h1M63.4 480.2h1M39.5 449.4h1M29.2 479.8h1M39.0 476.7h1M23.6 485.8h1M35.5 498.1h1M37.7 448.4h1M72.0 488.7h1M67.9 466.8h1M25.2 454.5h1M32.1 447.9h1M51.4 499.9h1M23.9 459.7h1M66.8 448.4h1M38.0 496.8h1M27.1 497.1h1M58.3 501.2h1M32.2 498.6h1M38.7 481.3h1M42.9 452.4h1M72.4 492.0h1M23.1 490.5h1M35.7 478.1h1M72.0 489.3h1M67.3 471.5h1M32.7 477.4h1M67.5 463.5h1M47.7 483.7h1M24.4 457.5h1M49.4 498.6h1M71.0 495.5h1M33.7 477.8h1M63.3 477.8h1M42.2 486.3h1M35.7 479.2h1M46.0 473.1h1M43.4 453.1h1M67.5 469.8h1M37.9 480.9h1M62.9 480.7h1M44.9 487.0h1M72.1 492.3h1M59.6 501.0h1M48.8 483.0h1M43.6 488.2h1M43.4 491.6h1M47.6 474.7h1M38.4 481.5h1M50.5 481.6h1M49.7 482.4h1M69.3 456.5h1M25.3 468.5h1M39.7 475.3h1M45.4 472.3h1M37.6 448.8h1M41.8 473.8h1M67.3 464.7h1M50.9 499.2h1M24.2 463.0h1M25.8 469.5h1M44.1 492.0h1M44.7 472.0h1M68.0 450.2h1M27.4 472.1h1M23.8 486.2h1M45.2 487.1h1M49.7 476.8h1M40.7 493.8h1M66.5 483.3h1M44.0 472.1h1M47.5 450.3h1M50.2 477.3h1M45.0 493.6h1M67.4 462.3h1M61.9 478.9h1M66.9 483.6h1M41.6 473.6h1M31.7 448.6h1M47.3 484.8h1M45.5 471.5h1M26.4 470.4h1M37.4 496.7h1M44.8 471.4h1M70.4 487.0h1M24.3 460.0h1M67.2 462.9h1M32.0 479.5h1M39.1 482.7h1M29.6 474.1h1M34.8 476.4h1M25.1 456.6h1M37.8 475.7h1M32.9 476.1h1M62.0 478.1h1M52.5 478.8h1M50.1 476.5h1M42.8 453.5h1M49.5 448.4h1M44.9 454.3h1M67.1 467.4h1M24.4 462.2h1M67.6 460.8h1M34.2 448.5h1M39.8 474.4h1M44.9 470.4h1M28.1 472.5h1M67.1 467.9h1M35.2 497.6h1M31.9 448.9h1M41.7 491.4h1M66.0 448.4h1M36.1 497.2h1M44.2 454.8h1M63.8 476.0h1M44.8 454.9h1"/>
<path stroke="rgb(98, 145, 216)" stroke-width="1" d="M26.2 454.2h1M32.3 479.8h1M52.4 446.6h1M23.5 489.6h1M66.1 472.6h1M64.3 475.4h1M32.8 448.8h1M44.3 470.0h1M45.7 469.5h1M63.1 481.9h1M53.7 480.6h1M65.9 472.9h1M48.5 484.4h1M54.3 479.8h1M47.1 495.7h1M24.6 462.7h1M37.7 481.8h1M66.5 471.0h1M65.0 447.7h1M24.9 464.9h1M38.1 474.9h1M41.7 488.7h1M67.4 484.6h1M67.3 460.8h1M49.7 497.9h1M59.6 480.4h1M66.6 465.6h1M25.0 465.1h1M26.0 455.2h1M34.5 480.3h1M39.0 474.3h1M44.3 468.9h1M67.1 498.2h1M27.8 496.7h1M29.1 450.9h1M54.4 481.0h1M46.6 465.2h1M24.9 464.2h1M47.4 471.0h1M41.5 488.1h1M47.0 469.8h1M46.7 465.8h1M56.0 479.9h1M59.5 445.7h1M33.1 449.0h1M52.9 477.7h1M46.1 493.5h1M53.9 499.7h1M66.4 470.7h1M46.7 467.1h1M50.7 498.4h1M59.0 479.0h1M53.7 481.6h1M46.9 461.3h1M38.3 474.4h1M64.9 473.9h1M37.8 450.0h1M44.5 456.8h1M24.0 491.7h1M56.3 480.5h1M59.2 478.6h1M61.8 500.1h1M57.7 480.4h1M56.0 500.1h1M66.5 462.7h1M65.0 499.1h1M26.3 495.4h1M59.2 478.5h1M45.0 465.5h1M50.7 475.6h1M25.1 494.0h1M45.0 459.4h1M47.7 470.4h1M54.8 478.3h1M32.6 474.8h1M52.8 477.2h1M30.1 480.9h1M61.7 481.9h1M25.7 456.6h1M45.9 458.0h1M66.5 449.4h1M48.9 496.9h1M53.4 499.4h1M70.8 489.4h1M52.4 499.0h1M61.4 477.1h1M44.4 458.1h1M33.9 480.5h1M47.6 468.8h1M61.4 477.0h1M46.3 488.6h1M35.7 474.9h1M29.3 472.6h1M50.4 474.9h1M66.9 484.7h1M70.7 493.4h1M66.3 468.0h1M43.6 468.2h1M46.1 492.2h1M44.6 461.9h1M40.4 452.4h1M44.4 465.7h1M44.6 463.7h1M53.6 482.2h1M36.4 496.5h1M48.7 485.4h1M48.9 496.7h1M66.1 463.3h1M50.4 474.6h1M40.7 452.8h1M65.2 472.7h1M49.8 497.4h1M25.8 457.1h1M66.5 449.6h1M36.0 474.6h1M43.7 467.6h1M55.8 481.6h1M44.4 462.3h1M43.5 457.0h1M46.9 453.4h1M47.3 459.7h1M58.6 500.1h1M59.1 481.6h1M52.6 482.8h1M37.9 473.9h1M36.6 474.3h1M40.8 490.6h1M48.4 470.4h1M37.0 450.2h1M64.3 473.9h1M38.9 494.3h1M43.0 468.6h1M63.9 474.3h1M66.9 450.3h1M38.7 473.2h1M42.4 455.5h1M52.2 475.9h1M50.2 484.5h1M48.4 467.4h1M57.4 481.7h1M47.2 453.0h1M48.9 471.1h1M43.0 456.7h1M31.2 473.4h1M58.3 446.0h1M48.8 464.8h1M52.0 447.5h1M42.2 469.4h1M32.3 497.4h1M57.6 481.9h1M43.3 466.8h1M32.3 473.8h1M70.5 490.5h1M50.2 473.4h1M59.9 446.2h1M55.5 477.2h1M40.3 491.4h1M67.5 458.6h1M25.9 457.9h1M61.6 499.6h1M28.8 471.3h1M49.1 463.4h1M65.7 466.9h1M39.1 451.9h1M25.6 464.0h1M69.8 494.2h1M65.9 484.6h1M54.9 482.5h1M66.8 459.9h1M42.7 456.9h1M25.4 493.7h1M59.5 482.2h1M46.8 489.5h1M61.4 482.7h1M24.5 487.2h1M50.2 472.9h1M46.8 492.1h1M25.7 459.8h1M56.3 477.1h1M26.8 495.3h1M47.2 454.2h1M59.0 476.9h1M66.3 497.7h1M38.0 473.0h1M42.2 468.4h1M48.4 451.2h1M48.9 461.3h1M34.6 496.9h1M67.4 458.2h1M41.8 469.1h1M24.7 487.0h1M63.9 498.8h1M38.5 451.7h1M37.1 482.9h1M41.1 470.1h1M39.7 492.3h1M65.3 484.5h1M66.8 485.5h1M28.0 453.8h1M48.0 452.3h1M49.7 449.7h1M30.0 471.9h1M48.1 452.1h1M68.9 495.2h1M30.8 472.5h1M66.1 461.0h1M32.7 473.4h1M37.2 483.0h1M30.2 497.0h1M50.3 472.3h1M65.7 484.8h1M27.4 468.5h1M49.7 463.9h1M48.3 494.9h1M40.8 470.2h1M26.4 484.2h1M43.1 459.9h1M51.4 473.8h1M65.3 484.6h1M41.3 469.4h1M43.2 461.7h1M58.5 446.3h1M55.7 499.2h1M25.8 462.2h1M38.5 494.0h1M65.2 468.4h1M50.0 471.1h1M48.0 488.1h1M37.0 483.1h1M49.6 486.0h1M47.8 493.7h1M62.4 474.5h1M47.5 489.4h1M48.7 495.1h1M47.8 457.7h1M49.7 466.7h1M47.7 488.8h1M59.4 476.2h1M64.1 484.1h1M58.4 476.4h1M26.1 464.1h1M40.4 454.1h1M24.8 491.5h1M67.5 486.4h1M39.9 490.8h1M38.8 471.8h1M69.9 491.8h1M49.2 495.5h1M51.5 473.4h1M50.5 471.7h1M29.6 482.1h1M41.1 469.0h1M42.7 465.1h1M56.0 476.2h1M48.5 459.0h1M40.8 469.5h1M63.5 473.0h1M36.4 482.8h1M47.4 490.4h1M65.2 484.8h1M29.1 453.0h1M52.9 474.6h1M65.0 449.1h1M65.5 485.1h1M50.3 465.4h1M50.1 469.8h1M64.9 468.6h1M47.8 489.5h1M67.3 452.7h1M50.4 470.7h1M63.6 498.4h1M49.6 486.5h1M41.2 455.9h1M38.9 485.6h1M25.2 486.7h1M66.2 459.9h1M50.1 496.1h1M48.8 459.3h1M34.5 450.9h1M53.8 474.9h1M53.2 447.5h1M56.3 475.8h1M53.3 474.6h1M26.2 462.3h1M50.0 461.7h1M50.1 496.1h1M67.2 457.3h1M28.8 482.7h1M66.8 458.4h1M61.5 447.1h1M42.4 460.3h1M50.7 471.0h1M49.9 461.4h1M37.3 483.8h1M39.3 453.5h1M29.2 482.5h1M42.5 462.1h1M68.3 495.0h1M59.2 499.0h1M26.5 459.7h1M63.3 472.4h1M39.7 490.0h1M40.8 468.7h1M48.2 489.2h1M56.1 475.5h1M58.9 446.6h1M41.3 467.6h1M39.1 492.2h1M27.9 455.5h1M27.5 467.1h1M25.9 485.7h1M31.3 471.7h1M66.6 451.4h1M35.1 482.5h1M49.3 494.9h1M50.6 468.8h1M49.9 486.7h1M61.6 474.1h1M29.8 453.1h1M52.3 473.1h1M42.3 462.5h1M67.9 495.2h1M29.0 454.0h1M36.4 451.7h1M65.6 497.2h1M48.1 454.6h1M31.3 471.6h1M50.9 465.5h1M61.5 474.0h1M39.7 454.4h1M52.6 484.9h1M38.3 471.1h1M34.2 472.4h1M50.8 486.1h1M63.4 471.7h1M33.9 472.3h1M62.6 472.9h1M32.8 482.1h1M39.5 490.0h1M33.9 451.4h1M54.1 498.0h1M65.7 497.0h1M36.7 452.0h1M26.6 460.6h1M49.8 487.1h1M48.3 455.9h1M36.1 451.8h1M25.7 486.2h1M39.5 489.2h1M41.7 458.7h1M51.0 496.3h1M51.2 465.6h1M48.3 490.0h1M30.9 471.1h1M48.5 456.8h1M55.7 474.9h1M50.2 450.1h1M64.0 466.3h1M33.2 472.1h1M58.5 446.7h1M69.0 492.4h1M55.4 483.9h1M49.2 458.9h1M67.2 495.7h1M55.9 498.5h1M33.4 496.4h1M55.7 483.9h1M37.7 452.8h1M48.4 454.3h1M25.0 488.5h1M52.6 472.8h1M54.4 474.3h1M57.3 498.6h1M29.4 469.5h1M37.6 471.2h1M68.5 493.7h1M27.4 465.8h1M51.4 464.8h1M31.5 482.2h1M64.7 497.4h1M54.1 474.0h1M33.8 472.0h1M27.2 458.4h1M68.0 488.3h1M37.6 471.1h1M48.8 489.3h1M64.8 497.3h1M48.7 492.8h1M26.8 462.3h1M26.8 461.4h1M63.8 466.3h1M54.2 484.5h1M49.7 494.7h1M55.4 484.1h1M51.3 496.3h1M60.6 447.1h1M62.4 484.5h1M63.8 467.2h1M59.6 446.9h1M51.6 464.1h1M68.6 489.6h1M51.6 464.9h1M53.2 473.1h1M25.1 490.5h1M26.8 484.9h1M37.7 485.0h1M29.1 454.5h1M65.5 450.4h1M34.5 471.9h1M35.0 495.8h1M39.2 488.7h1M50.5 460.8h1M48.9 457.3h1M34.2 471.8h1M68.6 492.8h1M35.8 471.6h1M53.3 472.9h1M68.7 491.9h1M39.0 487.6h1M27.7 466.1h1M49.2 458.0h1M35.1 495.7h1M49.0 452.8h1M59.8 498.5h1M56.9 498.4h1M65.7 486.3h1M56.0 474.4h1M59.3 484.0h1M56.3 474.5h1M38.2 485.8h1M51.6 467.5h1M41.1 458.4h1M58.9 484.0h1M63.6 468.4h1M64.3 461.6h1M66.4 486.8h1M58.2 484.0h1M68.0 494.0h1M66.8 456.5h1M40.7 457.3h1M49.3 493.6h1M30.6 482.6h1M63.5 466.9h1M40.1 468.0h1M48.8 453.7h1M40.9 466.0h1M65.8 496.4h1M49.8 459.1h1M39.2 469.2h1M39.1 469.2h1M68.3 489.5h1M40.7 466.5h1M38.8 487.5h1M52.8 471.9h1M63.2 464.5h1M63.4 463.5h1M33.1 482.5h1M63.1 448.4h1M56.5 484.2h1M51.9 466.8h1M37.3 470.7h1M49.5 488.7h1M49.0 492.0h1M41.4 461.1h1M39.0 488.5h1M39.2 455.1h1M65.3 496.6h1M60.5 484.3h1M32.3 471.0h1M34.4 482.9h1M36.4 471.0h1M59.9 498.3h1M51.2 461.4h1M65.9 486.7h1M27.4 463.8h1M48.8 455.1h1M27.5 464.3h1M53.6 472.5h1M28.9 455.5h1M65.3 496.5h1M31.3 470.4h1M57.0 484.3h1M55.9 484.5h1M67.9 489.2h1M38.9 489.2h1M59.0 447.0h1M52.6 448.5h1M49.1 456.9h1M39.7 468.0h1M63.1 467.1h1M41.3 462.0h1M66.6 453.2h1M49.1 490.8h1M49.1 456.8h1M61.5 472.3h1M33.0 482.7h1M28.5 466.9h1M38.8 490.6h1M37.9 454.0h1M64.0 461.4h1M66.3 457.2h1M49.1 491.5h1"/>
<path stroke="rgb(84, 136, 212)" stroke-width="1" d="M55.5 484.7h1M49.2 492.1h1M49.2 490.5h1M64.6 486.0h1M51.8 496.0h1M50.3 494.4h1M59.7 473.4h1M60.5 447.4h1M28.1 457.5h1M29.1 467.8h1M39.9 456.7h1M50.5 459.7h1M52.0 449.0h1M35.5 452.7h1M50.6 450.4h1M51.5 461.3h1M62.8 485.2h1M27.6 459.8h1M61.7 484.9h1M56.2 473.6h1M29.7 483.3h1M53.2 471.3h1M40.1 457.3h1M54.1 472.4h1M53.2 496.8h1M53.0 485.8h1M38.7 468.8h1M26.1 486.7h1M38.4 454.7h1M60.1 484.6h1M54.4 472.6h1M65.0 459.7h1M28.6 466.8h1M58.9 473.5h1M56.2 473.5h1M40.7 464.9h1M29.9 454.8h1M35.0 470.9h1M52.4 462.7h1M36.7 484.7h1M29.5 483.4h1M35.9 470.6h1M34.9 470.9h1M27.6 463.1h1M62.3 470.4h1M36.7 484.7h1M40.5 458.9h1M27.1 485.2h1M62.8 463.2h1M28.4 466.0h1M51.1 460.4h1M58.5 473.5h1M62.7 467.3h1M55.2 497.5h1M52.7 469.3h1M38.5 468.8h1M52.0 449.0h1M51.2 487.3h1M54.0 471.9h1M49.6 492.3h1M38.2 486.9h1M52.9 469.9h1M54.3 472.2h1M50.7 488.0h1M55.4 472.9h1M57.2 473.4h1M56.6 484.8h1M28.6 457.2h1M64.7 486.4h1M67.8 490.5h1M61.9 470.6h1M62.3 465.3h1M52.8 467.3h1M49.2 455.4h1M31.8 469.9h1M56.2 447.2h1M30.1 468.5h1M57.5 473.3h1M40.7 463.5h1M49.6 457.1h1M39.3 456.4h1M66.4 454.1h1M34.8 483.6h1M38.2 487.2h1M62.9 485.6h1M29.0 495.3h1M57.2 484.8h1M50.7 494.2h1M39.1 456.1h1M28.0 463.9h1M32.8 470.3h1M34.0 495.6h1M35.8 470.3h1M27.8 461.3h1M28.9 456.9h1M37.4 493.1h1M63.4 496.9h1M26.0 491.8h1M40.6 463.3h1M65.0 459.1h1M28.1 464.0h1M25.9 487.7h1M38.4 490.6h1M32.4 470.1h1M35.6 470.2h1M50.9 459.6h1M62.1 468.4h1M29.2 466.9h1M28.3 484.4h1M61.9 465.3h1M50.0 457.8h1M65.7 487.4h1M54.3 471.3h1M28.5 465.2h1M31.5 483.1h1M39.6 457.5h1M40.3 460.0h1M62.0 463.6h1M35.9 494.5h1M51.8 460.7h1M58.4 497.7h1M53.4 467.0h1M33.2 483.2h1M29.7 467.6h1M29.1 456.8h1M35.0 453.4h1M38.6 467.9h1M30.3 455.1h1M53.4 467.5h1M50.3 451.5h1M56.5 472.5h1M61.5 485.4h1M37.5 492.7h1M61.8 463.9h1M59.6 472.2h1M33.9 495.5h1M38.3 490.0h1M31.5 495.8h1M38.2 455.6h1M33.2 469.9h1M60.8 471.0h1M32.1 483.2h1M62.4 485.7h1M65.3 458.1h1M34.5 470.1h1M31.4 495.8h1M53.6 468.5h1M26.0 487.8h1M39.0 456.8h1M65.5 457.7h1M58.7 447.3h1M58.5 485.1h1M54.2 470.4h1M53.1 462.2h1M52.9 462.0h1M58.3 472.4h1M57.7 472.4h1M34.0 453.6h1M34.4 470.0h1M65.9 456.4h1M61.0 470.5h1M37.6 468.6h1M34.2 469.9h1M38.0 491.2h1M36.5 469.3h1M30.1 467.6h1M37.2 468.9h1M58.4 485.2h1M38.2 489.3h1M28.3 460.7h1M54.1 469.8h1M60.5 497.3h1M53.6 462.7h1M54.2 464.2h1M55.8 471.7h1M32.4 469.4h1M33.7 469.8h1M37.0 468.9h1M32.0 454.3h1M36.1 454.2h1M53.5 462.5h1M34.9 469.7h1M28.2 484.7h1M59.9 497.4h1M53.7 462.7h1M54.1 466.6h1M61.4 467.2h1M62.6 496.8h1M58.1 497.4h1M34.6 469.7h1M49.9 456.5h1M29.1 457.8h1M54.1 463.4h1M60.1 485.4h1M55.4 471.2h1M61.3 468.7h1M32.3 495.6h1M67.0 492.6h1M64.0 459.9h1M66.9 490.0h1M40.0 462.7h1M26.7 486.6h1M59.1 471.7h1M54.7 470.4h1M57.7 497.3h1M61.3 468.2h1M54.1 468.1h1M33.2 483.5h1M50.4 457.7h1M39.3 465.8h1M54.5 465.1h1M38.0 488.2h1M50.5 457.9h1M57.9 485.3h1M39.1 457.6h1M26.1 488.2h1M31.6 454.7h1M35.4 469.4h1M61.1 467.3h1M50.7 492.5h1M60.5 447.8h1M26.4 487.3h1M59.8 471.0h1M61.1 467.4h1M51.3 459.2h1M55.0 447.8h1M35.4 469.3h1M59.9 470.8h1M54.5 468.6h1M37.1 492.7h1M58.2 471.6h1M54.8 469.7h1M66.9 490.7h1M57.3 497.1h1M34.6 494.9h1M36.9 486.0h1M31.4 455.1h1M36.7 468.6h1M27.3 485.9h1M61.4 448.2h1M54.8 469.3h1M55.3 470.2h1M65.2 494.9h1M66.6 490.0h1M58.2 447.4h1M32.1 468.7h1M36.7 485.8h1M52.1 488.1h1M60.6 463.9h1M54.9 447.9h1M58.0 471.3h1M59.2 470.9h1M54.9 466.8h1M56.7 471.1h1M53.1 495.4h1M55.1 464.4h1M60.6 497.0h1M39.4 459.3h1M38.9 458.0h1M29.6 457.5h1M39.0 458.3h1M55.2 464.4h1M35.1 494.5h1M55.2 469.5h1M57.2 471.1h1M59.3 470.6h1M50.6 451.9h1M28.9 463.7h1M36.3 454.9h1M56.0 496.7h1M58.9 485.6h1M31.3 495.5h1M30.2 466.7h1M38.9 465.6h1M29.0 459.4h1M28.8 461.9h1M60.2 466.3h1M56.5 470.7h1M55.1 468.8h1M64.8 458.0h1M60.3 466.8h1M28.8 461.0h1M50.1 455.5h1M60.3 467.2h1M32.4 468.6h1M60.6 463.2h1M30.4 456.5h1M28.8 461.3h1M36.1 485.3h1M52.9 495.1h1M63.6 459.8h1M60.1 466.6h1M60.2 467.5h1M56.7 496.8h1M60.2 468.2h1M51.1 458.3h1M60.2 468.3h1M36.2 485.4h1M55.5 466.2h1M62.3 461.3h1M39.1 464.8h1M56.0 470.1h1M55.1 463.3h1M60.0 469.1h1M66.3 489.9h1M52.4 460.1h1M39.4 463.5h1M54.9 486.4h1M55.7 464.5h1M56.4 470.3h1M59.8 466.1h1M56.4 486.0h1M38.2 466.5h1M51.5 450.5h1M56.0 469.9h1M34.0 454.6h1M36.8 455.5h1M38.9 465.2h1M55.4 467.9h1M33.6 495.2h1M30.0 457.3h1M60.0 467.9h1M37.5 456.2h1M36.2 455.2h1M32.7 468.6h1M60.0 467.8h1M63.8 459.4h1M51.5 493.2h1M52.2 459.8h1M31.2 467.5h1M59.9 467.4h1M58.0 470.5h1M64.4 450.9h1M66.4 492.4h1M59.7 467.2h1M50.3 456.1h1M59.7 467.0h1M29.0 461.7h1M58.3 470.2h1M39.0 464.6h1M59.5 464.1h1M50.2 455.6h1M34.3 484.2h1M33.5 454.8h1M59.4 466.1h1M65.0 457.3h1M54.3 495.8h1M34.6 468.7h1M31.4 455.8h1M56.1 469.2h1M38.9 459.0h1M36.5 468.0h1M29.1 460.6h1M32.5 468.3h1M36.6 486.1h1M54.5 462.2h1M29.2 460.3h1M33.5 468.6h1M56.0 468.6h1M35.7 455.2h1M32.8 468.4h1M51.5 490.1h1M56.6 469.4h1M27.5 486.0h1M63.1 460.1h1M58.8 466.1h1M56.9 465.5h1M29.4 463.6h1M52.0 489.0h1M37.7 489.3h1M38.3 457.9h1M39.0 459.7h1M30.3 466.0h1M37.6 456.8h1M58.8 466.4h1M57.1 465.7h1M56.5 496.5h1M62.4 460.8h1M54.9 495.9h1M57.2 464.4h1M51.9 493.3h1M58.3 464.5h1M32.1 467.8h1M30.9 466.8h1M56.5 467.7h1M58.8 468.6h1M57.0 466.4h1M37.8 466.4h1M50.4 453.3h1M37.7 457.1h1M28.0 485.5h1M31.8 455.8h1M58.6 468.8h1M56.7 468.2h1M57.1 469.0h1M33.8 484.2h1M38.4 458.2h1M57.0 466.8h1M38.7 464.4h1M65.3 453.7h1M55.2 486.7h1M56.9 496.5h1M66.0 490.2h1M65.4 454.9h1M61.7 486.5h1M56.8 467.9h1M51.7 490.0h1M63.1 487.1h1M30.0 465.1h1M63.3 449.9h1M63.0 487.1h1M57.7 467.1h1M53.9 495.3h1M57.4 467.8h1M55.7 496.1h1M59.3 463.2h1M30.2 465.4h1M30.1 465.3h1M57.9 463.8h1M59.3 447.8h1M33.1 468.1h1M38.8 460.2h1M61.8 496.1h1M53.2 488.0h1M64.2 488.0h1M29.7 494.8h1M61.5 486.6h1M57.2 463.4h1M62.8 449.5h1M56.5 463.1h1M64.3 488.1h1M30.2 458.2h1M61.2 496.2h1M53.4 460.5h1M38.4 458.8h1M32.8 455.5h1M32.4 455.7h1M37.5 490.3h1M50.4 455.0h1M38.6 459.7h1M36.3 486.1h1M34.9 455.4h1M35.1 494.1h1M30.1 464.9h1M26.8 487.4h1M30.8 495.1h1M63.4 459.3h1M33.7 494.9h1M32.4 455.8h1M59.6 462.6h1M29.6 460.3h1M52.5 449.7h1M50.5 455.2h1M30.6 484.2h1M31.4 484.1h1M56.1 462.5h1M55.2 487.0h1M33.1 455.6h1M35.9 485.7h1M64.9 488.9h1M37.3 466.3h1M33.5 455.6h1M35.6 467.6h1M30.4 458.2h1M51.7 458.2h1M61.7 448.8h1M55.2 461.9h1M62.5 460.2h1M52.8 493.9h1M29.2 484.8h1M54.6 495.4h1M36.8 456.8h1M50.6 453.1h1M26.3 489.7h1M52.3 489.5h1M57.5 496.3h1M30.5 465.2h1M55.0 495.6h1M63.3 459.2h1M63.2 495.3h1M34.5 484.7h1M33.0 455.8h1M64.8 456.7h1M37.9 465.1h1M50.5 454.1h1M64.8 452.6h1M60.7 461.6h1M37.0 466.4h1M35.6 467.4h1M64.2 457.9h1M31.1 457.3h1M51.4 451.2h1M29.9 463.3h1M37.6 458.1h1M31.9 484.1h1M52.6 449.6h1M65.1 454.6h1M31.4 457.1h1M64.5 488.7h1M52.0 491.4h1M37.5 458.0h1M32.5 456.2h1M35.6 456.2h1M26.5 488.9h1M31.5 457.0h1M60.6 496.1h1M34.0 467.6h1M35.8 456.3h1M53.5 460.2h1M30.3 459.1h1M51.6 457.7h1M65.4 490.3h1M27.1 487.1h1M30.0 460.2h1M53.9 448.7h1M63.3 459.0h1M34.9 467.4h1M34.4 456.0h1M65.3 492.5h1M30.8 458.1h1M35.8 456.5h1M26.5 489.3h1M38.3 462.6h1M65.3 490.4h1M53.4 494.1h1M37.1 490.9h1M35.2 493.8h1M63.8 450.9h1M57.5 486.7h1M51.7 457.8h1M36.0 456.7h1M64.3 451.8h1M59.9 486.7h1M33.9 456.1h1M62.2 449.3h1M54.0 488.2h1M52.6 489.8h1M57.7 462.3h1M35.3 467.1h1M30.1 462.7h1M35.5 467.0h1M33.7 467.2h1M52.6 489.9h1M51.0 452.6h1M61.4 460.7h1M30.9 465.0h1M37.6 464.7h1M58.3 486.7h1M53.1 489.2h1M57.7 462.1h1M30.7 459.0h1M30.5 459.4h1M53.2 459.6h1M37.8 464.0h1M54.2 494.6h1M62.0 449.2h1M37.7 464.3h1M56.3 487.1h1M33.6 456.3h1M36.2 457.1h1M54.7 460.9h1M30.0 484.7h1M57.9 462.1h1M51.3 456.8h1M27.8 493.2h1M31.0 458.5h1M61.3 487.2h1M30.4 460.0h1M29.0 485.2h1M33.3 484.5h1M64.2 457.3h1M65.1 492.1h1M37.3 458.7h1M36.8 491.6h1M34.9 456.6h1M53.4 489.0h1M35.6 456.9h1M34.4 456.5h1M52.8 490.2h1M64.6 456.2h1M64.4 489.5h1M37.1 458.5h1M60.0 461.3h1M65.0 492.2h1M64.2 489.1h1M36.4 465.9h1M63.5 458.2h1M36.7 491.6h1M30.4 462.3h1M36.2 466.0h1M32.9 456.9h1M54.1 460.2h1M55.5 461.1h1M51.8 457.4h1M36.9 458.3h1M64.6 492.9h1M30.9 459.2h1M52.4 458.4h1M27.1 487.6h1M64.0 451.4h1M37.5 463.7h1M63.7 494.1h1M36.1 466.0h1M60.1 461.2h1M30.9 459.4h1M32.1 457.6h1M37.3 459.3h1"/>
<path stroke="rgb(74, 128, 208)" stroke-width="1" d="M52.0 457.7h1M61.8 495.2h1M35.3 457.1h1M64.6 492.6h1M31.1 459.0h1M55.6 487.7h1M26.7 490.4h1M36.5 487.2h1M60.4 487.3h1M37.6 462.9h1M28.3 493.6h1M63.2 458.5h1M31.8 465.2h1M56.1 487.6h1M26.6 490.2h1M60.8 487.4h1M64.7 454.4h1M37.4 460.0h1M35.8 457.6h1M56.5 461.3h1M30.8 460.6h1M31.3 458.9h1M64.2 456.8h1M62.3 459.4h1M53.1 492.4h1M31.7 464.9h1M62.3 488.0h1M58.5 448.0h1M32.3 457.8h1M61.5 487.7h1M36.9 459.1h1M62.8 458.9h1M52.1 450.6h1M31.5 458.9h1M60.5 448.5h1M61.4 487.7h1M62.6 488.3h1M33.3 466.0h1M27.0 488.0h1M61.6 487.8h1M60.1 495.4h1M31.5 464.2h1M37.0 459.8h1M32.2 484.6h1M64.0 489.7h1M62.3 488.2h1M34.9 465.9h1M64.2 490.0h1M59.6 461.0h1M30.2 494.6h1M28.6 493.7h1M35.9 486.6h1M31.2 460.0h1M32.9 457.8h1M60.2 460.7h1M63.1 494.0h1M36.4 458.8h1M57.8 495.3h1M62.8 488.6h1M60.2 495.3h1M31.4 484.6h1M37.2 462.0h1M31.1 462.0h1M64.0 456.8h1M32.9 465.5h1M26.9 491.0h1M61.6 494.9h1M54.0 493.4h1M54.9 494.2h1M53.5 490.4h1M36.3 464.6h1M31.4 494.8h1M52.6 450.2h1M31.8 459.1h1M34.7 465.7h1M56.7 487.7h1M53.4 491.5h1M32.0 459.0h1M59.4 487.5h1M64.1 492.4h1M64.0 490.3h1M32.6 458.3h1M36.7 488.4h1M53.9 492.9h1M60.0 487.6h1M62.5 488.6h1M59.4 487.5h1M32.3 464.7h1M36.8 463.2h1M51.3 452.6h1M33.4 465.4h1M32.2 464.4h1M34.4 465.5h1M51.2 454.6h1M34.6 457.9h1M61.2 459.9h1M36.2 464.3h1M57.3 495.0h1M34.3 485.3h1M32.7 458.4h1M32.4 464.6h1M51.2 454.0h1M57.8 461.0h1M32.5 464.6h1M57.9 495.1h1M55.8 460.5h1M34.8 485.7h1M34.1 465.3h1M53.7 491.8h1M55.6 488.4h1M55.0 493.9h1M55.3 460.2h1M61.0 488.0h1M36.5 460.2h1M64.0 491.6h1M32.9 458.6h1M36.6 462.9h1M54.3 459.6h1M62.1 459.1h1M54.3 459.6h1M30.6 484.9h1M54.0 459.3h1M56.5 460.7h1M63.9 490.9h1M32.7 458.9h1M56.2 488.3h1M33.0 458.7h1M31.4 494.7h1M54.2 490.0h1M55.5 488.7h1M62.0 488.6h1M57.3 488.0h1M62.8 493.7h1M57.6 487.9h1M36.3 487.7h1M54.4 492.9h1M55.6 494.1h1M35.9 459.7h1M60.7 494.7h1M60.5 488.1h1M32.0 460.4h1M36.7 490.3h1M32.2 459.9h1M63.6 492.4h1M36.3 460.9h1M33.7 458.6h1M27.5 492.2h1M62.6 458.3h1M64.1 453.0h1M34.9 464.5h1M35.6 459.5h1M35.5 459.3h1M53.9 459.0h1M27.6 487.2h1M51.8 456.0h1M56.9 460.6h1M56.4 494.4h1M52.7 450.2h1M32.2 462.8h1M57.0 488.2h1M55.3 493.7h1M63.7 456.5h1M54.2 492.1h1M51.4 453.2h1M53.0 458.0h1M32.1 461.0h1M62.6 489.3h1M57.6 460.6h1M55.7 460.2h1M58.2 460.6h1M35.9 460.3h1M34.8 493.5h1M36.0 462.5h1M60.5 494.6h1M35.1 459.3h1M30.1 494.3h1M36.6 490.4h1M55.9 488.8h1M35.8 460.3h1M34.5 464.2h1M35.6 460.0h1M63.8 456.1h1M54.0 449.2h1M62.2 489.1h1M34.3 485.6h1M63.0 457.6h1M35.7 462.6h1M35.0 459.7h1M58.2 494.6h1M61.0 488.6h1M58.1 494.6h1M35.2 463.3h1M54.9 490.0h1M60.6 494.4h1M51.5 454.2h1M33.2 460.0h1M32.6 461.0h1M59.2 494.6h1M53.6 458.4h1M55.1 493.1h1M35.9 487.3h1M33.2 463.3h1M34.0 459.7h1M36.1 487.6h1M32.8 462.4h1M57.8 488.3h1M61.4 494.0h1M34.9 460.0h1M51.5 454.1h1M32.8 461.4h1M59.9 488.4h1M59.3 494.5h1M51.9 451.7h1M54.8 492.3h1M36.2 487.9h1M53.4 458.1h1M60.0 494.4h1M62.5 493.1h1M58.7 448.3h1M35.3 461.7h1M56.4 460.1h1M33.7 460.2h1M57.3 488.6h1M55.4 493.1h1M34.4 460.3h1M35.1 462.2h1M63.0 491.9h1M35.1 461.3h1M53.4 458.1h1M61.9 493.5h1M33.5 462.5h1M55.3 489.8h1M29.9 494.1h1M62.3 489.8h1M34.7 460.9h1M34.6 460.8h1M34.4 462.6h1M60.7 488.8h1M34.1 460.7h1M55.2 492.6h1M58.3 494.3h1M34.7 462.0h1M33.8 462.3h1M62.2 493.0h1M54.9 492.0h1M61.8 458.6h1M62.3 492.9h1M59.0 494.3h1M62.8 491.8h1M58.3 460.2h1M34.9 493.2h1M30.1 485.4h1M36.3 490.9h1M54.9 491.4h1M55.2 490.4h1M36.4 490.5h1M59.4 494.2h1M63.0 457.0h1M57.9 494.1h1M31.6 494.4h1M62.7 491.2h1M32.1 494.4h1M61.2 489.3h1M61.9 493.1h1M55.6 492.8h1M60.8 449.1h1M63.7 455.3h1M56.8 493.7h1M59.5 459.8h1M61.7 489.7h1M63.6 455.7h1M60.8 493.7h1M29.5 493.9h1M57.8 493.9h1M59.2 488.8h1M62.0 492.8h1M62.5 491.1h1M56.9 493.6h1M63.8 453.4h1M52.6 456.7h1M55.8 492.8h1M51.9 455.2h1M29.6 485.7h1M56.2 489.7h1M61.0 493.4h1M35.2 492.8h1M59.8 489.0h1M57.5 489.1h1M55.3 491.6h1M57.3 493.6h1M62.1 492.3h1M36.1 488.3h1M58.5 459.9h1M61.1 493.3h1M62.2 491.8h1M61.0 489.5h1M56.6 493.3h1M34.0 493.7h1M57.6 489.2h1M53.7 449.7h1M57.8 489.2h1M34.8 493.2h1M56.5 448.4h1M53.7 458.0h1M57.8 493.6h1M56.6 493.0h1M62.0 491.3h1M61.5 492.6h1M55.8 491.3h1M57.1 489.6h1M59.9 489.3h1M58.7 493.6h1M56.0 492.1h1M58.3 493.5h1M61.0 458.7h1M58.9 459.6h1M59.0 489.3h1M52.0 454.9h1M61.1 490.1h1M33.1 494.1h1M36.3 489.4h1M59.5 493.4h1M51.9 454.4h1M59.7 489.5h1M61.0 449.3h1M60.9 458.7h1M61.7 458.1h1M29.6 493.8h1M34.3 493.5h1M56.0 491.5h1M61.1 492.6h1M61.3 492.4h1M62.5 457.2h1M29.9 485.7h1M56.7 459.5h1M58.5 493.4h1M61.4 490.7h1M60.3 449.0h1M53.0 456.9h1M53.3 457.1h1M56.9 492.4h1M58.5 489.7h1M60.3 492.8h1M59.5 493.1h1M57.4 490.1h1M60.9 492.3h1M35.8 491.6h1M58.8 459.4h1M63.5 454.5h1M61.2 491.3h1M57.3 492.7h1M57.4 492.7h1M56.7 491.1h1M59.7 492.9h1M60.8 492.2h1M60.2 490.2h1M28.8 493.2h1M34.7 493.0h1M60.7 492.2h1M60.9 491.3h1M56.4 459.2h1M58.7 490.0h1M36.0 490.9h1M60.8 491.0h1M57.6 492.5h1M58.8 492.8h1M57.2 492.2h1M61.6 449.9h1M27.4 488.9h1M61.1 449.5h1M58.8 492.8h1M34.4 486.3h1M36.1 490.6h1M60.7 491.3h1M57.6 492.3h1M60.5 492.0h1M58.4 492.6h1M32.0 494.2h1M57.3 491.7h1M55.9 458.9h1M27.5 488.7h1M59.6 490.5h1M56.9 459.2h1M60.2 491.8h1M57.9 490.7h1M36.1 490.1h1M29.0 493.3h1M55.9 448.7h1M52.8 450.8h1M57.8 491.5h1M60.3 458.6h1M53.6 457.2h1M29.2 486.3h1M29.4 486.2h1M28.4 492.7h1M62.2 457.1h1M58.2 491.3h1M59.2 491.0h1M36.0 490.3h1M52.4 455.1h1M63.2 454.7h1M27.5 488.8h1M58.6 459.0h1M63.3 454.3h1M59.1 458.9h1M33.3 493.8h1M34.1 486.2h1M62.3 456.6h1M54.9 458.1h1M54.9 458.0h1M53.3 450.4h1M57.8 448.6h1M60.9 449.5h1M63.1 454.8h1"/>
<path stroke="rgb(64, 121, 203)" stroke-width="1" d="M61.2 457.7h1M28.7 492.8h1M32.2 485.6h1M35.7 488.6h1M35.5 488.2h1M29.0 486.6h1M52.3 453.8h1M27.8 491.5h1M52.6 455.0h1M35.6 488.3h1M58.9 458.6h1M58.8 448.8h1M62.9 455.0h1M35.8 490.4h1M33.3 493.6h1M62.9 454.9h1M31.6 494.0h1M55.4 449.1h1M62.0 456.5h1M30.2 486.0h1M55.4 457.9h1M29.1 486.6h1M62.5 455.7h1M32.6 493.8h1M60.0 449.2h1M57.3 458.5h1M33.2 493.6h1M28.4 487.4h1M53.7 456.5h1M28.2 492.0h1M27.6 490.1h1M52.5 454.2h1M59.8 458.0h1M33.8 486.4h1M52.6 452.2h1M60.6 457.5h1M62.7 454.7h1M57.8 458.3h1M62.8 453.5h1M52.6 454.3h1M56.5 458.1h1M60.0 449.3h1M56.4 458.0h1M31.9 493.8h1M59.9 457.7h1M54.0 456.5h1M52.5 452.8h1M57.6 448.8h1M31.6 485.9h1M62.7 454.3h1M53.7 456.1h1M62.7 453.2h1M30.8 486.1h1M32.9 493.5h1M55.9 457.6h1M32.0 486.0h1M57.5 457.9h1M54.1 450.1h1M54.7 449.7h1M34.7 492.1h1M62.2 455.1h1M62.5 453.9h1M35.3 488.7h1M59.9 457.3h1M35.3 488.7h1M62.1 451.4h1M35.0 488.2h1M58.8 457.6h1M60.5 456.9h1M55.6 449.3h1M57.1 449.0h1M52.8 453.4h1M53.2 454.9h1M59.2 457.5h1M61.1 456.3h1M62.5 453.2h1M35.2 489.0h1M53.1 451.6h1M58.8 457.5h1M61.7 455.6h1M56.9 449.0h1M59.2 457.4h1M34.2 487.2h1M61.9 451.3h1M28.5 491.8h1M59.7 449.5h1M30.1 486.5h1M60.9 456.4h1M34.2 492.5h1M28.2 491.2h1M61.1 456.2h1M57.6 457.5h1M62.3 452.8h1M56.2 457.2h1M31.1 493.5h1M61.3 455.9h1M56.0 457.1h1M54.3 456.0h1M34.3 487.4h1M31.6 493.5h1M29.0 487.4h1M53.0 453.6h1M53.9 455.5h1M54.0 455.7h1M53.8 455.3h1M53.6 455.1h1M57.1 457.2h1M31.9 493.4h1M57.2 457.2h1M56.4 457.1h1M57.6 457.2h1M61.8 451.5h1M34.6 491.7h1M53.5 451.3h1M34.0 492.4h1M57.0 457.1h1"/>
<path stroke="rgb(54, 115, 199)" stroke-width="1" d="M34.9 488.8h1M54.4 455.9h1M59.1 457.0h1M61.7 455.0h1M55.9 449.4h1M55.3 456.4h1M28.2 490.1h1M59.5 449.5h1M59.6 456.7h1M53.4 454.3h1M34.5 491.7h1M59.6 456.7h1M55.4 449.7h1M59.6 456.6h1M31.9 493.3h1M35.0 490.2h1M29.7 492.7h1M53.4 451.9h1M28.4 491.1h1M61.7 454.6h1M59.1 456.8h1M30.4 486.8h1M28.5 488.8h1M56.8 449.3h1M29.8 487.1h1M31.1 493.2h1M59.9 456.3h1M61.8 452.3h1M54.8 450.2h1M61.9 453.2h1M34.7 488.9h1M60.2 456.0h1M34.0 487.6h1M29.4 492.3h1M28.4 489.6h1M32.6 486.8h1M54.3 455.3h1M53.8 451.4h1M57.1 456.7h1M58.7 449.5h1M53.6 451.8h1M30.3 487.0h1M54.2 455.1h1M60.0 456.0h1M32.7 492.9h1M34.7 489.2h1M61.2 451.2h1M53.9 454.5h1M53.6 452.2h1M54.8 455.6h1M53.5 453.4h1M34.6 489.0h1M55.0 450.2h1M57.2 449.5h1M55.8 449.8h1M58.8 456.4h1M58.1 449.5h1M32.8 492.8h1M61.6 452.4h1M61.3 451.6h1M55.1 450.2h1M32.9 492.7h1M34.7 489.9h1M58.5 456.4h1M53.9 454.3h1M59.4 456.1h1M33.9 491.9h1M60.3 450.5h1M59.3 456.1h1M59.6 450.0h1M31.0 492.9h1M55.8 449.9h1M59.2 456.1h1M32.9 487.2h1M54.6 455.1h1M53.7 452.5h1M29.0 491.5h1M34.4 491.0h1M33.6 492.1h1M33.5 492.2h1M32.8 492.7h1M60.9 451.2h1M61.4 453.9h1M54.4 454.9h1M57.6 456.3h1M61.5 452.6h1M60.4 455.3h1M56.9 449.6h1M34.4 490.9h1M58.9 449.8h1M34.1 488.3h1M59.1 456.0h1M58.9 456.1h1M54.1 451.5h1M28.7 489.3h1M31.9 492.8h1M58.2 456.2h1M30.0 492.3h1M34.5 490.2h1M56.4 456.0h1"/>
<path stroke="rgb(50, 122, 195)" stroke-width="1" d="M58.9 456.0h1M53.8 453.2h1M34.0 491.4h1M34.2 491.0h1M29.9 492.2h1M61.3 452.4h1M61.3 452.4h1M56.2 455.9h1M54.4 451.3h1M56.5 449.8h1M32.6 487.3h1M34.3 490.6h1M28.9 490.8h1M58.7 456.0h1M56.6 449.9h1M53.9 453.0h1M56.3 455.8h1M30.4 492.4h1M29.2 488.5h1M59.5 450.2h1M56.2 455.8h1M54.7 454.8h1M30.8 487.3h1M60.5 454.7h1M60.6 454.6h1M54.8 454.8h1M29.0 489.3h1M32.8 487.5h1M57.6 455.9h1M57.9 449.8h1M60.8 451.6h1M32.6 492.4h1M33.6 491.7h1M54.2 452.0h1M58.0 449.9h1M54.2 453.7h1M57.0 455.8h1M33.9 491.1h1M57.5 455.9h1M61.0 452.4h1M55.0 450.8h1M57.0 449.9h1M32.8 492.2h1M59.2 455.5h1M34.2 490.0h1M60.6 454.3h1M60.7 454.2h1M29.1 490.8h1M61.0 452.8h1M61.0 453.4h1M58.4 455.7h1M60.4 454.6h1M54.9 454.7h1M55.3 450.6h1M54.1 452.8h1M30.1 487.8h1M55.8 455.3h1M60.2 454.7h1M32.0 492.4h1M29.6 491.5h1M54.5 451.6h1M57.5 450.0h1M29.4 491.3h1M33.0 492.0h1M30.5 492.2h1M57.9 455.7h1M32.4 487.5h1M30.7 492.3h1M57.3 455.7h1M58.1 450.0h1M57.5 450.0h1M59.8 455.0h1M57.1 450.0h1M29.1 490.5h1M56.9 455.6h1M29.5 491.3h1M56.0 455.3h1M34.0 489.7h1M29.2 489.2h1M30.4 492.1h1M54.5 453.9h1M32.6 487.7h1M30.5 487.7h1M34.0 489.7h1M33.0 488.0h1M58.0 450.1h1M60.8 453.2h1M31.4 487.5h1M59.7 454.9h1M59.7 450.8h1M32.3 487.6h1M29.2 490.0h1M60.7 453.6h1M33.3 488.2h1M54.9 451.2h1M54.9 454.3h1M55.8 455.1h1M59.9 454.7h1M60.0 454.6h1M32.9 491.9h1M59.9 454.7h1M54.4 452.5h1M58.8 455.3h1M59.2 455.1h1M33.7 489.0h1M32.6 487.8h1M32.6 492.0h1M33.3 488.4h1M55.8 450.6h1M58.5 455.4h1M54.7 451.7h1M60.1 454.4h1M33.0 491.7h1M60.7 452.9h1M54.5 452.5h1M33.1 491.7h1M33.0 488.1h1"/>
<path stroke="rgb(46, 129, 191)" stroke-width="1" d="M30.0 491.7h1M54.8 454.0h1M30.3 488.0h1M29.3 490.0h1M54.7 451.8h1M33.8 490.0h1M29.4 490.4h1M32.0 487.7h1M60.4 453.8h1M60.1 454.2h1M32.8 491.8h1M30.6 487.9h1M31.4 492.2h1M58.2 455.3h1M31.7 487.7h1M56.2 455.1h1M54.6 452.6h1M55.2 454.4h1M55.5 451.0h1M55.0 451.6h1M32.4 491.9h1M60.5 453.1h1M57.0 450.3h1M32.4 488.0h1M60.2 453.9h1M30.1 488.4h1M55.1 451.4h1M58.5 450.4h1M56.8 455.2h1M29.5 490.0h1M29.7 491.0h1M29.8 491.0h1M31.0 487.9h1M29.6 489.1h1M33.0 488.5h1M59.4 454.6h1M60.1 453.9h1M60.3 453.1h1M29.5 489.9h1M60.0 451.6h1M57.3 455.1h1M59.5 451.1h1M57.1 455.1h1M55.9 454.6h1M33.1 488.6h1M60.3 452.5h1M29.6 489.8h1M58.6 454.9h1M32.3 488.1h1M55.8 451.0h1M56.1 450.8h1M33.4 489.1h1M59.0 450.8h1M57.0 455.1h1M60.2 453.4h1M57.4 450.5h1M55.1 453.7h1M55.6 451.1h1M54.9 453.2h1M58.2 450.5h1M56.4 454.8h1M54.9 452.4h1M55.5 454.2h1M30.0 491.0h1M30.1 488.7h1M32.2 491.7h1M55.5 454.2h1M30.5 491.5h1M31.4 491.8h1M32.2 488.2h1M30.0 488.8h1M32.8 488.5h1M56.7 450.6h1M57.6 450.5h1M56.7 450.6h1M54.9 452.5h1M56.0 451.0h1M55.3 453.8h1M31.7 491.8h1M57.9 455.0h1M57.4 450.5h1M32.2 491.7h1M32.6 488.5h1M58.2 454.9h1M31.9 488.1h1M55.4 451.5h1M31.0 491.7h1M31.7 488.1h1M55.1 453.4h1M55.1 453.5h1M59.5 454.1h1M30.5 491.4h1M29.9 489.2h1M30.9 488.3h1M30.1 488.9h1M56.4 454.7h1M57.1 454.9h1M31.8 488.2h1M57.6 450.6h1M60.1 452.5h1M59.8 453.8h1M56.2 450.9h1M32.9 488.8h1M33.3 490.0h1M30.0 489.2h1M56.6 450.8h1M55.1 452.5h1M31.0 488.3h1M55.2 453.5h1M59.6 453.9h1M59.7 453.8h1M33.1 490.7h1M59.4 454.2h1M57.2 454.8h1M31.1 488.3h1M55.7 454.1h1M55.5 451.5h1M55.1 452.5h1M55.5 453.8h1M55.2 453.3h1"/>
<path stroke="rgb(42, 136, 187)" stroke-width="1" d="M30.5 491.3h1M57.3 454.8h1M56.0 454.3h1M32.7 491.1h1M59.3 454.2h1M55.3 452.0h1M30.4 491.1h1M55.2 453.2h1M32.0 488.4h1M59.0 454.3h1M59.1 451.2h1M55.8 454.1h1M56.9 450.8h1M59.6 453.7h1M30.5 491.2h1M33.1 489.6h1M30.0 489.7h1M58.1 450.8h1M58.5 451.0h1M31.2 488.5h1M59.8 453.2h1M55.5 451.9h1M31.2 488.5h1M55.6 451.8h1M59.2 451.4h1M55.9 454.0h1M31.4 491.4h1M58.2 454.5h1M55.7 451.7h1M56.5 451.0h1M32.8 490.7h1M59.2 451.5h1M58.3 454.5h1M57.9 454.6h1M55.8 453.9h1M56.4 454.3h1M58.8 454.2h1M59.6 453.4h1M31.3 491.3h1M56.3 454.2h1M56.3 454.2h1M31.8 488.6h1M32.6 489.0h1M32.5 490.9h1M55.4 452.8h1M56.6 451.1h1M31.6 488.6h1M58.8 454.2h1M57.9 454.5h1M56.0 453.9h1M55.9 453.8h1M56.0 451.6h1M55.6 452.1h1M55.6 453.2h1M32.8 490.0h1M32.6 489.3h1M59.0 451.5h1M32.8 489.7h1M56.3 454.0h1M30.5 490.6h1M32.7 490.3h1M57.6 454.4h1M56.5 451.3h1M59.5 452.3h1M56.2 451.5h1M56.5 451.3h1M31.8 491.1h1M32.5 490.6h1M32.3 489.1h1M30.5 490.4h1M59.1 451.9h1M30.4 490.1h1M57.0 454.2h1M31.4 488.9h1M56.4 453.9h1M31.9 490.9h1M58.4 451.4h1M32.2 490.7h1M30.9 489.2h1M30.9 490.7h1M56.3 451.6h1M57.5 454.2h1M31.6 489.0h1M59.1 452.1h1M56.2 453.6h1M31.9 490.8h1M32.4 490.3h1M32.4 490.2h1M56.0 452.0h1M58.9 453.6h1M30.8 490.5h1M56.7 451.4h1M58.9 451.9h1"/>
<path stroke="rgb(37, 144, 175)" stroke-width="1" d="M57.0 454.0h1M31.2 489.2h1M57.4 454.1h1M30.9 490.4h1M57.9 454.0h1M58.8 453.5h1M30.8 490.3h1M30.9 490.5h1M59.0 452.1h1M58.5 451.6h1M58.4 451.5h1M30.8 489.7h1M32.3 489.7h1M32.1 490.4h1M32.3 489.7h1M31.0 490.4h1M57.3 454.0h1M58.7 453.5h1M31.2 489.4h1M31.8 490.5h1M31.9 489.5h1M58.9 453.2h1M56.6 451.7h1M31.0 490.1h1M57.0 451.6h1M31.7 490.3h1M31.9 490.1h1M31.9 489.8h1M31.6 489.6h1M58.5 453.5h1M56.7 453.6h1M56.2 452.6h1M56.3 453.0h1M31.6 490.1h1M31.6 490.0h1M58.5 453.4h1M58.3 451.8h1M57.5 451.6h1M56.9 453.6h1M58.1 453.6h1M56.4 453.1h1M58.0 451.7h1M56.8 451.9h1M58.6 452.2h1M57.5 453.7h1M58.4 452.0h1M58.4 453.4h1M58.1 451.8h1M58.5 453.1h1M56.7 453.2h1M58.3 452.1h1M56.6 453.0h1M56.8 453.2h1M57.5 453.5h1M58.3 453.1h1M56.7 452.6h1M56.7 452.8h1M56.8 453.0h1M58.3 452.7h1M57.5 452.0h1M58.1 453.1h1M57.1 453.1h1M57.9 452.2h1M57.7 452.1h1M58.0 452.3h1M58.1 452.8h1M57.9 452.3h1M57.3 453.1h1M57.6 452.2h1M57.3 452.3h1M57.2 452.8h1M57.8 452.8h1M57.5 452.4h1"/>
<path stroke="rgb(33, 152, 156)" stroke-width="1" d="M57.3 452.6h1"/>
</g>
<ellipse cx="57.8" cy="453.5" rx="13" ry="9" fill="url(#g11)" transform="rotate(-30 57.8 453.5)"/>
<ellipse cx="32" cy="489.9" rx="9.5" ry="9" fill="url(#g12)" transform="rotate(0 32 489.9)"/>
</g>
<rect x="23.1" y="436" width="14.5" height="16" fill="#fff"/>
<rect x="23.1" y="496" width="14.5" height="15" fill="#fff"/>
<text x="24.3" y="442.4" font-size="7.4" fill="#1e1e1e" >Q1</text>
<text x="24.3" y="451.1" font-size="7.4" fill="#1e1e1e" >8.84</text>
<text x="101" y="442.4" font-size="7.4" fill="#1e1e1e" text-anchor="end" >Q2</text>
<text x="101" y="451.1" font-size="7.4" fill="#1e1e1e" text-anchor="end" >44.2</text>
<text x="24.3" y="502.4" font-size="7.4" fill="#1e1e1e" >Q4</text>
<text x="24.3" y="510.5" font-size="7.4" fill="#1e1e1e" >28.1</text>
<text x="101" y="502.4" font-size="7.4" fill="#1e1e1e" text-anchor="end" >Q3</text>
<text x="101" y="510.5" font-size="7.4" fill="#1e1e1e" text-anchor="end" >18.8</text>
<line x1="45.5" y1="433.1" x2="45.5" y2="511.7" stroke="#1a1a1a" stroke-width="1.0"/>
<line x1="22.6" y1="474.2" x2="102.1" y2="474.2" stroke="#1a1a1a" stroke-width="1.0"/>
<rect x="22.6" y="433.1" width="79.5" height="78.6" fill="none" stroke="#1a1a1a" stroke-width="1.1"/>
<text x="62.8" y="428.5" font-size="8.6" fill="#e0603c" text-anchor="middle" >ITP</text>
<line x1="15.5" y1="338.9" x2="15.5" y2="492" stroke="#1a1a1a" stroke-width="1.1"/>
<text transform="translate(16.2,502.5) rotate(-90)" x="0" y="0" font-size="8.0" fill="#1e1e1e" text-anchor="middle" textLength="18" lengthAdjust="spacingAndGlyphs" >IFN&#947;</text>
<text x="22" y="522" font-size="8.0" fill="#1e1e1e" textLength="18.4" lengthAdjust="spacingAndGlyphs" >TNF&#945;</text>
<line x1="41.1" y1="520" x2="101.7" y2="520" stroke="#1a1a1a" stroke-width="1.1"/>
<polygon points="232.2,57.3 240,55 247,52 254,51 260,53 266,54.5 272,52.5 277,51 281,48 284,44 284.5,40 282.5,35 283.5,29.5 290,27.4 297,30 301,35 305,41.5 309,48.3 312,54 314.5,60 316.5,68 319,73 316,77.7 310,79 303.5,80 296.5,81.2 291.9,82.3 288,80 285,75 282,69 279.5,64 278,71 278.5,79 276.5,83.5 274,83.5 272,79.5 271.8,72 271.5,64.5 270,63.5 263,67.7 257.3,74.6 248,79 240,79.8 232.2,79.8" fill="#fbf3f4"/>
<path stroke="#e0bec5" stroke-width="1" d="M284.6 29.0h1M286.8 29.0h1M288.8 28.9h1M290.4 28.9h1M292.2 28.7h1M293.9 29.1h1M284.4 30.6h1M285.7 30.3h1M287.6 30.3h1M289.6 30.7h1M291.1 30.4h1M292.6 30.3h1M295.1 30.4h1M296.5 30.5h1M283.8 31.8h1M284.9 31.6h1M286.7 32.0h1M288.2 31.8h1M290.1 31.7h1M292.3 32.4h1M294.2 31.9h1M295.2 31.8h1M297.3 31.9h1M282.4 33.8h1M283.8 33.2h1M286.4 33.6h1M288.0 33.5h1M289.0 33.5h1M291.3 33.1h1M292.9 33.9h1M294.3 33.1h1M296.1 33.7h1M298.6 33.2h1M283.8 35.1h1M285.2 34.8h1M287.2 35.5h1M288.4 35.0h1M289.9 35.2h1M292.2 34.8h1M294.1 35.1h1M296.0 35.3h1M297.0 34.8h1M299.4 34.6h1M300.5 35.4h1M284.3 36.4h1M286.0 36.8h1M287.6 36.5h1M289.1 36.3h1M290.8 36.1h1M292.6 36.9h1M294.9 36.6h1M296.7 36.2h1M298.1 36.6h1M300.3 36.6h1M283.4 37.7h1M285.4 38.5h1M287.1 38.2h1M288.8 38.5h1M290.7 37.9h1M292.2 37.7h1M294.2 37.7h1M295.4 38.1h1M297.1 38.0h1M298.9 38.2h1M300.8 38.4h1M284.2 39.4h1M286.2 39.3h1M287.7 39.5h1M289.8 39.7h1M291.3 39.3h1M292.6 39.7h1M295.1 39.2h1M296.4 39.5h1M297.8 39.7h1M299.9 39.6h1M302.0 39.7h1M303.2 40.0h1M285.1 41.3h1M287.3 41.1h1M288.5 40.7h1M290.3 41.4h1M291.7 41.1h1M294.2 41.5h1M295.1 40.9h1M297.1 41.5h1M299.3 40.9h1M300.7 41.3h1M302.1 40.8h1M284.2 42.9h1M285.6 42.4h1M287.3 43.1h1M289.7 42.3h1M291.5 42.6h1M292.5 42.2h1M294.5 42.2h1M296.2 42.2h1M297.9 42.3h1M299.9 42.9h1M302.0 42.7h1M303.1 43.0h1M304.8 42.2h1M284.6 44.0h1M286.8 43.7h1M288.1 43.7h1M290.4 43.7h1M292.5 44.3h1M294.0 43.7h1M295.6 43.9h1M297.7 44.0h1M298.8 44.1h1M300.7 43.8h1M302.8 43.9h1M304.7 44.4h1M284.1 45.8h1M286.2 45.5h1M288.1 46.0h1M289.8 45.6h1M291.3 45.6h1M292.6 45.5h1M295.0 45.4h1M296.4 45.8h1M298.1 45.7h1M300.0 45.3h1M301.3 45.7h1M303.6 45.7h1M305.6 45.4h1M306.6 46.0h1M281.8 47.6h1M283.5 47.1h1M284.8 46.9h1M286.6 47.6h1M288.5 47.2h1M290.3 46.8h1M292.2 46.7h1M293.9 47.0h1M296.0 47.3h1M297.3 46.8h1M298.9 47.0h1M301.2 47.2h1M302.6 47.2h1M304.2 47.3h1M306.0 47.2h1M280.7 48.5h1M282.8 48.7h1M284.6 49.0h1M286.2 48.4h1M287.4 48.6h1M289.9 48.4h1M290.8 48.4h1M292.7 48.8h1M294.4 48.9h1M296.5 48.8h1M298.5 48.6h1M300.4 48.7h1M301.8 49.0h1M303.3 49.0h1M304.8 48.7h1M307.0 48.3h1M308.8 49.1h1M278.4 49.8h1M279.4 50.7h1M281.1 50.0h1M283.5 50.3h1M285.0 50.6h1M286.5 50.3h1M288.9 50.6h1M290.0 50.3h1M291.8 50.1h1M293.5 49.9h1M296.0 50.1h1M297.3 50.4h1M299.4 50.5h1M300.9 50.6h1M302.4 50.5h1M303.9 50.4h1M306.3 50.4h1M308.0 50.7h1M309.3 50.2h1M250.6 51.6h1M253.1 51.7h1M254.4 51.7h1M255.8 52.1h1M275.5 51.7h1M277.4 51.8h1M278.8 51.9h1M280.8 51.6h1M282.2 52.1h1M284.2 51.6h1M286.3 51.6h1M287.4 51.5h1M289.3 52.0h1M291.0 52.1h1M292.6 51.7h1M294.9 52.2h1M296.7 51.6h1M298.0 51.3h1M299.7 51.4h1M301.8 51.4h1M303.0 52.0h1M304.8 51.8h1M306.5 51.7h1M309.1 51.6h1M244.7 53.7h1M246.8 53.4h1M248.0 53.1h1M250.0 53.3h1M251.8 53.3h1M253.8 53.2h1M255.3 52.9h1M257.5 53.4h1M258.5 53.1h1M260.7 53.4h1M261.9 53.7h1M269.1 53.5h1M271.4 53.2h1M272.6 52.8h1M275.0 52.9h1M276.5 53.6h1M277.9 53.0h1M279.7 53.4h1M281.9 53.1h1M283.3 53.3h1M284.8 52.9h1M287.0 53.1h1M288.2 53.1h1M290.0 53.1h1M291.8 53.4h1M293.7 53.1h1M295.8 53.2h1M297.4 53.5h1M298.7 53.5h1M301.0 53.6h1M302.6 53.4h1M304.1 53.1h1M305.7 52.8h1M307.6 53.1h1M309.3 52.8h1M310.9 53.7h1M242.4 55.1h1M244.4 55.0h1M246.0 54.9h1M247.8 55.2h1M249.2 54.6h1M250.9 54.8h1M252.4 55.1h1M254.8 54.5h1M256.1 54.8h1M257.6 54.4h1M259.8 54.6h1M261.7 55.0h1M263.1 54.8h1M264.9 55.0h1M266.5 55.1h1M268.6 54.8h1M270.0 54.9h1M272.3 54.4h1M274.1 55.0h1M275.2 54.4h1M277.2 54.4h1M279.3 54.8h1M280.6 54.4h1M282.5 55.0h1M284.3 55.2h1M286.2 55.0h1M287.7 54.8h1M289.5 55.2h1M291.5 54.5h1M292.6 55.0h1M294.5 54.7h1M296.2 54.4h1M297.9 55.0h1M300.0 54.8h1M301.9 55.0h1M303.2 54.4h1M304.8 54.4h1M307.0 54.5h1M308.9 54.4h1M310.6 54.7h1M236.2 56.8h1M237.5 56.5h1M239.7 56.3h1M241.7 56.0h1M242.9 56.6h1M245.2 56.6h1M246.4 56.3h1M248.1 56.6h1M250.5 56.5h1M251.5 56.4h1M253.9 56.7h1M255.3 56.5h1M257.3 56.2h1M259.0 56.4h1M260.6 56.2h1M262.3 56.2h1M264.2 56.4h1M265.9 56.1h1M267.8 56.3h1M269.0 56.2h1M270.8 56.5h1M272.5 55.9h1M274.4 56.0h1M276.4 55.9h1M277.7 56.2h1M279.7 56.0h1M281.8 56.6h1M283.3 56.4h1M284.8 56.6h1M286.4 56.1h1M288.7 56.0h1M290.4 56.4h1M292.0 56.6h1M293.7 56.2h1M295.9 56.6h1M297.7 55.9h1M299.1 55.9h1M300.8 56.5h1M302.8 56.1h1M304.3 56.0h1M306.1 56.3h1M308.3 56.4h1M309.8 56.0h1M311.4 56.2h1M233.0 57.5h1M235.5 57.5h1M236.9 57.8h1M238.7 57.5h1M240.3 58.0h1M241.9 57.8h1M244.1 57.6h1M245.3 57.4h1M247.9 57.4h1M248.9 58.1h1M250.6 57.5h1M252.9 58.3h1M254.9 58.0h1M256.2 57.9h1M258.2 57.7h1M259.9 58.0h1M261.1 58.1h1M263.3 57.6h1M265.2 57.6h1M266.7 58.0h1M268.4 57.9h1M270.6 58.1h1M271.9 58.0h1M273.7 58.2h1M275.0 57.9h1M277.5 58.3h1M278.7 57.4h1M281.0 57.6h1M282.2 57.9h1M284.3 58.1h1M285.8 57.7h1M288.1 57.8h1M289.1 57.9h1M291.2 57.4h1M292.8 57.7h1M295.0 58.0h1M296.8 58.2h1M298.6 58.0h1M299.7 57.8h1M301.7 58.3h1M303.8 58.0h1M305.5 57.5h1M306.9 57.8h1M308.7 57.5h1M310.3 58.1h1M312.4 58.1h1M232.8 59.4h1M234.0 59.3h1M236.4 59.6h1M237.8 59.0h1M239.8 59.4h1M241.1 58.9h1M242.7 59.0h1M244.8 59.2h1M246.8 59.4h1M248.5 59.3h1M250.1 59.7h1M252.2 58.9h1M253.8 59.1h1M255.5 59.4h1M256.8 59.5h1M258.6 59.6h1M260.9 59.3h1M261.9 59.6h1M264.4 59.2h1M266.0 59.5h1M267.5 59.1h1M269.2 59.2h1M271.3 59.4h1M273.0 59.8h1M274.9 59.6h1M276.3 59.5h1M277.9 59.3h1M279.5 59.2h1M281.6 59.1h1M283.7 59.3h1M285.2 59.2h1M286.9 59.8h1M288.6 59.2h1M290.8 59.8h1M292.2 59.0h1M293.4 59.1h1M295.7 59.3h1M297.4 59.4h1M299.2 59.3h1M300.4 59.3h1M302.9 59.5h1M304.1 59.2h1M306.0 59.1h1M307.4 59.7h1M309.9 59.1h1M311.5 59.0h1M312.8 59.4h1M233.9 60.6h1M234.9 60.7h1M236.9 60.8h1M238.5 60.9h1M240.2 60.9h1M242.3 61.2h1M243.6 60.7h1M245.8 61.3h1M247.1 61.0h1M249.2 60.9h1M250.5 60.8h1M252.5 60.9h1M254.2 61.2h1M256.4 61.3h1M257.8 60.9h1M259.8 60.5h1M261.1 60.8h1M263.2 60.5h1M264.9 60.5h1M266.4 61.1h1M268.6 61.2h1M270.4 61.1h1M272.0 60.5h1M273.9 60.6h1M275.6 61.3h1M277.5 61.3h1M278.8 60.9h1M280.7 61.0h1M282.9 60.5h1M284.1 60.9h1M286.0 60.6h1M287.7 61.3h1M289.2 60.5h1M291.2 61.0h1M293.4 61.2h1M294.7 61.1h1M296.2 61.3h1M298.6 60.7h1M300.2 60.6h1M301.3 61.0h1M303.9 61.0h1M305.4 60.7h1M307.3 60.5h1M308.5 61.2h1M310.8 61.2h1M312.4 60.6h1M313.8 61.0h1M232.4 62.0h1M233.9 62.6h1M236.0 62.1h1M237.4 62.4h1M240.0 62.8h1M241.5 62.7h1M242.9 62.1h1M244.8 62.9h1M246.4 62.8h1M248.5 62.7h1M249.9 62.3h1M251.5 62.4h1M253.2 62.8h1M255.1 62.2h1M256.7 62.7h1M258.6 62.2h1M260.8 62.4h1M262.1 62.7h1M263.6 62.7h1M266.0 62.6h1M267.3 62.4h1M269.4 62.0h1M271.5 62.5h1M272.5 62.4h1M275.0 62.8h1M276.4 62.2h1M278.2 62.3h1M279.9 62.7h1M281.8 62.4h1M283.7 62.7h1M284.9 62.8h1M286.4 62.0h1M288.8 62.4h1M290.5 62.0h1M291.7 62.4h1M293.6 62.5h1M295.6 62.4h1M297.7 62.1h1M299.3 62.5h1M300.9 62.2h1M302.9 62.8h1M304.6 62.5h1M306.5 62.7h1M307.8 62.5h1M310.0 62.0h1M311.7 62.3h1M313.3 62.4h1M314.5 62.1h1M233.9 64.2h1M235.5 63.6h1M237.1 64.2h1M239.0 64.3h1M240.5 63.6h1M241.9 64.4h1M243.8 63.6h1M245.8 64.3h1M247.0 63.5h1M248.9 64.0h1M250.9 63.6h1M252.7 64.1h1M254.2 63.9h1M255.8 64.3h1M258.0 64.0h1M259.8 64.1h1M261.2 64.2h1M263.2 63.8h1M265.1 63.8h1M266.5 64.0h1M270.3 63.9h1M271.8 63.5h1M273.6 64.2h1M275.2 63.9h1M277.3 63.9h1M278.9 63.9h1M280.8 64.0h1M282.4 64.3h1M284.1 64.2h1M285.8 63.6h1M287.7 63.6h1M289.8 64.3h1M290.9 64.2h1M292.6 63.8h1M294.5 63.6h1M296.1 64.4h1M297.8 64.4h1M299.7 64.0h1M301.3 64.2h1M303.0 64.2h1M304.8 64.1h1M306.9 64.4h1M308.4 63.6h1M310.7 64.3h1M311.8 63.8h1M313.6 63.8h1M232.7 65.1h1M233.9 65.4h1M235.6 65.1h1M237.9 65.6h1M239.6 65.5h1M241.2 65.4h1M243.2 65.5h1M244.7 65.6h1M246.3 65.7h1M248.0 65.8h1M250.1 65.3h1M251.9 65.9h1M254.0 65.1h1M255.6 65.6h1M257.2 65.1h1M258.7 65.2h1M260.7 65.1h1M262.1 65.8h1M263.9 65.0h1M271.2 65.2h1M272.6 65.1h1M274.8 65.3h1M276.3 65.1h1M278.2 65.8h1M279.9 65.3h1M281.8 65.6h1M283.4 65.2h1M284.9 65.1h1M287.1 65.5h1M288.8 65.6h1M290.0 65.2h1M291.8 65.9h1M293.5 65.3h1M295.5 65.5h1M296.9 65.4h1M298.8 65.9h1M300.7 65.2h1M302.5 65.3h1M304.5 65.6h1M306.2 65.6h1M308.0 65.5h1M309.2 65.1h1M311.7 65.2h1M313.5 65.3h1M314.4 65.5h1M233.9 66.6h1M235.1 67.1h1M236.7 67.3h1M238.6 66.9h1M240.3 66.8h1M242.0 66.7h1M244.4 66.6h1M245.5 66.9h1M247.4 67.1h1M248.8 67.2h1M251.0 67.1h1M252.4 66.7h1M254.7 66.9h1M256.4 67.3h1M258.0 66.8h1M260.0 66.6h1M261.3 67.3h1M263.6 66.7h1M271.6 67.4h1M274.1 66.8h1M275.2 66.9h1M277.2 66.8h1M281.1 67.1h1M282.5 67.4h1M284.6 67.0h1M286.2 66.8h1M288.0 67.3h1M289.5 67.0h1M291.3 67.4h1M293.2 66.8h1M294.9 67.3h1M296.4 67.4h1M298.2 67.0h1M300.1 66.6h1M301.7 66.9h1M303.9 66.9h1M305.2 67.0h1M306.5 66.7h1M309.1 66.6h1M310.4 67.0h1M311.8 67.4h1M314.1 67.3h1M315.7 67.4h1M232.4 68.6h1M234.5 68.8h1M235.9 68.9h1M237.8 68.2h1M239.6 68.1h1M241.3 68.1h1M243.4 68.8h1M244.4 68.8h1M246.9 68.8h1M248.3 68.8h1M250.5 68.9h1M251.6 68.1h1M253.9 68.3h1M255.4 68.4h1M257.1 68.8h1M258.5 68.7h1M260.9 68.5h1M272.8 68.1h1M274.6 68.7h1M276.3 68.4h1M278.1 68.2h1M281.5 68.9h1M283.7 68.3h1M284.7 68.8h1M286.8 68.1h1M288.7 68.2h1M290.5 68.9h1M292.3 68.8h1M293.4 68.7h1M295.6 68.7h1M297.4 68.9h1M298.6 68.7h1M301.2 68.5h1M302.9 69.0h1M304.8 68.8h1M306.5 68.2h1M307.9 68.6h1M309.5 68.5h1M311.0 68.2h1M313.5 68.1h1M315.0 68.7h1M231.9 70.4h1M233.8 70.3h1M235.1 70.0h1M236.9 70.1h1M238.7 69.7h1M240.3 69.7h1M242.6 69.6h1M243.7 70.2h1M246.1 69.6h1M247.5 70.2h1M249.0 70.0h1M250.6 70.4h1M252.7 70.4h1M254.3 69.9h1M256.3 70.1h1M257.7 69.9h1M259.4 70.5h1M272.0 69.9h1M273.3 69.7h1M275.2 70.2h1M277.6 70.2h1M282.2 70.1h1M284.1 69.8h1M286.2 69.6h1M287.4 69.6h1M289.1 69.7h1M291.4 70.2h1M293.1 70.0h1M294.4 69.7h1M296.7 70.5h1M298.6 70.0h1M300.2 70.0h1M301.3 69.6h1M303.1 70.4h1M305.6 70.4h1M307.1 70.1h1M308.9 69.9h1M310.9 69.6h1M312.6 70.3h1M314.2 70.2h1M315.9 70.0h1M232.6 71.8h1M234.1 71.4h1M235.8 72.0h1M238.1 71.8h1M240.0 71.6h1M241.3 71.5h1M243.0 71.3h1M244.5 71.6h1M247.0 71.3h1M248.4 71.8h1M249.7 71.1h1M251.9 71.9h1M253.4 71.3h1M255.4 71.2h1M256.9 71.2h1M258.4 71.7h1M271.3 71.9h1M272.9 71.8h1M274.2 71.6h1M276.6 71.1h1M283.4 71.6h1M284.9 71.5h1M286.7 71.3h1M288.7 71.7h1M290.6 71.9h1M292.4 71.6h1M294.1 71.4h1M296.0 71.8h1M297.4 71.3h1M299.5 71.2h1M301.0 71.4h1M302.4 71.2h1M304.7 71.4h1M305.7 71.5h1M307.8 71.4h1M309.8 71.2h1M311.1 71.4h1M313.4 71.5h1M314.8 71.9h1M316.4 71.5h1M231.7 73.5h1M233.5 73.4h1M234.8 73.4h1M237.4 73.4h1M238.3 72.8h1M240.0 72.9h1M242.0 73.3h1M243.8 72.8h1M245.5 72.8h1M247.9 73.2h1M248.8 73.1h1M250.8 73.1h1M252.8 72.7h1M254.6 72.8h1M256.2 73.2h1M271.9 72.8h1M273.8 73.0h1M275.1 73.5h1M277.0 73.2h1M283.8 73.5h1M285.7 72.8h1M287.6 73.3h1M289.5 72.9h1M291.0 72.8h1M293.0 72.8h1M294.7 72.8h1M296.8 72.8h1M298.3 73.0h1M299.7 73.2h1M301.5 73.5h1M303.8 73.5h1M305.4 73.5h1M307.0 72.8h1M308.4 72.8h1M310.0 73.0h1M312.2 73.0h1M313.6 73.4h1M316.1 73.3h1M317.0 73.0h1M232.7 74.3h1M234.6 74.5h1M236.1 74.3h1M237.8 74.3h1M239.8 74.5h1M241.7 74.3h1M243.3 74.2h1M244.6 74.3h1M246.3 74.8h1M248.0 74.2h1M250.2 74.4h1M251.5 74.7h1M253.7 74.5h1M255.0 74.6h1M256.7 74.5h1M273.1 74.5h1M275.0 74.6h1M276.4 74.6h1M277.7 74.2h1M285.5 74.5h1M286.5 74.9h1M288.1 74.2h1M290.3 74.6h1M292.1 74.5h1M293.7 74.8h1M295.2 74.9h1M296.9 74.2h1M298.6 74.7h1M300.9 74.8h1M302.5 74.4h1M303.9 74.6h1M305.9 74.5h1M308.1 74.2h1M309.8 74.2h1M311.1 74.9h1M313.3 74.2h1M315.0 74.2h1M316.6 74.3h1M233.5 75.7h1M235.0 76.2h1M237.1 76.5h1M238.3 75.7h1M240.1 76.0h1M242.5 76.2h1M244.1 76.3h1M245.7 75.9h1M247.1 76.1h1M249.5 76.4h1M251.2 76.0h1M252.8 76.5h1M271.8 76.0h1M273.6 75.8h1M275.1 76.3h1M276.8 76.5h1M286.2 76.2h1M287.7 75.9h1M289.8 76.0h1M291.4 76.4h1M292.8 76.0h1M295.0 75.9h1M296.7 76.3h1M297.8 76.2h1M299.6 76.3h1M301.4 76.5h1M303.3 75.7h1M304.9 76.1h1M306.8 76.3h1M309.0 76.0h1M310.8 76.3h1M312.4 75.8h1M314.0 76.5h1M315.7 76.3h1M232.4 77.5h1M234.6 77.9h1M236.5 77.4h1M237.9 77.3h1M239.6 77.5h1M241.6 77.5h1M242.9 77.3h1M244.6 77.5h1M246.2 77.7h1M248.6 78.0h1M249.7 77.3h1M272.8 77.9h1M274.8 77.2h1M276.4 77.4h1M286.8 77.4h1M288.8 77.8h1M290.0 77.4h1M292.4 77.6h1M294.0 77.8h1M296.0 77.8h1M297.7 77.2h1M299.0 77.3h1M300.5 77.9h1M302.5 78.0h1M304.5 77.6h1M305.7 77.4h1M308.2 77.7h1M309.4 77.8h1M311.7 77.6h1M312.6 77.2h1M314.5 77.4h1M233.3 79.5h1M235.6 79.3h1M237.2 79.0h1M239.0 79.6h1M240.4 79.6h1M242.2 79.0h1M244.0 79.0h1M246.1 78.8h1M247.2 79.0h1M272.4 78.9h1M274.1 79.4h1M275.2 79.4h1M277.3 79.4h1M288.0 78.9h1M289.8 79.1h1M291.5 79.2h1M292.6 79.5h1M295.0 79.5h1M296.4 79.3h1M297.9 79.2h1M300.1 79.1h1M301.8 79.3h1M303.0 79.4h1M305.6 79.4h1M306.8 78.9h1M308.5 79.0h1M272.4 80.5h1M274.8 80.4h1M276.7 80.5h1M290.4 80.9h1M291.6 80.3h1M293.8 80.3h1M295.3 80.5h1M297.5 80.6h1M299.0 80.7h1M273.4 81.9h1M275.6 82.1h1"/>
<polygon points="287.7,88 291,84.5 296.5,81.5 303.5,80.2 310.4,79 316.2,77.7 319.6,73.1 324.6,71.2 332.3,70.4 335.4,74.2 336,85 333.8,94.2 327.7,95.8 321.5,94.2 315.4,91.2 306,88 298.5,86.5 290.8,88" fill="#fbfaea"/>
<path stroke="#e0dbae" stroke-width="1" d="M330.9 70.6h1M324.8 71.7h1M326.4 71.7h1M327.9 72.1h1M330.2 72.0h1M332.0 72.1h1M319.0 73.6h1M320.8 73.8h1M321.8 73.6h1M324.3 73.8h1M325.3 73.5h1M327.9 73.4h1M329.6 73.9h1M331.2 73.4h1M332.3 73.9h1M318.0 74.8h1M319.9 74.7h1M321.4 75.4h1M323.5 75.3h1M324.9 74.6h1M326.9 75.1h1M328.0 75.3h1M329.6 75.0h1M331.4 74.8h1M333.9 75.3h1M319.1 76.5h1M320.3 76.2h1M322.5 76.1h1M323.6 76.1h1M325.5 76.6h1M327.0 76.5h1M328.8 76.6h1M330.9 76.6h1M332.5 76.5h1M334.6 76.9h1M315.7 77.7h1M317.9 78.2h1M319.5 77.7h1M321.2 77.9h1M323.1 78.4h1M325.2 78.0h1M326.7 77.9h1M328.2 78.3h1M329.9 77.8h1M331.6 77.8h1M333.7 78.4h1M308.5 79.8h1M309.7 79.2h1M311.7 79.6h1M313.8 79.1h1M315.4 79.4h1M317.3 79.5h1M318.9 79.5h1M320.1 79.7h1M322.2 79.4h1M323.9 79.2h1M325.8 79.4h1M327.3 79.3h1M329.1 79.7h1M330.7 79.3h1M332.3 79.5h1M334.5 79.8h1M300.1 80.9h1M302.0 81.1h1M303.9 81.5h1M305.6 80.8h1M306.9 81.0h1M309.3 81.2h1M310.5 81.2h1M312.4 81.4h1M314.5 81.3h1M316.2 80.6h1M318.1 80.7h1M319.1 80.6h1M321.1 81.5h1M323.0 80.9h1M324.7 80.7h1M326.6 81.5h1M328.6 81.5h1M329.7 80.9h1M331.9 80.6h1M333.2 81.0h1M335.2 80.7h1M294.4 82.8h1M295.6 82.4h1M297.5 82.9h1M299.9 82.3h1M301.1 82.2h1M302.5 83.0h1M304.8 82.3h1M306.5 82.4h1M308.6 82.7h1M309.9 82.6h1M311.3 82.2h1M313.3 82.2h1M315.4 82.7h1M316.7 82.5h1M318.9 82.2h1M320.2 82.2h1M322.2 82.9h1M323.7 82.8h1M325.7 82.6h1M327.7 82.9h1M329.0 82.6h1M331.1 82.3h1M332.6 82.1h1M334.4 82.8h1M291.8 84.0h1M293.4 84.1h1M295.4 84.2h1M296.5 83.8h1M298.4 84.4h1M300.5 84.4h1M302.2 84.1h1M303.8 84.5h1M305.6 84.1h1M307.6 83.8h1M308.9 84.4h1M310.5 83.8h1M312.3 84.5h1M314.8 83.8h1M316.0 83.9h1M317.7 83.9h1M319.7 84.3h1M321.0 83.7h1M322.8 84.2h1M325.0 84.4h1M326.6 83.7h1M328.4 84.4h1M330.0 84.5h1M332.2 83.9h1M333.9 83.8h1M290.5 85.9h1M292.3 85.3h1M294.5 85.5h1M295.6 85.6h1M297.8 85.9h1M299.7 85.5h1M301.6 85.9h1M302.8 85.3h1M304.8 85.4h1M306.5 85.9h1M307.9 85.6h1M309.8 85.7h1M311.6 85.5h1M313.6 85.6h1M315.5 85.3h1M317.4 85.3h1M318.4 85.9h1M320.7 85.9h1M322.4 85.5h1M324.0 85.4h1M325.8 85.8h1M327.4 85.7h1M329.2 86.0h1M331.0 85.5h1M332.5 85.9h1M334.0 85.5h1M290.0 87.4h1M291.8 86.8h1M293.0 87.0h1M302.2 87.2h1M303.4 87.1h1M305.4 86.9h1M307.1 86.7h1M309.1 87.5h1M311.0 87.0h1M312.6 87.6h1M314.2 87.5h1M316.0 86.8h1M317.9 87.0h1M319.3 87.3h1M321.6 87.3h1M323.5 86.8h1M324.4 87.6h1M326.7 87.1h1M328.5 87.2h1M330.1 87.1h1M331.4 86.9h1M333.6 87.5h1M308.5 88.4h1M309.9 89.1h1M311.3 88.7h1M313.6 88.6h1M315.4 88.3h1M317.2 88.6h1M318.7 88.5h1M320.4 88.3h1M321.8 88.6h1M324.3 89.1h1M325.3 88.7h1M327.6 88.6h1M329.0 89.0h1M330.9 88.7h1M332.5 89.0h1M334.1 88.3h1M312.5 90.0h1M314.5 90.3h1M316.3 90.6h1M317.4 89.9h1M319.3 90.0h1M320.9 90.2h1M322.8 90.4h1M324.6 90.1h1M326.3 89.9h1M328.0 90.5h1M330.3 90.6h1M331.9 89.9h1M333.4 89.8h1M317.0 91.3h1M318.9 91.3h1M320.4 91.9h1M321.8 91.3h1M324.2 91.7h1M326.1 92.0h1M327.4 91.8h1M328.8 91.7h1M331.4 91.3h1M332.5 91.3h1M319.4 93.2h1M321.3 92.9h1M323.5 93.0h1M324.7 93.0h1M326.6 93.5h1M328.6 92.9h1M330.4 93.1h1M332.1 93.0h1M333.5 92.9h1M324.4 94.6h1M325.9 94.6h1M327.6 95.2h1M328.9 94.4h1"/>
<polygon points="263,104 270,100.5 280,99.6 290,100 297,103 299,110 298,117 292,121 280,121.5 270,120 264,116 262,110" fill="#f1f6f7"/>
<path stroke="#c0d3d8" stroke-width="1" d="M278.6 100.0h1M282.2 100.0h1M271.2 101.1h1M272.7 101.0h1M274.5 101.2h1M276.4 101.2h1M278.1 101.4h1M280.3 101.5h1M281.6 101.6h1M283.7 101.0h1M285.0 101.4h1M287.0 100.8h1M289.0 100.9h1M290.2 101.5h1M292.1 101.3h1M265.3 102.9h1M267.0 102.3h1M268.3 102.7h1M270.6 103.1h1M272.3 102.4h1M273.8 103.0h1M275.4 102.5h1M277.6 102.7h1M278.9 102.3h1M280.8 102.3h1M282.3 102.6h1M284.1 102.7h1M285.6 103.1h1M287.9 102.5h1M289.9 102.3h1M291.3 102.5h1M292.6 102.8h1M294.8 102.8h1M263.7 103.7h1M265.5 104.6h1M267.9 104.4h1M269.3 104.4h1M270.7 104.5h1M273.2 104.5h1M274.7 104.2h1M276.7 104.6h1M278.0 104.0h1M279.8 104.5h1M281.2 104.0h1M283.5 104.5h1M285.4 104.5h1M286.9 104.6h1M288.8 104.3h1M290.0 104.0h1M292.1 104.0h1M293.6 103.8h1M296.0 104.1h1M263.4 105.7h1M265.1 106.1h1M266.8 105.3h1M268.4 105.7h1M270.6 105.6h1M271.6 105.9h1M274.1 106.0h1M275.8 105.5h1M277.6 105.8h1M279.0 105.9h1M280.6 105.5h1M282.8 105.5h1M284.1 105.4h1M286.4 106.0h1M288.0 106.0h1M289.2 105.6h1M290.8 106.1h1M292.7 105.5h1M294.7 105.5h1M296.9 105.8h1M262.8 107.2h1M264.3 107.3h1M265.5 107.1h1M267.2 107.1h1M269.1 107.3h1M271.2 107.3h1M272.6 107.6h1M274.8 107.5h1M276.5 107.0h1M278.3 107.3h1M280.0 107.5h1M281.5 107.2h1M283.5 107.4h1M285.4 106.9h1M287.1 107.3h1M289.0 107.0h1M290.5 107.2h1M292.2 107.0h1M294.0 107.1h1M295.4 107.1h1M263.7 108.5h1M265.0 108.4h1M266.6 108.8h1M268.4 108.3h1M270.2 109.1h1M272.3 108.4h1M273.6 109.1h1M275.1 108.6h1M277.5 108.5h1M278.9 108.5h1M281.0 108.7h1M282.1 108.9h1M284.0 108.4h1M286.2 108.9h1M288.1 108.4h1M289.6 108.8h1M291.6 109.0h1M293.0 108.8h1M295.1 108.6h1M296.4 108.4h1M262.7 110.0h1M263.8 110.5h1M265.9 110.5h1M267.2 110.1h1M269.4 110.4h1M271.0 109.9h1M273.0 110.2h1M274.8 110.0h1M276.8 110.1h1M278.5 110.6h1M280.1 109.9h1M281.7 110.3h1M283.4 110.1h1M284.7 110.3h1M286.5 110.3h1M288.8 110.0h1M290.6 110.2h1M292.4 110.3h1M294.2 110.5h1M295.4 110.0h1M297.3 110.4h1M263.6 112.1h1M264.7 112.2h1M267.1 111.4h1M268.7 111.7h1M270.0 111.6h1M272.3 111.4h1M273.3 112.0h1M275.9 111.4h1M277.3 112.1h1M279.3 112.0h1M281.2 112.0h1M282.4 112.0h1M284.1 112.0h1M285.6 112.1h1M287.4 111.4h1M289.3 111.7h1M291.3 112.0h1M293.0 112.1h1M294.8 111.5h1M296.9 111.5h1M262.6 112.9h1M264.2 113.7h1M266.2 112.9h1M268.0 113.1h1M269.3 113.6h1M270.8 113.5h1M273.0 113.2h1M274.3 113.6h1M276.6 113.4h1M277.7 113.1h1M280.2 113.7h1M281.3 113.0h1M283.7 113.4h1M284.8 113.3h1M286.8 113.0h1M288.9 112.9h1M290.8 113.2h1M292.3 112.9h1M293.5 113.1h1M295.4 113.4h1M297.3 113.1h1M263.7 115.0h1M265.1 114.7h1M266.6 115.0h1M268.9 115.2h1M270.7 114.7h1M272.2 114.6h1M273.4 115.3h1M275.1 115.0h1M277.5 115.2h1M279.0 114.8h1M280.7 114.4h1M282.6 114.6h1M284.0 115.1h1M285.7 115.0h1M287.4 115.2h1M289.2 115.0h1M291.6 115.1h1M293.0 114.4h1M294.5 114.9h1M296.2 115.2h1M264.2 116.0h1M265.7 116.4h1M267.9 116.1h1M269.2 116.7h1M271.4 116.5h1M273.1 116.5h1M274.5 115.9h1M276.7 116.5h1M277.8 116.6h1M279.6 116.0h1M281.9 116.0h1M283.0 116.7h1M285.3 116.1h1M287.2 116.1h1M288.9 116.6h1M290.0 116.4h1M292.5 116.3h1M293.9 116.6h1M296.0 116.2h1M266.5 118.0h1M268.2 117.4h1M269.9 117.8h1M272.3 117.7h1M273.8 117.4h1M275.7 118.2h1M277.0 117.5h1M278.7 117.5h1M280.8 117.8h1M282.3 117.9h1M284.0 117.8h1M286.0 117.9h1M287.5 117.5h1M289.5 117.5h1M291.3 117.6h1M293.2 117.8h1M294.7 118.3h1M269.7 119.2h1M270.7 119.3h1M272.7 118.9h1M274.9 119.0h1M276.5 119.8h1M277.9 119.6h1M279.5 119.7h1M281.8 119.1h1M283.6 119.0h1M285.1 119.8h1M287.0 119.7h1M288.7 119.7h1M290.3 119.3h1M291.7 119.7h1M293.5 119.1h1M275.9 120.5h1M277.2 121.0h1M279.2 120.7h1M280.9 121.0h1M282.2 121.1h1M284.3 121.0h1M289.3 120.7h1M291.3 120.7h1"/>
<polygon points="286,99 293,97 299,99 300,106 296,110 289,109" fill="#f6f0f4"/>
<path stroke="#d2c0cc" stroke-width="1" d="M292.8 97.2h1M287.8 98.6h1M289.5 98.3h1M291.4 98.3h1M293.7 98.3h1M295.0 98.3h1M287.2 100.2h1M288.7 100.0h1M290.3 100.4h1M292.4 100.2h1M293.9 100.1h1M295.8 100.2h1M297.5 100.2h1M288.5 101.4h1M289.7 101.5h1M291.7 101.8h1M293.5 101.2h1M295.1 101.4h1M296.6 101.2h1M298.7 101.5h1M287.3 102.7h1M289.4 103.2h1M291.2 103.3h1M292.6 102.7h1M294.1 103.5h1M296.3 103.3h1M297.5 103.0h1M288.2 104.7h1M289.8 104.3h1M291.5 104.9h1M293.3 104.2h1M295.2 104.3h1M296.9 104.7h1M298.3 104.6h1M288.8 106.2h1M290.5 106.2h1M292.2 105.7h1M293.9 106.4h1M296.1 106.5h1M297.8 106.0h1M288.4 107.7h1M289.9 107.9h1M292.0 107.4h1M293.4 108.1h1M295.6 107.5h1M297.3 107.3h1M292.5 109.5h1M294.0 108.8h1M296.1 109.2h1"/>
<polygon points="300,96 306,93 312,94 318,97 318,101 312,104 305,105 300,102" fill="#eff6f0"/>
<path stroke="#a9cdb7" stroke-width="1" d="M308.1 93.4h1M303.6 94.9h1M305.9 94.1h1M307.6 94.4h1M309.0 94.3h1M310.7 94.7h1M312.8 94.7h1M299.6 96.4h1M300.8 96.5h1M302.7 95.9h1M304.6 95.7h1M306.3 96.0h1M308.4 96.4h1M310.3 96.0h1M312.0 96.4h1M313.4 95.8h1M315.0 96.3h1M300.5 97.6h1M301.7 97.8h1M304.1 97.2h1M305.2 97.6h1M307.0 97.9h1M308.7 97.3h1M310.5 97.5h1M312.7 97.9h1M314.2 97.9h1M316.0 97.6h1M317.4 97.5h1M301.7 98.7h1M302.6 99.1h1M304.6 98.9h1M306.4 99.4h1M308.1 99.0h1M310.0 98.7h1M311.7 98.8h1M313.4 99.3h1M315.3 99.3h1M316.6 99.1h1M300.2 100.8h1M302.3 100.3h1M304.2 101.0h1M305.2 100.5h1M307.0 101.0h1M309.3 100.4h1M311.2 101.0h1M313.0 100.3h1M314.2 101.0h1M316.0 100.5h1M299.7 102.0h1M301.0 102.0h1M302.8 102.2h1M304.4 102.0h1M306.3 101.8h1M308.3 102.4h1M310.2 102.3h1M311.9 101.8h1M313.4 102.5h1M315.6 101.9h1M302.4 103.6h1M304.2 103.3h1M306.0 103.6h1M307.8 103.4h1M309.3 103.2h1M311.1 104.0h1"/>
<polygon points="318.5,98.8 326,97.5 333,97 336,100 336.5,108 335,115 330,116 322,114 318,108 317,102" fill="#f1f1f1"/>
<path stroke="#ababab" stroke-width="1" d="M330.4 97.2h1M332.1 97.3h1M320.6 98.5h1M322.7 98.2h1M324.5 98.8h1M325.7 98.9h1M328.3 98.9h1M329.2 98.7h1M331.8 98.9h1M332.8 98.6h1M318.2 99.7h1M320.1 100.4h1M321.5 99.9h1M323.1 99.7h1M325.2 100.4h1M327.4 100.3h1M328.9 100.4h1M330.1 100.0h1M332.4 100.0h1M333.8 100.3h1M317.4 101.5h1M319.3 101.7h1M321.0 102.0h1M322.2 101.3h1M324.1 102.0h1M326.3 101.4h1M327.9 102.0h1M330.0 101.3h1M331.7 101.8h1M333.4 101.5h1M334.7 101.7h1M317.9 103.4h1M320.2 103.1h1M322.2 103.4h1M323.4 102.8h1M325.4 102.7h1M326.8 103.3h1M328.4 103.0h1M330.6 103.4h1M332.5 103.3h1M334.0 103.2h1M335.5 102.8h1M317.4 104.4h1M319.3 104.8h1M321.0 105.0h1M322.7 104.2h1M324.1 105.0h1M326.3 104.9h1M327.6 104.6h1M329.9 105.0h1M331.8 104.8h1M333.0 104.4h1M335.2 104.8h1M318.6 106.6h1M320.4 106.1h1M321.3 106.5h1M323.8 106.6h1M325.1 106.4h1M326.8 105.9h1M328.6 106.3h1M330.5 106.1h1M332.3 105.7h1M334.1 105.9h1M317.7 108.0h1M318.8 108.0h1M321.2 107.4h1M322.3 107.7h1M324.5 108.0h1M326.3 107.5h1M328.3 107.5h1M329.3 107.8h1M331.4 107.7h1M333.2 107.9h1M334.6 107.7h1M319.9 109.3h1M321.4 108.8h1M323.9 108.8h1M325.4 108.8h1M327.4 109.3h1M329.0 109.0h1M330.7 109.5h1M332.4 109.0h1M333.7 109.1h1M320.6 110.8h1M322.6 110.4h1M324.2 110.5h1M325.8 111.1h1M327.5 110.4h1M329.2 110.3h1M331.0 110.4h1M333.5 110.7h1M335.3 110.4h1M321.4 111.8h1M323.2 112.5h1M325.1 111.9h1M327.3 112.5h1M328.3 112.5h1M330.7 112.4h1M331.9 112.2h1M334.4 112.4h1M322.5 113.4h1M324.3 114.2h1M326.0 114.1h1M328.3 114.1h1M330.0 113.3h1M331.3 114.0h1M333.4 113.7h1M327.0 115.3h1M329.2 115.6h1M330.3 114.9h1M332.0 114.9h1M333.9 114.9h1"/>
<polygon points="359.5,58.1 364.8,51.7 371.2,49.6 379.6,43.3 391.3,43.3 392.3,49.6 384.9,56 379.6,62.3 381.7,67.6 389.1,70.8 386,75 377.5,74 371.2,70.8 364.8,71.8 360.6,76 359.5,68.7" fill="#f7f7f7"/>
<path stroke="#c6c6c6" stroke-width="1" d="M380.3 43.4h1M381.8 43.7h1M388.8 43.7h1M390.7 43.3h1M377.8 44.8h1M379.4 45.1h1M381.1 45.0h1M382.4 44.6h1M384.4 44.7h1M385.9 44.8h1M387.8 45.1h1M389.7 44.6h1M375.2 46.4h1M376.6 46.4h1M378.6 46.3h1M380.4 46.5h1M382.0 46.2h1M383.3 46.4h1M385.2 46.5h1M386.7 46.2h1M388.4 46.2h1M390.5 46.5h1M374.1 47.9h1M375.3 47.6h1M377.7 48.0h1M379.4 48.0h1M380.6 48.3h1M382.8 47.6h1M384.5 47.8h1M385.8 47.9h1M388.0 47.5h1M389.2 47.9h1M391.2 48.2h1M371.5 49.7h1M372.7 49.2h1M374.8 49.7h1M376.3 49.5h1M378.4 49.8h1M380.1 49.1h1M382.1 49.7h1M383.5 49.4h1M384.9 49.5h1M387.0 49.0h1M388.3 49.4h1M390.2 49.8h1M368.5 51.3h1M370.0 51.1h1M372.6 50.6h1M373.5 50.6h1M375.6 50.7h1M377.0 51.0h1M379.2 50.7h1M380.5 50.5h1M382.5 50.8h1M384.8 51.2h1M386.0 50.9h1M387.9 50.6h1M389.6 50.5h1M364.6 52.4h1M365.9 52.1h1M367.6 52.6h1M369.6 52.2h1M371.6 52.3h1M373.3 52.7h1M375.1 52.5h1M376.9 52.6h1M378.2 52.6h1M380.3 52.9h1M381.4 52.0h1M383.6 52.6h1M384.8 52.8h1M387.0 52.3h1M388.7 52.3h1M363.4 53.8h1M365.5 53.7h1M367.0 54.2h1M368.6 54.1h1M370.1 53.8h1M372.4 54.3h1M373.5 54.1h1M375.5 54.1h1M377.1 54.1h1M379.3 53.6h1M381.1 53.8h1M382.7 54.1h1M384.5 53.7h1M386.2 54.3h1M361.1 55.6h1M362.8 55.1h1M364.0 55.1h1M366.1 55.7h1M367.6 55.2h1M369.6 55.8h1M371.5 55.9h1M372.9 55.4h1M374.8 55.1h1M376.8 55.3h1M378.0 55.3h1M380.2 55.3h1M381.9 55.2h1M383.5 55.0h1M360.2 57.3h1M362.0 56.6h1M363.7 56.7h1M365.1 56.7h1M367.3 56.8h1M369.0 57.2h1M370.4 56.9h1M372.3 57.1h1M374.3 57.4h1M375.8 57.3h1M377.5 56.7h1M379.2 56.6h1M380.5 57.1h1M382.7 56.6h1M361.2 58.2h1M362.6 58.3h1M364.5 58.7h1M366.2 58.8h1M367.4 58.8h1M369.6 58.3h1M371.2 58.9h1M373.0 58.3h1M374.4 58.5h1M376.8 58.4h1M378.6 58.6h1M380.1 58.9h1M381.9 58.7h1M360.1 59.6h1M361.6 59.7h1M363.2 60.2h1M364.9 59.9h1M366.5 59.7h1M368.8 60.4h1M370.4 60.3h1M371.9 60.3h1M374.1 59.8h1M376.0 60.1h1M377.2 59.6h1M378.9 60.2h1M380.9 59.7h1M361.1 61.2h1M362.3 61.4h1M363.9 61.6h1M366.4 61.9h1M367.8 61.5h1M369.8 61.8h1M371.0 61.6h1M372.8 62.0h1M374.6 61.6h1M376.9 61.7h1M378.5 61.4h1M359.6 63.1h1M361.9 62.8h1M363.4 63.0h1M365.5 63.2h1M366.5 63.0h1M368.2 63.4h1M370.3 63.1h1M372.5 62.9h1M373.4 63.5h1M376.1 63.3h1M377.5 62.7h1M378.9 62.7h1M359.2 64.5h1M360.7 65.0h1M362.4 64.2h1M364.6 65.0h1M366.3 64.5h1M368.0 64.2h1M369.7 64.5h1M370.9 64.7h1M372.8 64.8h1M374.4 64.4h1M376.5 64.2h1M378.7 65.0h1M380.1 64.9h1M359.8 65.7h1M362.1 66.1h1M363.3 66.3h1M365.5 65.7h1M367.3 66.2h1M368.4 66.2h1M370.2 65.9h1M372.0 66.3h1M374.1 66.4h1M375.3 66.3h1M377.5 66.2h1M379.5 65.8h1M359.3 68.0h1M360.9 68.0h1M362.7 67.4h1M364.2 67.3h1M365.6 68.1h1M367.7 68.0h1M369.6 67.7h1M371.0 67.8h1M373.4 67.9h1M374.5 68.1h1M376.6 67.4h1M378.1 67.4h1M379.9 67.6h1M360.3 68.9h1M361.8 69.5h1M363.8 69.2h1M364.7 69.0h1M367.1 69.2h1M368.4 69.1h1M370.6 69.2h1M372.0 69.0h1M374.3 69.2h1M375.7 69.5h1M377.6 69.3h1M379.1 69.5h1M381.1 69.1h1M383.1 68.9h1M384.0 68.8h1M360.9 70.5h1M362.8 70.8h1M363.9 70.9h1M366.1 71.0h1M367.9 71.1h1M369.4 70.3h1M371.4 70.3h1M373.3 71.1h1M374.7 71.1h1M376.9 71.0h1M378.4 70.8h1M379.6 71.0h1M381.9 70.9h1M383.7 70.7h1M384.9 70.9h1M360.2 71.9h1M361.5 72.3h1M363.5 72.3h1M375.4 72.5h1M377.5 72.5h1M379.2 71.9h1M380.7 72.0h1M383.0 72.7h1M384.5 72.3h1M386.0 72.1h1M360.8 74.1h1M378.0 74.0h1M379.6 74.0h1M381.6 73.5h1M383.9 73.6h1M385.2 73.4h1"/>
<polygon points="397,46 402.5,45.5 403.2,49.4 402.5,58.9 399.3,68.3 394.6,76.2 391.4,82.5 396,86 400.1,90.5 399.3,99.7 396.2,106 391.4,113.9 386.7,120.6 380.4,120.8 378.9,117 375.7,110.8 371,102.9 368.6,96.6 369.4,90.3 372.6,85.6 378.9,79.3 385.2,73 391.4,65.2 396.2,55.7" fill="#f4f4ef"/>
<path stroke="#a3a391" stroke-width="1" d="M397.6 45.9h1M396.6 47.4h1M398.5 47.1h1M400.4 47.4h1M402.1 47.1h1M396.3 48.8h1M398.1 48.6h1M400.0 48.9h1M401.4 48.3h1M397.2 49.9h1M398.7 50.0h1M400.1 50.2h1M401.9 50.1h1M396.1 51.6h1M397.8 51.2h1M399.2 52.0h1M401.6 51.6h1M396.6 53.3h1M398.4 53.3h1M400.5 52.8h1M402.2 53.2h1M396.5 55.1h1M398.0 54.7h1M399.7 55.0h1M401.1 54.9h1M396.6 56.1h1M399.1 55.8h1M400.8 56.0h1M395.7 57.6h1M398.3 57.9h1M400.0 57.5h1M401.7 57.3h1M395.3 59.4h1M397.2 59.3h1M398.6 59.5h1M400.7 59.3h1M394.1 60.4h1M396.2 61.0h1M398.0 60.6h1M399.5 61.0h1M393.7 62.3h1M394.9 62.6h1M396.8 62.3h1M399.1 62.5h1M400.1 62.0h1M392.9 63.6h1M394.0 64.2h1M395.8 63.8h1M397.6 64.2h1M399.7 63.9h1M391.9 65.7h1M393.1 65.6h1M395.0 65.2h1M396.8 65.7h1M398.8 65.2h1M389.5 67.0h1M390.5 66.9h1M392.7 67.2h1M394.1 67.3h1M396.4 66.7h1M398.3 66.6h1M388.5 68.3h1M389.9 68.3h1M391.8 68.4h1M393.3 68.3h1M395.1 67.9h1M396.7 68.0h1M398.5 68.5h1M389.4 70.1h1M390.9 70.1h1M392.9 69.5h1M394.3 70.0h1M396.1 69.9h1M397.6 70.0h1M386.9 71.4h1M388.3 71.0h1M390.0 71.2h1M392.0 71.0h1M393.6 71.4h1M395.5 71.3h1M385.7 72.8h1M387.6 72.9h1M388.9 73.2h1M391.3 72.6h1M392.6 73.3h1M394.2 73.1h1M384.6 74.6h1M386.0 74.5h1M388.0 74.3h1M389.6 74.1h1M391.5 74.8h1M393.6 74.4h1M381.9 75.8h1M384.0 75.8h1M385.9 76.1h1M387.3 76.0h1M388.8 75.8h1M390.5 75.9h1M392.5 75.9h1M381.2 77.6h1M383.0 77.7h1M385.0 77.3h1M386.1 77.6h1M387.8 77.2h1M389.8 77.8h1M391.6 77.6h1M393.3 77.4h1M379.0 79.2h1M380.1 78.9h1M381.9 79.2h1M384.0 78.6h1M385.3 78.6h1M387.7 79.0h1M389.3 78.7h1M390.9 79.4h1M392.4 79.0h1M379.3 80.3h1M381.2 80.7h1M382.6 80.8h1M385.1 80.1h1M386.7 80.6h1M388.3 80.2h1M390.1 80.9h1M391.4 80.3h1M377.0 82.2h1M378.4 82.3h1M380.4 81.9h1M382.4 81.7h1M383.8 82.1h1M385.6 81.7h1M387.0 81.6h1M388.9 81.7h1M390.7 81.7h1M376.4 83.8h1M377.9 83.8h1M379.6 84.0h1M381.1 83.4h1M383.4 83.8h1M384.5 83.9h1M386.2 83.4h1M388.6 84.0h1M390.0 83.9h1M391.8 83.9h1M375.5 84.9h1M376.7 84.7h1M378.8 85.2h1M380.7 85.5h1M382.5 85.3h1M384.0 85.4h1M385.4 85.1h1M387.7 84.9h1M389.4 85.0h1M390.7 84.9h1M392.6 85.5h1M394.3 85.2h1M372.2 86.5h1M374.6 86.7h1M376.0 86.7h1M377.4 86.6h1M379.4 86.7h1M381.6 86.4h1M382.6 86.7h1M384.8 86.5h1M386.8 86.4h1M388.1 86.4h1M389.6 86.2h1M391.8 86.3h1M393.8 86.6h1M395.5 86.2h1M371.7 88.1h1M373.7 88.0h1M374.8 88.2h1M377.1 88.2h1M379.0 87.8h1M380.2 87.9h1M382.0 87.8h1M383.5 87.9h1M386.0 88.2h1M386.9 87.8h1M389.2 88.4h1M391.0 88.5h1M392.3 88.4h1M394.7 88.2h1M396.5 88.5h1M370.6 90.1h1M372.6 89.3h1M373.9 89.8h1M375.6 89.9h1M377.4 89.9h1M379.4 89.5h1M380.9 89.5h1M383.3 89.5h1M385.2 89.8h1M386.0 90.0h1M388.5 90.0h1M389.7 89.6h1M391.6 89.4h1M393.4 89.9h1M395.6 89.5h1M397.3 89.5h1M398.5 89.7h1M369.7 91.4h1M371.3 91.5h1M373.0 91.3h1M375.3 91.5h1M377.1 91.3h1M378.2 90.8h1M380.6 91.2h1M382.0 91.4h1M384.2 90.9h1M385.6 91.6h1M387.7 91.0h1M389.3 91.6h1M390.7 91.1h1M393.0 90.9h1M394.6 91.1h1M396.5 91.3h1M398.1 90.9h1M399.2 91.0h1M369.3 92.6h1M371.1 92.2h1M372.4 92.7h1M373.9 92.8h1M375.9 92.6h1M377.6 92.9h1M379.2 92.9h1M381.3 92.4h1M382.7 92.9h1M384.6 92.7h1M386.7 92.6h1M388.5 92.4h1M390.4 92.3h1M391.4 92.4h1M393.7 93.1h1M395.6 92.7h1M396.6 93.1h1M398.4 92.7h1M370.0 94.3h1M371.5 94.7h1M372.9 94.3h1M375.0 94.4h1M376.7 94.7h1M378.5 94.1h1M380.7 94.3h1M382.0 94.3h1M383.7 94.4h1M385.6 94.2h1M387.0 94.0h1M388.8 94.2h1M390.7 94.5h1M392.3 93.8h1M394.8 94.5h1M395.9 94.6h1M397.8 93.8h1M369.2 95.6h1M370.8 95.8h1M372.5 95.9h1M374.6 96.1h1M376.2 95.5h1M377.4 95.9h1M379.6 95.5h1M381.1 95.5h1M382.7 96.0h1M384.4 96.2h1M386.7 96.0h1M388.0 96.0h1M389.8 95.8h1M391.5 95.3h1M393.4 95.8h1M395.0 96.1h1M396.8 95.7h1M398.9 95.5h1M369.4 97.3h1M371.2 97.3h1M373.2 96.8h1M375.5 97.4h1M376.6 97.4h1M378.4 97.1h1M380.5 97.6h1M381.7 96.9h1M383.7 96.8h1M385.5 97.2h1M387.1 97.3h1M388.9 97.0h1M390.5 97.0h1M392.8 96.8h1M394.3 97.2h1M396.4 97.0h1M397.6 97.4h1M370.5 98.9h1M372.6 99.2h1M374.5 98.8h1M375.6 99.1h1M377.8 99.0h1M379.4 98.6h1M380.9 98.9h1M383.3 98.5h1M384.6 98.4h1M386.9 98.6h1M388.2 98.9h1M390.0 98.8h1M391.5 98.4h1M393.1 98.9h1M395.3 98.9h1M397.3 98.9h1M369.8 100.0h1M371.6 100.7h1M373.1 100.6h1M374.9 100.7h1M376.6 100.4h1M378.4 100.4h1M380.7 100.0h1M381.8 100.0h1M384.0 100.0h1M385.2 100.5h1M387.4 100.7h1M389.2 100.5h1M390.9 100.5h1M393.0 100.4h1M394.0 99.9h1M396.4 100.0h1M398.3 100.0h1M370.6 101.7h1M372.0 102.2h1M374.3 102.2h1M376.4 101.5h1M377.8 102.0h1M379.4 102.0h1M380.9 101.4h1M383.1 101.7h1M384.7 101.6h1M386.5 102.3h1M388.2 101.4h1M390.3 101.8h1M391.9 101.5h1M393.2 101.4h1M395.3 101.4h1M397.0 101.9h1M371.9 103.0h1M373.6 103.3h1M375.1 103.3h1M377.3 103.4h1M378.2 102.9h1M380.4 103.4h1M381.7 102.9h1M383.5 103.3h1M385.9 103.2h1M387.3 103.2h1M388.8 103.4h1M391.0 103.0h1M392.5 103.0h1M394.6 103.0h1M396.0 103.6h1M372.6 104.9h1M374.3 104.6h1M376.4 105.3h1M377.7 104.5h1M379.2 104.5h1M381.5 105.3h1M382.6 105.1h1M384.9 105.1h1M386.4 104.8h1M388.1 104.7h1M390.2 104.6h1M391.3 104.5h1M393.8 104.9h1M395.2 104.4h1M373.4 106.3h1M375.3 106.0h1M377.0 106.3h1M378.3 106.3h1M380.3 106.0h1M382.3 106.7h1M383.6 106.6h1M385.2 106.8h1M387.8 106.4h1M388.7 106.8h1M390.4 106.1h1M392.4 106.2h1M394.8 106.7h1M374.6 108.3h1M375.7 108.0h1M377.5 108.0h1M379.3 107.9h1M381.0 108.3h1M383.4 108.0h1M384.9 108.3h1M386.0 108.2h1M388.4 108.0h1M389.9 108.1h1M391.4 107.8h1M393.2 107.7h1M374.8 109.8h1M376.9 109.2h1M379.0 109.7h1M380.4 109.7h1M382.0 109.6h1M384.2 109.7h1M386.0 109.6h1M387.3 109.7h1M389.3 109.0h1M390.9 109.8h1M392.2 109.7h1M375.6 111.4h1M377.6 111.3h1M379.5 111.2h1M381.2 110.6h1M383.0 110.7h1M384.8 110.8h1M386.2 111.0h1M387.9 110.6h1M389.9 110.6h1M391.6 110.7h1M376.5 112.8h1M378.3 112.3h1M380.4 112.1h1M382.3 112.5h1M384.2 112.7h1M386.0 112.1h1M386.9 112.7h1M389.3 112.7h1M390.9 112.4h1M377.3 114.4h1M379.1 113.9h1M380.8 114.1h1M382.6 114.2h1M384.6 114.2h1M386.7 114.2h1M388.6 114.0h1M389.9 114.2h1M378.9 115.7h1M380.5 115.5h1M382.0 116.0h1M383.7 115.6h1M385.8 115.5h1M387.7 115.5h1M389.0 115.5h1M379.1 117.3h1M381.2 117.3h1M383.2 116.9h1M384.7 117.2h1M386.4 116.8h1M387.8 116.9h1M380.2 118.6h1M382.0 119.0h1M383.8 119.0h1M385.3 118.6h1M387.2 118.7h1M380.9 119.7h1M383.3 120.5h1M384.8 119.8h1"/>
<polygon points="404.7,30.5 411,30 418.6,30.5 424.1,36.1 429.7,43 433.8,51.3 436.6,56.9 440.7,58.3 446.3,56.2 450.4,58.3 454.6,66.6 460.1,74.9 462.9,81.8 461.5,87.4 456,92.9 450.4,95.7 446.3,90.2 443.5,83.2 439.4,74.9 435.9,69.4 433.8,72.1 431,76.3 428.3,79.1 418.6,76.3 408.9,77.7 405.4,73.5 404.5,50" fill="#fbf3f4"/>
<path stroke="#e0bec5" stroke-width="1" d="M407.7 30.4h1M410.6 30.2h1M405.3 31.1h1M407.0 31.2h1M408.1 31.7h1M410.3 31.8h1M411.7 31.7h1M413.3 31.3h1M415.2 31.9h1M417.3 31.2h1M419.0 31.5h1M405.6 33.2h1M407.4 33.3h1M409.3 33.1h1M411.1 33.0h1M413.0 33.2h1M414.9 33.1h1M415.8 33.3h1M418.3 33.5h1M419.4 32.9h1M405.0 34.5h1M406.4 34.1h1M407.9 35.0h1M410.6 34.3h1M411.6 34.8h1M413.6 34.9h1M415.4 34.5h1M417.1 34.7h1M418.7 34.7h1M420.8 35.0h1M404.3 35.9h1M405.8 35.9h1M407.4 36.0h1M408.8 35.8h1M410.9 35.8h1M412.5 35.8h1M414.7 35.9h1M416.6 36.2h1M417.8 36.5h1M420.1 36.2h1M421.2 36.0h1M423.1 36.2h1M404.9 37.5h1M406.9 38.0h1M408.2 37.4h1M409.8 37.9h1M412.1 38.1h1M413.6 37.9h1M415.7 37.9h1M417.5 37.6h1M419.2 37.2h1M420.8 37.4h1M422.6 37.4h1M423.7 37.8h1M404.3 38.7h1M405.6 39.5h1M407.4 39.0h1M409.5 39.0h1M411.3 38.8h1M412.9 39.4h1M414.9 39.2h1M415.9 39.2h1M417.7 38.7h1M420.1 39.5h1M421.9 39.2h1M423.0 39.5h1M425.0 39.4h1M404.9 40.6h1M406.5 40.5h1M408.6 40.3h1M410.4 40.2h1M411.9 40.9h1M413.2 40.8h1M415.3 40.7h1M417.5 40.4h1M419.3 40.4h1M420.7 41.0h1M422.6 40.5h1M424.1 40.4h1M425.8 40.3h1M405.8 41.8h1M407.5 42.5h1M409.6 42.0h1M411.4 42.5h1M413.0 42.2h1M414.6 42.0h1M416.7 42.5h1M418.0 41.9h1M419.8 42.1h1M421.5 42.4h1M422.8 42.4h1M424.9 42.1h1M426.4 42.1h1M428.3 42.1h1M404.4 43.6h1M406.9 43.4h1M408.7 44.0h1M409.9 43.3h1M411.7 44.0h1M413.9 43.8h1M415.5 44.1h1M416.9 43.7h1M418.7 44.0h1M421.1 43.6h1M422.2 43.7h1M424.1 43.8h1M426.3 43.9h1M427.8 43.4h1M429.1 43.6h1M404.4 44.9h1M406.1 44.8h1M407.5 45.0h1M409.4 44.8h1M411.4 45.3h1M412.7 45.1h1M414.4 44.8h1M415.8 45.4h1M418.0 45.5h1M419.9 45.4h1M421.5 45.3h1M423.3 44.9h1M424.9 45.2h1M426.5 45.1h1M428.3 45.1h1M404.5 46.9h1M406.3 47.0h1M408.7 47.0h1M410.2 46.7h1M411.6 46.4h1M413.7 46.7h1M415.1 47.2h1M417.6 47.1h1M419.3 46.7h1M420.8 47.1h1M422.7 46.6h1M424.0 46.5h1M425.7 46.9h1M427.5 46.8h1M429.6 46.3h1M431.0 46.8h1M404.4 48.0h1M405.7 48.7h1M407.3 48.4h1M409.6 48.4h1M410.7 48.6h1M412.7 48.7h1M414.9 47.8h1M416.0 48.4h1M418.0 48.6h1M419.7 48.0h1M421.3 48.4h1M423.3 47.9h1M424.9 48.2h1M426.7 48.5h1M428.3 47.8h1M429.8 48.3h1M404.8 49.4h1M407.1 50.1h1M408.5 50.2h1M410.3 49.8h1M412.3 49.8h1M413.6 50.0h1M415.6 50.2h1M417.4 49.4h1M418.8 49.8h1M420.5 50.1h1M422.1 49.5h1M423.8 49.4h1M425.8 49.3h1M427.2 49.9h1M429.0 49.9h1M431.4 49.7h1M405.4 51.4h1M407.8 51.0h1M409.6 51.6h1M410.8 50.9h1M412.7 51.7h1M414.5 50.9h1M415.8 51.0h1M418.4 51.6h1M419.9 51.7h1M421.4 51.3h1M423.0 51.3h1M424.7 51.5h1M426.6 51.3h1M428.5 51.4h1M430.1 51.0h1M431.8 51.4h1M405.1 52.8h1M406.9 52.6h1M408.4 52.6h1M409.8 53.1h1M411.7 52.9h1M414.0 53.2h1M415.0 53.2h1M416.9 52.5h1M419.2 53.2h1M420.4 52.8h1M422.2 52.4h1M424.5 53.1h1M425.8 53.2h1M427.9 53.3h1M429.3 52.7h1M431.3 52.9h1M432.8 53.1h1M404.2 54.6h1M405.7 54.7h1M407.8 54.0h1M409.5 54.4h1M411.4 54.8h1M412.3 54.3h1M414.7 54.1h1M416.1 54.8h1M418.2 54.3h1M419.6 54.6h1M421.4 54.6h1M423.3 54.6h1M424.8 54.5h1M427.1 54.1h1M428.1 54.6h1M430.4 54.6h1M431.7 54.6h1M434.1 54.4h1M405.0 55.5h1M406.5 55.8h1M408.6 56.1h1M410.5 55.9h1M412.2 55.8h1M413.5 55.7h1M415.4 56.1h1M417.3 56.0h1M418.5 56.0h1M420.7 55.6h1M422.5 55.7h1M424.0 56.0h1M426.0 55.8h1M427.9 55.6h1M429.8 56.3h1M430.9 55.5h1M433.2 56.3h1M434.2 55.7h1M406.0 57.5h1M407.4 57.1h1M409.2 57.6h1M410.9 57.6h1M412.6 57.1h1M414.8 57.0h1M416.0 57.7h1M417.7 57.7h1M419.7 57.1h1M421.6 57.3h1M423.7 57.2h1M424.8 57.7h1M427.1 57.8h1M428.6 57.5h1M430.1 57.2h1M432.1 57.3h1M433.4 57.0h1M435.6 57.6h1M444.2 57.2h1M445.8 57.0h1M447.6 57.9h1M405.1 59.2h1M407.0 59.2h1M408.5 59.0h1M410.2 58.9h1M411.6 58.7h1M413.8 58.7h1M415.5 59.1h1M417.2 59.3h1M419.1 58.7h1M421.0 58.7h1M422.0 58.7h1M423.7 59.0h1M425.7 59.1h1M427.9 59.2h1M429.6 58.5h1M430.8 58.5h1M432.5 59.1h1M434.6 58.9h1M436.1 58.8h1M438.2 58.9h1M439.7 59.2h1M441.6 58.7h1M443.3 58.8h1M444.7 58.7h1M447.0 58.5h1M448.4 59.4h1M405.9 60.5h1M407.1 60.3h1M408.8 60.7h1M411.1 60.4h1M412.8 60.8h1M414.4 60.5h1M416.1 60.8h1M418.3 60.4h1M420.1 60.4h1M421.2 60.9h1M422.9 60.8h1M425.2 60.2h1M426.7 60.5h1M428.6 60.1h1M430.7 60.3h1M431.6 60.3h1M433.8 60.6h1M435.9 60.2h1M437.1 60.9h1M439.0 60.4h1M440.8 60.8h1M442.6 60.3h1M444.7 60.6h1M445.7 60.2h1M447.5 60.3h1M449.5 60.6h1M405.3 62.3h1M406.8 61.6h1M408.5 62.0h1M409.9 62.2h1M412.0 61.7h1M413.3 62.2h1M415.1 62.2h1M416.9 62.1h1M418.7 61.6h1M420.6 61.9h1M422.0 62.4h1M424.3 62.4h1M426.2 62.0h1M427.2 62.1h1M429.4 61.6h1M431.3 62.2h1M432.9 62.2h1M434.3 61.5h1M436.4 62.3h1M437.7 62.0h1M440.2 61.6h1M441.4 62.4h1M443.8 62.3h1M445.2 62.1h1M447.0 61.9h1M448.9 62.4h1M450.6 62.0h1M405.7 63.4h1M407.3 63.7h1M409.6 63.6h1M411.3 63.1h1M413.1 63.2h1M414.6 63.4h1M416.3 63.3h1M418.3 63.4h1M419.6 63.8h1M421.2 63.8h1M423.4 63.4h1M425.2 63.1h1M426.7 63.4h1M428.8 63.5h1M429.9 63.1h1M432.2 63.2h1M433.6 63.4h1M435.1 63.4h1M437.7 63.7h1M438.9 63.8h1M440.5 63.5h1M442.1 63.8h1M444.3 63.5h1M445.7 63.7h1M447.5 63.3h1M449.4 63.5h1M451.4 63.6h1M452.6 63.9h1M404.6 64.7h1M406.7 65.0h1M408.2 64.7h1M410.3 64.9h1M411.8 64.8h1M413.9 65.0h1M415.1 65.2h1M416.8 65.2h1M419.1 65.4h1M420.6 64.9h1M422.5 64.7h1M424.0 64.8h1M426.0 65.0h1M427.3 64.8h1M429.5 65.3h1M431.0 64.6h1M433.0 64.8h1M434.7 65.2h1M436.2 64.7h1M437.9 65.4h1M440.2 65.3h1M441.3 64.8h1M443.1 65.1h1M445.3 65.1h1M446.8 64.8h1M448.3 65.2h1M449.9 65.2h1M452.2 65.2h1M405.6 66.4h1M407.2 66.2h1M408.8 66.3h1M411.2 66.6h1M412.7 66.5h1M414.7 66.7h1M416.6 66.8h1M418.1 66.4h1M419.6 66.9h1M421.7 66.7h1M423.2 66.6h1M425.2 66.9h1M426.7 67.0h1M428.6 66.7h1M430.4 66.8h1M431.7 66.4h1M433.8 66.9h1M435.5 66.2h1M436.9 66.3h1M438.9 66.4h1M441.0 66.4h1M442.6 66.4h1M444.2 66.7h1M445.7 66.6h1M448.1 66.3h1M449.6 66.7h1M450.9 66.4h1M452.7 66.9h1M404.9 67.8h1M406.3 67.7h1M408.7 68.0h1M409.8 68.4h1M412.2 68.1h1M413.4 67.7h1M415.2 68.2h1M417.0 68.1h1M418.7 67.6h1M420.3 68.2h1M422.2 67.9h1M424.2 67.7h1M426.1 68.2h1M427.3 68.3h1M429.3 67.8h1M431.0 68.3h1M433.0 68.2h1M434.3 68.3h1M436.5 68.3h1M438.1 68.4h1M440.2 67.7h1M441.8 67.7h1M443.2 68.4h1M445.2 67.9h1M447.0 68.0h1M448.9 67.8h1M450.1 68.2h1M451.8 68.0h1M453.6 67.9h1M406.1 69.8h1M407.4 69.2h1M409.1 69.7h1M411.0 69.9h1M413.0 69.9h1M414.2 70.0h1M415.9 70.0h1M418.0 69.2h1M419.9 69.8h1M421.7 69.5h1M422.8 69.4h1M424.8 69.1h1M427.2 69.6h1M428.2 69.3h1M429.9 69.9h1M432.2 69.8h1M433.9 69.6h1M437.4 69.2h1M439.4 69.9h1M441.1 69.8h1M442.6 69.7h1M444.6 69.3h1M446.1 69.2h1M447.5 69.9h1M449.3 69.6h1M451.5 69.5h1M452.9 69.6h1M454.5 69.3h1M406.5 71.3h1M408.2 70.8h1M410.5 71.1h1M411.7 71.0h1M414.0 71.1h1M415.8 71.4h1M416.9 71.5h1M418.9 71.4h1M420.5 71.2h1M422.6 71.2h1M424.0 71.1h1M425.9 71.1h1M427.5 70.7h1M429.5 71.0h1M431.2 71.5h1M432.6 70.8h1M438.3 71.1h1M440.2 71.5h1M442.1 71.2h1M443.3 70.8h1M445.3 71.0h1M446.6 71.2h1M448.5 71.4h1M450.5 70.8h1M451.7 71.5h1M453.6 71.0h1M455.5 70.7h1M405.6 73.1h1M407.7 72.7h1M409.6 72.7h1M410.9 72.7h1M412.9 72.6h1M414.8 72.8h1M415.8 72.6h1M418.2 72.4h1M419.8 72.2h1M421.2 72.3h1M423.3 72.2h1M425.2 72.8h1M426.5 72.6h1M428.1 72.8h1M430.5 72.9h1M431.8 72.9h1M439.3 72.8h1M441.0 72.5h1M442.2 72.9h1M443.9 72.5h1M445.6 72.3h1M448.1 72.7h1M449.8 72.7h1M451.2 72.3h1M452.8 72.5h1M454.8 72.2h1M456.3 72.2h1M458.3 73.0h1M406.8 74.5h1M408.3 74.0h1M410.2 73.9h1M412.3 74.5h1M414.1 74.2h1M415.5 74.3h1M416.9 73.9h1M418.6 74.6h1M420.6 73.9h1M422.8 74.6h1M423.8 74.0h1M425.7 74.3h1M427.4 74.3h1M429.4 74.4h1M431.1 73.9h1M440.2 74.1h1M441.7 74.3h1M443.7 73.9h1M444.8 74.6h1M446.6 74.2h1M448.3 73.7h1M450.3 73.8h1M452.3 73.9h1M454.1 74.5h1M455.6 74.0h1M457.2 74.4h1M407.8 75.4h1M409.6 76.0h1M411.4 75.3h1M412.7 75.9h1M414.5 75.6h1M416.6 75.4h1M418.3 75.9h1M419.6 76.0h1M421.7 75.4h1M423.3 75.5h1M425.3 75.2h1M426.6 75.8h1M428.3 75.5h1M430.4 75.6h1M440.7 75.6h1M442.9 75.5h1M443.9 75.3h1M445.7 75.3h1M448.1 75.4h1M449.4 75.5h1M451.0 76.0h1M452.6 75.4h1M454.9 75.8h1M456.9 75.7h1M458.2 75.4h1M408.3 76.9h1M410.4 76.9h1M411.8 77.1h1M422.0 77.4h1M424.5 77.4h1M426.0 77.0h1M428.0 77.2h1M429.4 77.2h1M441.5 76.9h1M443.5 77.3h1M445.5 77.1h1M447.3 77.6h1M448.3 77.6h1M450.0 77.1h1M452.5 77.6h1M453.8 77.5h1M455.6 77.5h1M457.6 77.4h1M459.4 76.9h1M460.6 77.5h1M427.1 78.8h1M440.8 78.4h1M442.7 79.2h1M444.4 78.9h1M446.1 78.6h1M447.6 78.7h1M449.3 79.0h1M451.1 78.7h1M452.6 78.7h1M454.9 78.5h1M456.4 78.5h1M458.2 78.9h1M460.2 78.3h1M443.5 80.7h1M445.0 79.9h1M447.0 80.3h1M448.4 80.0h1M450.5 80.5h1M452.2 80.3h1M454.3 80.5h1M455.8 80.7h1M457.7 80.3h1M459.2 80.1h1M460.6 79.8h1M444.3 81.4h1M445.9 82.0h1M448.0 81.9h1M449.3 81.9h1M451.2 81.9h1M452.6 82.2h1M455.0 81.7h1M456.1 81.8h1M458.7 81.6h1M459.8 81.7h1M461.9 81.4h1M443.4 83.5h1M445.3 83.4h1M447.2 83.4h1M448.3 83.0h1M450.4 83.6h1M452.4 83.1h1M453.8 83.6h1M455.9 83.4h1M457.7 83.0h1M458.8 83.0h1M460.8 82.9h1M443.9 84.9h1M446.3 84.8h1M447.8 85.0h1M449.9 84.8h1M451.5 84.6h1M453.4 85.1h1M455.0 84.9h1M456.3 84.5h1M458.4 85.1h1M460.3 84.8h1M461.5 84.6h1M445.3 86.0h1M447.0 86.7h1M448.2 86.6h1M450.0 86.7h1M452.5 86.1h1M453.7 86.4h1M455.6 86.2h1M457.3 86.3h1M459.3 86.1h1M460.8 86.0h1M446.1 87.7h1M448.2 87.5h1M449.3 88.1h1M451.1 87.6h1M452.9 87.6h1M455.1 88.1h1M456.1 87.7h1M458.0 87.8h1M446.7 88.9h1M448.9 89.1h1M450.5 89.1h1M452.5 89.6h1M454.0 89.3h1M455.8 89.7h1M457.6 89.0h1M447.3 90.6h1M449.1 90.6h1M451.0 90.5h1M452.8 91.0h1M454.9 91.3h1M456.9 90.7h1M448.8 92.5h1M450.1 92.0h1M451.8 92.4h1M453.5 92.0h1M455.5 92.7h1M449.3 93.7h1M450.9 93.9h1M452.8 94.0h1M450.8 95.1h1"/>
<polygon points="407,81.3 413.5,75 422,76 430.4,81.3 436.7,89.8 435.7,100.4 430.4,108.8 422,115.2 413.5,119.4 409.2,113 402.9,100.4 401.8,92" fill="#fbfaea"/>
<path stroke="#e0dbae" stroke-width="1" d="M412.5 76.1h1M414.8 76.7h1M415.9 76.2h1M417.9 76.4h1M419.3 76.5h1M421.7 76.6h1M422.8 76.9h1M410.4 78.0h1M412.0 77.7h1M413.5 77.6h1M415.6 77.8h1M416.7 77.9h1M418.5 77.9h1M421.0 78.4h1M422.1 78.4h1M423.9 77.9h1M409.6 80.0h1M411.1 79.8h1M412.4 79.5h1M414.7 79.4h1M416.2 79.2h1M418.1 79.6h1M420.0 79.2h1M421.6 79.3h1M422.7 79.4h1M424.6 79.8h1M427.1 79.7h1M408.5 80.8h1M410.3 81.0h1M411.4 81.0h1M413.5 80.7h1M415.0 81.1h1M416.7 81.5h1M419.2 80.9h1M420.7 80.8h1M422.1 81.5h1M424.0 80.7h1M425.4 81.5h1M427.3 80.9h1M429.0 81.4h1M406.0 82.9h1M407.4 82.6h1M408.9 82.6h1M411.3 82.5h1M412.3 82.4h1M414.8 82.9h1M415.8 82.7h1M418.2 82.7h1M420.1 82.3h1M421.3 82.5h1M423.2 82.6h1M424.5 82.6h1M426.4 82.3h1M428.1 82.9h1M429.9 82.5h1M407.0 84.1h1M407.9 84.1h1M410.2 84.0h1M411.6 84.2h1M413.6 84.5h1M415.1 84.3h1M416.9 84.5h1M419.1 84.5h1M420.6 84.2h1M422.0 84.5h1M424.5 84.5h1M426.0 83.8h1M427.2 84.0h1M429.4 83.9h1M431.5 84.2h1M405.9 85.6h1M407.6 85.6h1M409.5 85.7h1M410.8 85.3h1M412.6 85.6h1M414.0 85.5h1M415.8 85.8h1M417.8 85.7h1M419.3 85.8h1M421.7 85.4h1M423.2 85.4h1M424.6 85.4h1M426.6 85.3h1M428.3 85.3h1M430.0 85.8h1M431.7 86.0h1M433.4 86.1h1M404.9 86.8h1M406.1 86.8h1M408.0 87.1h1M410.4 86.9h1M411.5 87.2h1M413.3 87.5h1M415.5 87.1h1M416.9 87.5h1M418.7 87.4h1M420.7 87.2h1M422.4 86.8h1M423.6 87.5h1M425.6 87.3h1M427.8 87.2h1M428.9 87.5h1M430.7 87.6h1M432.9 86.9h1M404.0 88.3h1M405.5 88.6h1M407.9 88.3h1M409.5 88.9h1M410.7 89.0h1M413.0 88.3h1M414.1 89.0h1M416.3 88.5h1M418.3 88.6h1M419.5 88.5h1M421.0 88.6h1M423.2 88.8h1M424.7 88.8h1M426.5 88.5h1M428.0 88.9h1M430.6 88.8h1M431.7 88.3h1M433.9 88.4h1M403.4 90.6h1M404.6 90.5h1M406.1 90.4h1M407.9 90.6h1M409.7 90.3h1M411.8 90.2h1M413.1 90.2h1M415.1 90.4h1M417.3 90.3h1M418.8 90.2h1M420.1 89.8h1M422.4 90.4h1M424.4 90.5h1M425.9 90.2h1M427.7 90.0h1M429.3 90.6h1M430.7 90.1h1M432.7 90.4h1M434.8 90.2h1M402.0 91.3h1M404.3 91.5h1M406.1 91.7h1M407.2 91.5h1M408.8 91.5h1M411.4 92.2h1M412.9 91.4h1M414.7 91.4h1M416.5 92.0h1M418.1 91.5h1M419.3 91.5h1M421.3 91.8h1M422.8 91.4h1M424.9 91.4h1M426.5 91.5h1M428.1 91.5h1M430.4 91.8h1M431.5 92.0h1M433.8 91.5h1M435.3 91.3h1M401.7 93.1h1M403.0 93.4h1M404.5 93.0h1M406.2 93.2h1M407.9 93.1h1M410.2 93.7h1M411.6 93.7h1M413.6 92.8h1M415.0 93.1h1M417.3 93.3h1M419.1 93.4h1M420.3 93.4h1M422.6 93.3h1M423.7 93.4h1M426.1 92.9h1M427.6 93.6h1M429.1 93.3h1M431.4 93.3h1M432.9 93.3h1M434.3 93.7h1M401.8 94.7h1M404.1 94.8h1M406.0 94.4h1M407.1 94.6h1M409.6 94.7h1M411.0 94.6h1M412.3 95.1h1M414.9 94.5h1M415.7 95.0h1M417.6 95.2h1M420.0 95.0h1M421.2 94.5h1M423.1 94.7h1M424.7 94.6h1M426.6 95.2h1M428.0 94.8h1M429.9 95.1h1M431.8 94.9h1M433.6 94.4h1M403.1 96.3h1M405.2 96.3h1M406.7 96.0h1M408.6 96.7h1M409.9 96.6h1M412.0 96.5h1M413.6 96.7h1M414.9 96.3h1M417.1 96.0h1M418.5 96.5h1M420.8 96.0h1M422.3 96.7h1M424.5 95.9h1M425.7 96.0h1M427.6 96.6h1M429.4 96.5h1M430.7 96.7h1M433.0 96.6h1M434.6 96.7h1M402.3 98.0h1M404.3 98.0h1M406.0 97.4h1M407.6 98.2h1M408.8 97.5h1M410.5 97.9h1M412.4 97.7h1M414.8 97.6h1M416.5 97.8h1M418.0 98.2h1M419.8 98.0h1M421.0 97.7h1M423.1 98.3h1M425.3 98.1h1M427.1 98.0h1M428.2 97.4h1M430.1 98.0h1M432.3 98.0h1M433.6 97.5h1M402.9 99.5h1M404.9 99.6h1M406.1 99.7h1M408.6 99.1h1M410.1 99.4h1M411.8 99.4h1M413.3 99.1h1M414.9 99.1h1M417.2 99.7h1M418.9 99.0h1M420.7 99.6h1M422.1 99.1h1M424.3 99.4h1M426.2 99.4h1M427.9 99.7h1M428.9 99.3h1M431.2 99.7h1M432.6 99.0h1M434.5 99.5h1M404.2 100.7h1M405.6 101.2h1M407.2 100.7h1M409.4 100.7h1M411.2 101.1h1M412.4 100.5h1M414.2 100.9h1M416.1 101.1h1M417.6 101.3h1M419.3 101.1h1M421.8 100.9h1M422.8 101.2h1M425.2 100.9h1M427.0 100.5h1M428.7 101.3h1M430.6 101.1h1M432.0 101.3h1M434.1 101.3h1M404.5 102.0h1M406.9 102.2h1M408.1 102.5h1M409.9 102.4h1M411.4 102.0h1M413.8 102.1h1M415.4 102.0h1M417.3 102.4h1M419.0 102.8h1M420.9 102.6h1M422.2 102.1h1M424.2 102.3h1M425.6 102.4h1M427.1 102.7h1M429.0 102.3h1M430.7 102.5h1M433.2 102.3h1M405.7 104.3h1M407.5 104.2h1M408.9 103.9h1M411.2 103.8h1M412.5 104.1h1M414.2 104.2h1M416.6 103.6h1M417.6 103.9h1M419.4 103.9h1M421.8 103.6h1M422.8 104.3h1M424.9 103.5h1M426.8 103.7h1M428.4 104.3h1M430.1 103.5h1M431.6 103.6h1M405.0 105.1h1M406.5 105.6h1M408.5 105.4h1M409.8 105.5h1M411.8 105.0h1M413.2 105.1h1M415.6 105.5h1M417.0 105.7h1M418.7 105.5h1M420.7 105.1h1M421.9 105.9h1M423.9 105.7h1M426.1 105.8h1M427.4 105.2h1M429.0 105.2h1M431.0 105.2h1M406.0 106.8h1M407.2 107.2h1M408.9 106.9h1M411.0 107.3h1M412.2 106.7h1M414.5 106.8h1M416.5 107.0h1M418.1 107.4h1M419.3 107.3h1M421.2 106.7h1M423.3 106.6h1M425.2 106.9h1M426.4 106.8h1M428.5 106.9h1M430.3 107.4h1M406.8 108.5h1M408.6 108.8h1M409.9 108.3h1M411.6 108.5h1M413.2 108.4h1M415.3 108.9h1M416.7 108.7h1M419.2 108.8h1M420.8 108.7h1M422.5 108.3h1M424.1 108.7h1M426.2 108.9h1M427.4 108.4h1M429.7 108.1h1M407.6 110.1h1M409.6 110.0h1M410.9 109.9h1M412.9 110.0h1M414.4 110.3h1M415.9 110.3h1M418.1 109.7h1M419.7 110.2h1M421.8 110.2h1M423.6 110.4h1M424.7 109.9h1M426.2 109.9h1M408.0 111.3h1M409.6 111.8h1M411.9 112.0h1M413.5 111.3h1M415.4 111.9h1M416.7 111.6h1M418.8 111.2h1M420.5 111.8h1M422.1 111.9h1M423.9 111.4h1M409.1 113.3h1M411.4 113.5h1M412.3 112.7h1M414.5 112.7h1M415.9 113.2h1M417.7 113.0h1M419.4 112.8h1M421.8 112.8h1M423.2 113.3h1M410.0 114.4h1M411.5 114.7h1M413.5 114.6h1M415.3 114.9h1M417.4 114.8h1M418.9 114.3h1M420.6 114.9h1M422.7 114.1h1M412.6 116.2h1M414.2 116.5h1M416.0 116.4h1M418.3 115.9h1M412.1 117.7h1M413.3 117.2h1M415.6 117.6h1"/>
<polygon points="398,106 404,104 410,106 411.4,112 408,118 402,119.4 397,116 396.5,110" fill="#f1f6f7"/>
<path stroke="#c0d3d8" stroke-width="1" d="M400.7 105.8h1M402.3 105.3h1M404.3 105.2h1M405.7 105.4h1M397.5 107.1h1M399.4 106.8h1M401.3 107.2h1M402.6 107.0h1M404.4 107.3h1M406.8 107.5h1M407.9 106.8h1M396.7 108.9h1M398.3 108.4h1M400.8 108.4h1M401.8 108.4h1M403.6 108.2h1M405.7 108.9h1M407.1 108.5h1M409.6 108.6h1M396.4 110.4h1M398.2 110.1h1M399.5 110.5h1M401.3 110.2h1M402.9 109.7h1M405.2 109.8h1M406.1 110.5h1M407.9 109.8h1M410.4 110.3h1M396.7 111.9h1M398.6 111.3h1M400.2 111.4h1M402.2 111.3h1M403.5 111.2h1M405.6 111.4h1M407.3 111.6h1M409.5 111.8h1M410.6 111.4h1M397.9 113.2h1M399.7 112.9h1M401.4 113.1h1M403.3 112.9h1M404.4 112.8h1M406.1 113.2h1M408.4 113.1h1M397.3 114.4h1M398.4 114.4h1M400.1 114.3h1M402.4 114.6h1M403.6 114.5h1M406.0 114.3h1M407.0 114.3h1M398.0 116.0h1M399.3 116.3h1M401.4 116.3h1M402.6 116.2h1M404.4 116.6h1M406.8 116.5h1M408.2 116.0h1M400.1 117.3h1M402.2 117.4h1M403.9 117.4h1M406.0 117.9h1M407.2 118.1h1M403.1 118.9h1"/>
<polygon points="441.5,101.5 444,101 445,104 444,106.5 441.5,106" fill="#fbf3f4"/>
<path stroke="#e0bec5" stroke-width="1" d="M442.1 102.8h1M441.2 104.3h1M443.0 103.9h1M441.6 105.2h1"/>
<line x1="229.6" y1="26.5" x2="229.6" y2="124.3" stroke="#1a1a1a" stroke-width="1.2"/>
<line x1="229.6" y1="124.3" x2="337" y2="124.3" stroke="#1a1a1a" stroke-width="1.2"/>
<text transform="translate(224.3,76.6) rotate(-90)" x="0" y="0" font-size="8.4" fill="#1e1e1e" text-anchor="middle" textLength="23.3" lengthAdjust="spacingAndGlyphs" >t-SNE 2</text>
<text x="282.7" y="135.9" font-size="8.4" fill="#1e1e1e" text-anchor="middle" textLength="23.4" lengthAdjust="spacingAndGlyphs" >t-SNE 1</text>
<text x="283.5" y="19.2" font-size="8.8" fill="#5b6f92" text-anchor="middle" >Control</text>
<text x="238.5" y="38.8" font-size="6.9" fill="#a5334f" >CD4<tspan font-size="4.6" dy="-2.4">+</tspan></text>
<text x="238.5" y="46" font-size="6.9" fill="#a5334f" >Naive</text>
<text x="313.8" y="33.5" font-size="6.9" fill="#8f7272" text-anchor="middle" >CD4<tspan font-size="4.6" dy="-2.4">+</tspan></text>
<text x="313.8" y="40.2" font-size="6.9" fill="#8f7272" text-anchor="middle" >CM</text>
<text x="329.5" y="57" font-size="6.9" fill="#bbb985" text-anchor="middle" >CD4<tspan font-size="4.6" dy="-2.4">+</tspan></text>
<text x="329.5" y="64.4" font-size="6.9" fill="#bbb985" text-anchor="middle" >EM</text>
<text x="290.5" y="96.5" font-size="6.9" fill="#c4b2bf" text-anchor="middle" >CD8<tspan font-size="4.6" dy="-2.4">+</tspan></text>
<text x="290.5" y="104.2" font-size="6.9" fill="#c4b2bf" text-anchor="middle" >CM</text>
<text x="313.3" y="95.8" font-size="6.9" fill="#2f9a72" text-anchor="middle" >CD8<tspan font-size="4.6" dy="-2.4">+</tspan></text>
<text x="313.3" y="103.5" font-size="6.9" fill="#2f9a72" text-anchor="middle" >TEMRA</text>
<text x="250.4" y="112" font-size="6.9" fill="#b5c3c8" text-anchor="middle" >CD8<tspan font-size="4.6" dy="-2.4">+</tspan></text>
<text x="250.4" y="119.2" font-size="6.9" fill="#b5c3c8" text-anchor="middle" >Naive</text>
<text x="334.8" y="115" font-size="6.9" fill="#5a5a5a" text-anchor="end" >CD8<tspan font-size="4.6" dy="-2.4">+</tspan></text>
<text x="334.8" y="122.7" font-size="6.9" fill="#5a5a5a" text-anchor="end" >EM</text>
<line x1="357.2" y1="26.3" x2="357.2" y2="124.3" stroke="#1a1a1a" stroke-width="1.2"/>
<line x1="357.2" y1="124.3" x2="464.6" y2="124.3" stroke="#1a1a1a" stroke-width="1.2"/>
<text transform="translate(351.3,76.2) rotate(-90)" x="0" y="0" font-size="8.4" fill="#1e1e1e" text-anchor="middle" textLength="24.5" lengthAdjust="spacingAndGlyphs" >t-SNE 2</text>
<text x="410.3" y="136" font-size="8.4" fill="#1e1e1e" text-anchor="middle" textLength="23.5" lengthAdjust="spacingAndGlyphs" >t-SNE 1</text>
<text x="410.4" y="18.8" font-size="8.8" fill="#c0314b" text-anchor="middle" >ITP</text>
<text x="373.3" y="38" font-size="6.9" fill="#bcbcbc" text-anchor="middle" >CD8<tspan font-size="4.6" dy="-2.4">+</tspan></text>
<text x="373.3" y="45.4" font-size="6.9" fill="#bcbcbc" text-anchor="middle" >CM</text>
<text x="442" y="35.9" font-size="6.9" fill="#8f7272" text-anchor="middle" >CD4<tspan font-size="4.6" dy="-2.4">+</tspan></text>
<text x="442" y="43.3" font-size="6.9" fill="#8f7272" text-anchor="middle" >CM</text>
<text x="359.5" y="114" font-size="6.9" fill="#2f9a72" >CD8</text>
<text x="359.5" y="120.5" font-size="6.9" fill="#2f9a72" >TEMRA</text>
<text x="404" y="109" font-size="6.9" fill="#b5cdd8" text-anchor="middle" >CD8<tspan font-size="4.6" dy="-2.4">+</tspan></text>
<text x="404" y="115.2" font-size="6.9" fill="#b5cdd8" text-anchor="middle" >Naive</text>
<text x="433" y="113" font-size="6.9" fill="#bbb985" text-anchor="middle" >CD4<tspan font-size="4.6" dy="-2.4">+</tspan></text>
<text x="433" y="120.5" font-size="6.9" fill="#bbb985" text-anchor="middle" >EM</text>
<text x="453" y="102.3" font-size="6.9" fill="#a5334f" >CD4<tspan font-size="4.6" dy="-2.4">+</tspan></text>
<text x="453" y="110" font-size="6.9" fill="#a5334f" >Naive</text>
<rect x="0.5" y="0.5" width="519" height="540" fill="none" stroke="#4a4a4a" stroke-width="1"/>
</svg>
</body></html>
